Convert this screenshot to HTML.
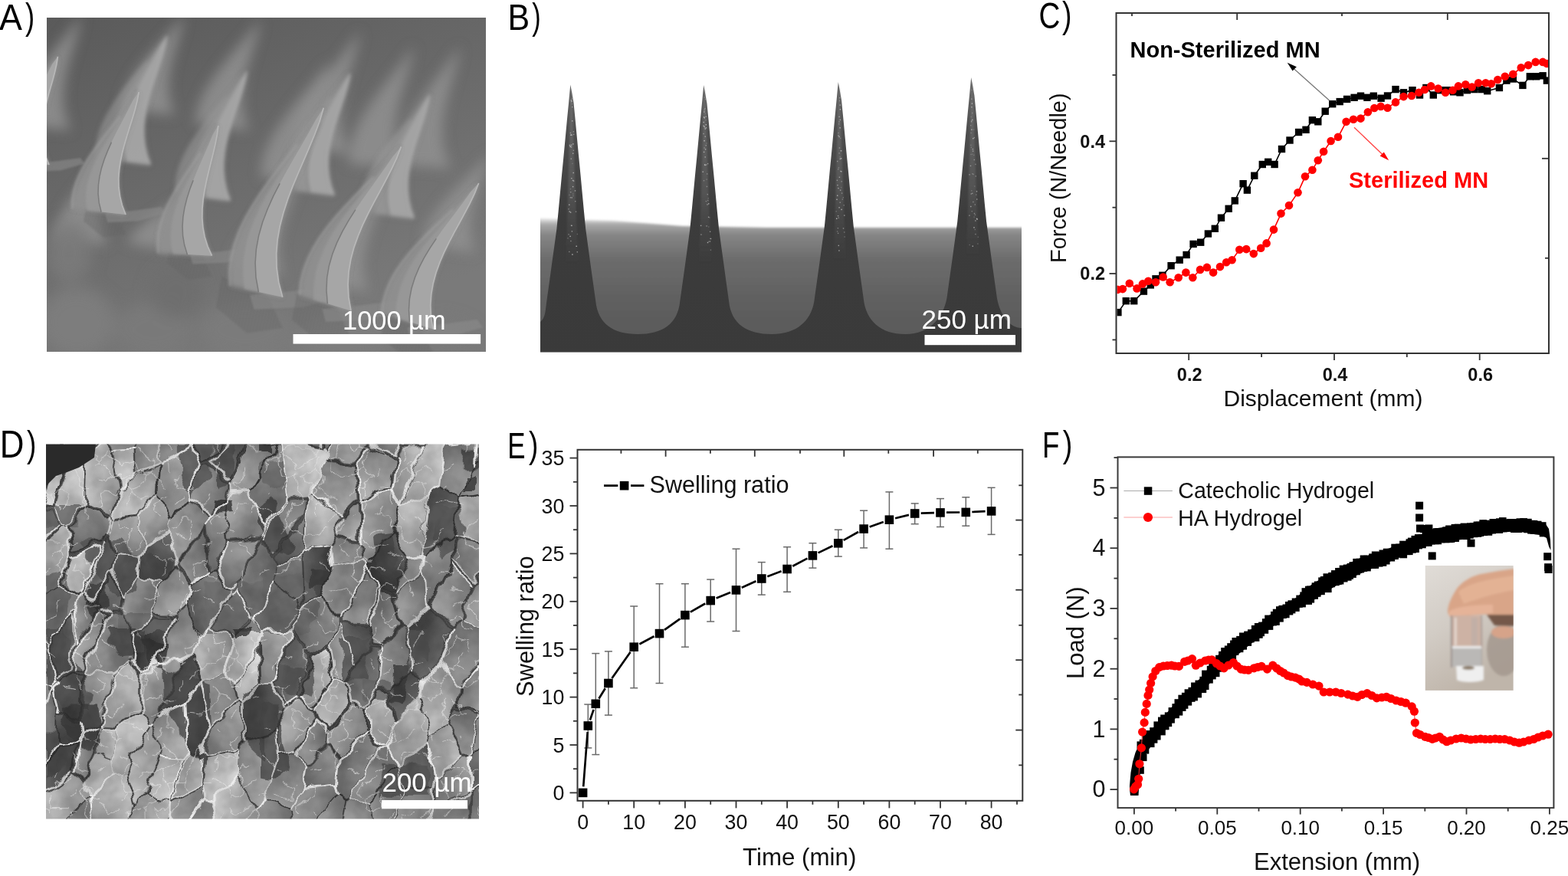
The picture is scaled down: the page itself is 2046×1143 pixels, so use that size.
<!DOCTYPE html>
<html><head><meta charset="utf-8"><title>Figure</title>
<style>html,body{margin:0;padding:0;background:#fff;overflow:hidden}svg{display:block}</style>
</head><body>
<svg width="2046" height="1143" viewBox="0 0 2046 1143">
<defs>
<clipPath id="clipA"><rect x="61" y="23" width="573" height="436"/></clipPath>
<clipPath id="clipB"><rect x="705" y="0" width="628" height="459.5"/></clipPath>
<clipPath id="clipC"><rect x="1457.5" y="18" width="562.5" height="442"/></clipPath>
<clipPath id="clipD"><rect x="60" y="579.5" width="565" height="489"/></clipPath>
<clipPath id="clipF"><rect x="1459.5" y="597.4" width="566.9" height="455.7"/></clipPath>
<clipPath id="clipFi"><rect x="1859.5" y="738" width="115.3" height="162.9"/></clipPath>
<linearGradient id="gA" x1="0" y1="0" x2="0.5" y2="1">
 <stop offset="0" stop-color="#5a5a5a"/><stop offset="0.45" stop-color="#686868"/><stop offset="1" stop-color="#7a7a7a"/></linearGradient>
<linearGradient id="gB" gradientUnits="userSpaceOnUse" x1="0" y1="286" x2="0" y2="460">
 <stop offset="0" stop-color="#e2e2e2"/><stop offset="0.04" stop-color="#a8a8a8"/><stop offset="0.12" stop-color="#858585"/>
 <stop offset="0.3" stop-color="#6c6c6c"/><stop offset="0.65" stop-color="#5e5e5e"/><stop offset="1" stop-color="#575757"/></linearGradient>
<linearGradient id="gN" gradientUnits="userSpaceOnUse" x1="0" y1="100" x2="0" y2="460">
 <stop offset="0" stop-color="#6a6a6a"/><stop offset="0.2" stop-color="#4e4e4e"/><stop offset="0.5" stop-color="#3c3c3c"/>
 <stop offset="1" stop-color="#3a3a3a"/></linearGradient>
<linearGradient id="gFi" x1="0" y1="0" x2="0.4" y2="1">
 <stop offset="0" stop-color="#e0dcd7"/><stop offset="0.5" stop-color="#d2ccc5"/><stop offset="1" stop-color="#bfb5aa"/></linearGradient>
<filter id="blur05" x="-10%" y="-10%" width="120%" height="120%"><feGaussianBlur stdDeviation="0.6"/></filter>
<filter id="blur3" x="-20%" y="-20%" width="140%" height="140%"><feGaussianBlur stdDeviation="3"/></filter>
<pattern id="stri" patternUnits="userSpaceOnUse" width="4" height="8" patternTransform="rotate(12)"><rect width="4" height="8" fill="#6a6a6a"/><rect width="1.4" height="8" fill="#585858"/></pattern>
<filter id="blur1" x="-10%" y="-10%" width="120%" height="120%"><feGaussianBlur stdDeviation="0.8"/></filter>
<filter id="blur15" x="-10%" y="-10%" width="120%" height="120%"><feGaussianBlur stdDeviation="1.5"/></filter>
<filter id="blur2" x="-10%" y="-10%" width="120%" height="120%"><feGaussianBlur stdDeviation="2"/></filter>
<filter id="blur4" x="-20%" y="-20%" width="140%" height="140%"><feGaussianBlur stdDeviation="4"/></filter>
<filter id="blur6" x="-20%" y="-20%" width="140%" height="140%"><feGaussianBlur stdDeviation="6"/></filter>
<filter id="blur8" x="-30%" y="-30%" width="160%" height="160%"><feGaussianBlur stdDeviation="8"/></filter>
<filter id="blur10" x="-30%" y="-30%" width="160%" height="160%"><feGaussianBlur stdDeviation="10"/></filter>
<filter id="warpD" x="-5%" y="-5%" width="110%" height="110%">
 <feTurbulence type="fractalNoise" baseFrequency="0.045" numOctaves="2" seed="9" result="t"/>
 <feDisplacementMap in="SourceGraphic" in2="t" scale="16" xChannelSelector="R" yChannelSelector="G"/>
</filter>
<filter id="warpD2" x="-5%" y="-5%" width="110%" height="110%">
 <feTurbulence type="fractalNoise" baseFrequency="0.09" numOctaves="2" seed="3" result="t"/>
 <feDisplacementMap in="SourceGraphic" in2="t" scale="10" xChannelSelector="R" yChannelSelector="G"/>
</filter>
<filter id="noiseD" x="0" y="0" width="100%" height="100%">
 <feTurbulence type="fractalNoise" baseFrequency="0.035" numOctaves="3" seed="4"/>
 <feColorMatrix type="matrix" values="0 0 0 0 0  0 0 0 0 0  0 0 0 0 0  1.6 1.6 0 0 -1.2"/>
</filter>
<linearGradient id="bs0" gradientUnits="userSpaceOnUse" x1="0" y1="110.5" x2="0" y2="345.5"><stop offset="0" stop-color="#777" stop-opacity="0.7"/><stop offset="0.6" stop-color="#666" stop-opacity="0.5"/><stop offset="1" stop-color="#555" stop-opacity="0"/></linearGradient>
<linearGradient id="bs1" gradientUnits="userSpaceOnUse" x1="0" y1="111" x2="0" y2="346"><stop offset="0" stop-color="#777" stop-opacity="0.7"/><stop offset="0.6" stop-color="#666" stop-opacity="0.5"/><stop offset="1" stop-color="#555" stop-opacity="0"/></linearGradient>
<linearGradient id="bs2" gradientUnits="userSpaceOnUse" x1="0" y1="107" x2="0" y2="342"><stop offset="0" stop-color="#777" stop-opacity="0.7"/><stop offset="0.6" stop-color="#666" stop-opacity="0.5"/><stop offset="1" stop-color="#555" stop-opacity="0"/></linearGradient>
<linearGradient id="bs3" gradientUnits="userSpaceOnUse" x1="0" y1="101" x2="0" y2="336"><stop offset="0" stop-color="#777" stop-opacity="0.7"/><stop offset="0.6" stop-color="#666" stop-opacity="0.5"/><stop offset="1" stop-color="#555" stop-opacity="0"/></linearGradient>
<linearGradient id="dg19" x1="0.20" y1="0.10" x2="0.80" y2="0.90"><stop offset="0" stop-color="#aaaaaa"/><stop offset="1" stop-color="#7a7a7a"/></linearGradient>
<linearGradient id="dg22" x1="0.04" y1="0.29" x2="0.96" y2="0.71"><stop offset="0" stop-color="#afafaf"/><stop offset="1" stop-color="#7f7f7f"/></linearGradient>
<linearGradient id="dg24" x1="0.96" y1="0.31" x2="0.04" y2="0.69"><stop offset="0" stop-color="#a1a1a1"/><stop offset="1" stop-color="#717171"/></linearGradient>
<linearGradient id="dg31" x1="0.06" y1="0.74" x2="0.94" y2="0.26"><stop offset="0" stop-color="#aeaeae"/><stop offset="1" stop-color="#7e7e7e"/></linearGradient>
<linearGradient id="dg38" x1="0.24" y1="0.07" x2="0.76" y2="0.93"><stop offset="0" stop-color="#aeaeae"/><stop offset="1" stop-color="#7e7e7e"/></linearGradient>
<linearGradient id="dg39" x1="0.11" y1="0.82" x2="0.89" y2="0.18"><stop offset="0" stop-color="#aaaaaa"/><stop offset="1" stop-color="#7a7a7a"/></linearGradient>
<linearGradient id="dg40" x1="0.00" y1="0.57" x2="1.00" y2="0.43"><stop offset="0" stop-color="#a2a2a2"/><stop offset="1" stop-color="#727272"/></linearGradient>
<linearGradient id="dg41" x1="0.87" y1="0.83" x2="0.13" y2="0.17"><stop offset="0" stop-color="#a6a6a6"/><stop offset="1" stop-color="#767676"/></linearGradient>
<linearGradient id="dg42" x1="0.82" y1="0.88" x2="0.18" y2="0.12"><stop offset="0" stop-color="#a0a0a0"/><stop offset="1" stop-color="#707070"/></linearGradient>
<linearGradient id="dg43" x1="0.83" y1="0.88" x2="0.17" y2="0.12"><stop offset="0" stop-color="#a7a7a7"/><stop offset="1" stop-color="#777777"/></linearGradient>
<linearGradient id="dg44" x1="0.42" y1="0.99" x2="0.58" y2="0.01"><stop offset="0" stop-color="#7a7a7a"/><stop offset="1" stop-color="#4a4a4a"/></linearGradient>
<linearGradient id="dg45" x1="0.98" y1="0.62" x2="0.02" y2="0.38"><stop offset="0" stop-color="#adadad"/><stop offset="1" stop-color="#7d7d7d"/></linearGradient>
<linearGradient id="dg46" x1="0.52" y1="0.00" x2="0.48" y2="1.00"><stop offset="0" stop-color="#9e9e9e"/><stop offset="1" stop-color="#6e6e6e"/></linearGradient>
<linearGradient id="dg47" x1="0.48" y1="0.00" x2="0.52" y2="1.00"><stop offset="0" stop-color="#a0a0a0"/><stop offset="1" stop-color="#707070"/></linearGradient>
<linearGradient id="dg48" x1="0.47" y1="1.00" x2="0.53" y2="0.00"><stop offset="0" stop-color="#a9a9a9"/><stop offset="1" stop-color="#797979"/></linearGradient>
<linearGradient id="dg49" x1="0.73" y1="0.06" x2="0.27" y2="0.94"><stop offset="0" stop-color="#aaaaaa"/><stop offset="1" stop-color="#7a7a7a"/></linearGradient>
<linearGradient id="dg50" x1="0.04" y1="0.30" x2="0.96" y2="0.70"><stop offset="0" stop-color="#999999"/><stop offset="1" stop-color="#696969"/></linearGradient>
<linearGradient id="dg51" x1="0.33" y1="0.97" x2="0.67" y2="0.03"><stop offset="0" stop-color="#999999"/><stop offset="1" stop-color="#696969"/></linearGradient>
<linearGradient id="dg52" x1="0.28" y1="0.95" x2="0.72" y2="0.05"><stop offset="0" stop-color="#adadad"/><stop offset="1" stop-color="#7d7d7d"/></linearGradient>
<linearGradient id="dg53" x1="0.44" y1="0.00" x2="0.56" y2="1.00"><stop offset="0" stop-color="#afafaf"/><stop offset="1" stop-color="#7f7f7f"/></linearGradient>
<linearGradient id="dg56" x1="0.46" y1="0.00" x2="0.54" y2="1.00"><stop offset="0" stop-color="#ababab"/><stop offset="1" stop-color="#7b7b7b"/></linearGradient>
<linearGradient id="dg57" x1="0.40" y1="0.99" x2="0.60" y2="0.01"><stop offset="0" stop-color="#dedede"/><stop offset="1" stop-color="#aeaeae"/></linearGradient>
<linearGradient id="dg58" x1="0.02" y1="0.36" x2="0.98" y2="0.64"><stop offset="0" stop-color="#cbcbcb"/><stop offset="1" stop-color="#9b9b9b"/></linearGradient>
<linearGradient id="dg59" x1="0.81" y1="0.89" x2="0.19" y2="0.11"><stop offset="0" stop-color="#d9d9d9"/><stop offset="1" stop-color="#a9a9a9"/></linearGradient>
<linearGradient id="dg60" x1="0.24" y1="0.93" x2="0.76" y2="0.07"><stop offset="0" stop-color="#d1d1d1"/><stop offset="1" stop-color="#a1a1a1"/></linearGradient>
<linearGradient id="dg61" x1="0.73" y1="0.06" x2="0.27" y2="0.94"><stop offset="0" stop-color="#bababa"/><stop offset="1" stop-color="#8a8a8a"/></linearGradient>
<linearGradient id="dg62" x1="0.01" y1="0.43" x2="0.99" y2="0.57"><stop offset="0" stop-color="#a3a3a3"/><stop offset="1" stop-color="#737373"/></linearGradient>
<linearGradient id="dg63" x1="0.15" y1="0.85" x2="0.85" y2="0.15"><stop offset="0" stop-color="#afafaf"/><stop offset="1" stop-color="#7f7f7f"/></linearGradient>
<linearGradient id="dg64" x1="0.44" y1="0.00" x2="0.56" y2="1.00"><stop offset="0" stop-color="#9a9a9a"/><stop offset="1" stop-color="#6a6a6a"/></linearGradient>
<linearGradient id="dg65" x1="0.92" y1="0.23" x2="0.08" y2="0.77"><stop offset="0" stop-color="#dedede"/><stop offset="1" stop-color="#aeaeae"/></linearGradient>
<linearGradient id="dg66" x1="0.58" y1="0.99" x2="0.42" y2="0.01"><stop offset="0" stop-color="#b6b6b6"/><stop offset="1" stop-color="#868686"/></linearGradient>
<linearGradient id="dg67" x1="0.47" y1="1.00" x2="0.53" y2="0.00"><stop offset="0" stop-color="#b4b4b4"/><stop offset="1" stop-color="#848484"/></linearGradient>
<linearGradient id="dg68" x1="0.97" y1="0.34" x2="0.03" y2="0.66"><stop offset="0" stop-color="#c1c1c1"/><stop offset="1" stop-color="#919191"/></linearGradient>
<linearGradient id="dg69" x1="0.85" y1="0.14" x2="0.15" y2="0.86"><stop offset="0" stop-color="#d5d5d5"/><stop offset="1" stop-color="#a5a5a5"/></linearGradient>
<linearGradient id="dg70" x1="0.81" y1="0.89" x2="0.19" y2="0.11"><stop offset="0" stop-color="#a6a6a6"/><stop offset="1" stop-color="#767676"/></linearGradient>
<linearGradient id="dg71" x1="0.72" y1="0.95" x2="0.28" y2="0.05"><stop offset="0" stop-color="#a5a5a5"/><stop offset="1" stop-color="#757575"/></linearGradient>
<linearGradient id="dg72" x1="0.33" y1="0.03" x2="0.67" y2="0.97"><stop offset="0" stop-color="#adadad"/><stop offset="1" stop-color="#7d7d7d"/></linearGradient>
<linearGradient id="dg74" x1="0.02" y1="0.37" x2="0.98" y2="0.63"><stop offset="0" stop-color="#9d9d9d"/><stop offset="1" stop-color="#6d6d6d"/></linearGradient>
<linearGradient id="dg75" x1="0.01" y1="0.60" x2="0.99" y2="0.40"><stop offset="0" stop-color="#9b9b9b"/><stop offset="1" stop-color="#6b6b6b"/></linearGradient>
<linearGradient id="dg76" x1="0.61" y1="0.01" x2="0.39" y2="0.99"><stop offset="0" stop-color="#dbdbdb"/><stop offset="1" stop-color="#ababab"/></linearGradient>
<linearGradient id="dg77" x1="0.57" y1="0.00" x2="0.43" y2="1.00"><stop offset="0" stop-color="#9a9a9a"/><stop offset="1" stop-color="#6a6a6a"/></linearGradient>
<linearGradient id="dg78" x1="0.52" y1="0.00" x2="0.48" y2="1.00"><stop offset="0" stop-color="#b1b1b1"/><stop offset="1" stop-color="#818181"/></linearGradient>
<linearGradient id="dg79" x1="0.42" y1="0.01" x2="0.58" y2="0.99"><stop offset="0" stop-color="#b7b7b7"/><stop offset="1" stop-color="#878787"/></linearGradient>
<linearGradient id="dg80" x1="0.09" y1="0.79" x2="0.91" y2="0.21"><stop offset="0" stop-color="#aeaeae"/><stop offset="1" stop-color="#7e7e7e"/></linearGradient>
<linearGradient id="dg81" x1="0.72" y1="0.05" x2="0.28" y2="0.95"><stop offset="0" stop-color="#a0a0a0"/><stop offset="1" stop-color="#707070"/></linearGradient>
<linearGradient id="dg82" x1="0.14" y1="0.15" x2="0.86" y2="0.85"><stop offset="0" stop-color="#aeaeae"/><stop offset="1" stop-color="#7e7e7e"/></linearGradient>
<linearGradient id="dg83" x1="0.47" y1="1.00" x2="0.53" y2="0.00"><stop offset="0" stop-color="#aaaaaa"/><stop offset="1" stop-color="#7a7a7a"/></linearGradient>
<linearGradient id="dg84" x1="0.73" y1="0.05" x2="0.27" y2="0.95"><stop offset="0" stop-color="#d3d3d3"/><stop offset="1" stop-color="#a3a3a3"/></linearGradient>
<linearGradient id="dg85" x1="0.81" y1="0.89" x2="0.19" y2="0.11"><stop offset="0" stop-color="#b4b4b4"/><stop offset="1" stop-color="#848484"/></linearGradient>
<linearGradient id="dg86" x1="0.06" y1="0.27" x2="0.94" y2="0.73"><stop offset="0" stop-color="#adadad"/><stop offset="1" stop-color="#7d7d7d"/></linearGradient>
<linearGradient id="dg87" x1="0.44" y1="0.00" x2="0.56" y2="1.00"><stop offset="0" stop-color="#cacaca"/><stop offset="1" stop-color="#9a9a9a"/></linearGradient>
<linearGradient id="dg88" x1="0.86" y1="0.85" x2="0.14" y2="0.15"><stop offset="0" stop-color="#787878"/><stop offset="1" stop-color="#484848"/></linearGradient>
<linearGradient id="dg89" x1="0.02" y1="0.35" x2="0.98" y2="0.65"><stop offset="0" stop-color="#c7c7c7"/><stop offset="1" stop-color="#979797"/></linearGradient>
<linearGradient id="dg90" x1="0.26" y1="0.06" x2="0.74" y2="0.94"><stop offset="0" stop-color="#9f9f9f"/><stop offset="1" stop-color="#6f6f6f"/></linearGradient>
<linearGradient id="dg93" x1="0.01" y1="0.41" x2="0.99" y2="0.59"><stop offset="0" stop-color="#989898"/><stop offset="1" stop-color="#686868"/></linearGradient>
<linearGradient id="dg94" x1="0.61" y1="0.01" x2="0.39" y2="0.99"><stop offset="0" stop-color="#c0c0c0"/><stop offset="1" stop-color="#909090"/></linearGradient>
<linearGradient id="dg95" x1="0.04" y1="0.30" x2="0.96" y2="0.70"><stop offset="0" stop-color="#d5d5d5"/><stop offset="1" stop-color="#a5a5a5"/></linearGradient>
<linearGradient id="dg96" x1="0.87" y1="0.84" x2="0.13" y2="0.16"><stop offset="0" stop-color="#828282"/><stop offset="1" stop-color="#525252"/></linearGradient>
<linearGradient id="dg97" x1="0.13" y1="0.17" x2="0.87" y2="0.83"><stop offset="0" stop-color="#6f6f6f"/><stop offset="1" stop-color="#3f3f3f"/></linearGradient>
<linearGradient id="dg98" x1="0.78" y1="0.09" x2="0.22" y2="0.91"><stop offset="0" stop-color="#717171"/><stop offset="1" stop-color="#414141"/></linearGradient>
<linearGradient id="dg99" x1="0.10" y1="0.81" x2="0.90" y2="0.19"><stop offset="0" stop-color="#9f9f9f"/><stop offset="1" stop-color="#6f6f6f"/></linearGradient>
<linearGradient id="dg100" x1="0.67" y1="0.03" x2="0.33" y2="0.97"><stop offset="0" stop-color="#a2a2a2"/><stop offset="1" stop-color="#727272"/></linearGradient>
<linearGradient id="dg101" x1="0.01" y1="0.38" x2="0.99" y2="0.62"><stop offset="0" stop-color="#8d8d8d"/><stop offset="1" stop-color="#5d5d5d"/></linearGradient>
<linearGradient id="dg102" x1="0.70" y1="0.04" x2="0.30" y2="0.96"><stop offset="0" stop-color="#878787"/><stop offset="1" stop-color="#575757"/></linearGradient>
<linearGradient id="dg103" x1="0.00" y1="0.50" x2="1.00" y2="0.50"><stop offset="0" stop-color="#676767"/><stop offset="1" stop-color="#373737"/></linearGradient>
<linearGradient id="dg104" x1="0.20" y1="0.90" x2="0.80" y2="0.10"><stop offset="0" stop-color="#acacac"/><stop offset="1" stop-color="#7c7c7c"/></linearGradient>
<linearGradient id="dg105" x1="0.86" y1="0.16" x2="0.14" y2="0.84"><stop offset="0" stop-color="#616161"/><stop offset="1" stop-color="#313131"/></linearGradient>
<linearGradient id="dg106" x1="0.83" y1="0.87" x2="0.17" y2="0.13"><stop offset="0" stop-color="#a9a9a9"/><stop offset="1" stop-color="#797979"/></linearGradient>
<linearGradient id="dg107" x1="0.41" y1="0.01" x2="0.59" y2="0.99"><stop offset="0" stop-color="#9e9e9e"/><stop offset="1" stop-color="#6e6e6e"/></linearGradient>
<linearGradient id="dg108" x1="0.99" y1="0.43" x2="0.01" y2="0.57"><stop offset="0" stop-color="#a4a4a4"/><stop offset="1" stop-color="#747474"/></linearGradient>
<linearGradient id="dg109" x1="0.01" y1="0.41" x2="0.99" y2="0.59"><stop offset="0" stop-color="#a2a2a2"/><stop offset="1" stop-color="#727272"/></linearGradient>
<linearGradient id="dg112" x1="1.00" y1="0.46" x2="0.00" y2="0.54"><stop offset="0" stop-color="#9b9b9b"/><stop offset="1" stop-color="#6b6b6b"/></linearGradient>
<linearGradient id="dg113" x1="0.99" y1="0.60" x2="0.01" y2="0.40"><stop offset="0" stop-color="#8e8e8e"/><stop offset="1" stop-color="#5e5e5e"/></linearGradient>
<linearGradient id="dg114" x1="0.00" y1="0.55" x2="1.00" y2="0.45"><stop offset="0" stop-color="#a0a0a0"/><stop offset="1" stop-color="#707070"/></linearGradient>
<linearGradient id="dg115" x1="0.59" y1="0.01" x2="0.41" y2="0.99"><stop offset="0" stop-color="#8a8a8a"/><stop offset="1" stop-color="#5a5a5a"/></linearGradient>
<linearGradient id="dg116" x1="0.02" y1="0.36" x2="0.98" y2="0.64"><stop offset="0" stop-color="#9e9e9e"/><stop offset="1" stop-color="#6e6e6e"/></linearGradient>
<linearGradient id="dg117" x1="0.71" y1="0.95" x2="0.29" y2="0.05"><stop offset="0" stop-color="#acacac"/><stop offset="1" stop-color="#7c7c7c"/></linearGradient>
<linearGradient id="dg118" x1="0.92" y1="0.22" x2="0.08" y2="0.78"><stop offset="0" stop-color="#898989"/><stop offset="1" stop-color="#595959"/></linearGradient>
<linearGradient id="dg119" x1="0.60" y1="0.01" x2="0.40" y2="0.99"><stop offset="0" stop-color="#8f8f8f"/><stop offset="1" stop-color="#5f5f5f"/></linearGradient>
<linearGradient id="dg120" x1="0.23" y1="0.08" x2="0.77" y2="0.92"><stop offset="0" stop-color="#878787"/><stop offset="1" stop-color="#575757"/></linearGradient>
<linearGradient id="dg121" x1="0.52" y1="0.00" x2="0.48" y2="1.00"><stop offset="0" stop-color="#818181"/><stop offset="1" stop-color="#515151"/></linearGradient>
<linearGradient id="dg122" x1="0.01" y1="0.42" x2="0.99" y2="0.58"><stop offset="0" stop-color="#a1a1a1"/><stop offset="1" stop-color="#717171"/></linearGradient>
<linearGradient id="dg123" x1="0.49" y1="1.00" x2="0.51" y2="0.00"><stop offset="0" stop-color="#9d9d9d"/><stop offset="1" stop-color="#6d6d6d"/></linearGradient>
<linearGradient id="dg124" x1="0.77" y1="0.92" x2="0.23" y2="0.08"><stop offset="0" stop-color="#9d9d9d"/><stop offset="1" stop-color="#6d6d6d"/></linearGradient>
<linearGradient id="dg125" x1="0.11" y1="0.81" x2="0.89" y2="0.19"><stop offset="0" stop-color="#a3a3a3"/><stop offset="1" stop-color="#737373"/></linearGradient>
<linearGradient id="dg126" x1="0.00" y1="0.56" x2="1.00" y2="0.44"><stop offset="0" stop-color="#ababab"/><stop offset="1" stop-color="#7b7b7b"/></linearGradient>
<linearGradient id="dg127" x1="0.64" y1="0.98" x2="0.36" y2="0.02"><stop offset="0" stop-color="#acacac"/><stop offset="1" stop-color="#7c7c7c"/></linearGradient>
<linearGradient id="dg128" x1="0.47" y1="0.00" x2="0.53" y2="1.00"><stop offset="0" stop-color="#a4a4a4"/><stop offset="1" stop-color="#747474"/></linearGradient>
<linearGradient id="dg130" x1="0.96" y1="0.31" x2="0.04" y2="0.69"><stop offset="0" stop-color="#9b9b9b"/><stop offset="1" stop-color="#6b6b6b"/></linearGradient>
<linearGradient id="dg131" x1="0.02" y1="0.65" x2="0.98" y2="0.35"><stop offset="0" stop-color="#acacac"/><stop offset="1" stop-color="#7c7c7c"/></linearGradient>
<linearGradient id="dg132" x1="0.98" y1="0.63" x2="0.02" y2="0.37"><stop offset="0" stop-color="#696969"/><stop offset="1" stop-color="#393939"/></linearGradient>
<linearGradient id="dg133" x1="0.00" y1="0.45" x2="1.00" y2="0.55"><stop offset="0" stop-color="#b2b2b2"/><stop offset="1" stop-color="#828282"/></linearGradient>
<linearGradient id="dg134" x1="0.03" y1="0.66" x2="0.97" y2="0.34"><stop offset="0" stop-color="#a0a0a0"/><stop offset="1" stop-color="#707070"/></linearGradient>
<linearGradient id="dg135" x1="0.98" y1="0.63" x2="0.02" y2="0.37"><stop offset="0" stop-color="#5e5e5e"/><stop offset="1" stop-color="#2e2e2e"/></linearGradient>
<linearGradient id="dg136" x1="0.61" y1="0.99" x2="0.39" y2="0.01"><stop offset="0" stop-color="#aeaeae"/><stop offset="1" stop-color="#7e7e7e"/></linearGradient>
<linearGradient id="dg137" x1="0.05" y1="0.72" x2="0.95" y2="0.28"><stop offset="0" stop-color="#c2c2c2"/><stop offset="1" stop-color="#929292"/></linearGradient>
<linearGradient id="dg138" x1="0.95" y1="0.27" x2="0.05" y2="0.73"><stop offset="0" stop-color="#d5d5d5"/><stop offset="1" stop-color="#a5a5a5"/></linearGradient>
<linearGradient id="dg139" x1="0.67" y1="0.03" x2="0.33" y2="0.97"><stop offset="0" stop-color="#b0b0b0"/><stop offset="1" stop-color="#808080"/></linearGradient>
<linearGradient id="dg140" x1="0.92" y1="0.23" x2="0.08" y2="0.77"><stop offset="0" stop-color="#989898"/><stop offset="1" stop-color="#686868"/></linearGradient>
<linearGradient id="dg141" x1="0.95" y1="0.72" x2="0.05" y2="0.28"><stop offset="0" stop-color="#b8b8b8"/><stop offset="1" stop-color="#888888"/></linearGradient>
<linearGradient id="dg142" x1="0.13" y1="0.83" x2="0.87" y2="0.17"><stop offset="0" stop-color="#7e7e7e"/><stop offset="1" stop-color="#4e4e4e"/></linearGradient>
<linearGradient id="dg143" x1="0.08" y1="0.77" x2="0.92" y2="0.23"><stop offset="0" stop-color="#a2a2a2"/><stop offset="1" stop-color="#727272"/></linearGradient>
<linearGradient id="dg144" x1="0.83" y1="0.88" x2="0.17" y2="0.12"><stop offset="0" stop-color="#737373"/><stop offset="1" stop-color="#434343"/></linearGradient>
<linearGradient id="dg145" x1="0.47" y1="1.00" x2="0.53" y2="0.00"><stop offset="0" stop-color="#9e9e9e"/><stop offset="1" stop-color="#6e6e6e"/></linearGradient>
<linearGradient id="dg146" x1="0.21" y1="0.10" x2="0.79" y2="0.90"><stop offset="0" stop-color="#a3a3a3"/><stop offset="1" stop-color="#737373"/></linearGradient>
<linearGradient id="dg149" x1="0.90" y1="0.80" x2="0.10" y2="0.20"><stop offset="0" stop-color="#9e9e9e"/><stop offset="1" stop-color="#6e6e6e"/></linearGradient>
<linearGradient id="dg150" x1="0.77" y1="0.92" x2="0.23" y2="0.08"><stop offset="0" stop-color="#ababab"/><stop offset="1" stop-color="#7b7b7b"/></linearGradient>
<linearGradient id="dg151" x1="0.20" y1="0.10" x2="0.80" y2="0.90"><stop offset="0" stop-color="#6d6d6d"/><stop offset="1" stop-color="#3d3d3d"/></linearGradient>
<linearGradient id="dg152" x1="0.88" y1="0.17" x2="0.12" y2="0.83"><stop offset="0" stop-color="#b0b0b0"/><stop offset="1" stop-color="#808080"/></linearGradient>
<linearGradient id="dg153" x1="0.84" y1="0.14" x2="0.16" y2="0.86"><stop offset="0" stop-color="#c6c6c6"/><stop offset="1" stop-color="#969696"/></linearGradient>
<linearGradient id="dg154" x1="0.30" y1="0.04" x2="0.70" y2="0.96"><stop offset="0" stop-color="#afafaf"/><stop offset="1" stop-color="#7f7f7f"/></linearGradient>
<linearGradient id="dg155" x1="0.85" y1="0.85" x2="0.15" y2="0.15"><stop offset="0" stop-color="#6b6b6b"/><stop offset="1" stop-color="#3b3b3b"/></linearGradient>
<linearGradient id="dg156" x1="0.01" y1="0.59" x2="0.99" y2="0.41"><stop offset="0" stop-color="#adadad"/><stop offset="1" stop-color="#7d7d7d"/></linearGradient>
<linearGradient id="dg157" x1="1.00" y1="0.46" x2="0.00" y2="0.54"><stop offset="0" stop-color="#e1e1e1"/><stop offset="1" stop-color="#b1b1b1"/></linearGradient>
<linearGradient id="dg158" x1="0.86" y1="0.84" x2="0.14" y2="0.16"><stop offset="0" stop-color="#848484"/><stop offset="1" stop-color="#545454"/></linearGradient>
<linearGradient id="dg159" x1="0.76" y1="0.08" x2="0.24" y2="0.92"><stop offset="0" stop-color="#cdcdcd"/><stop offset="1" stop-color="#9d9d9d"/></linearGradient>
<linearGradient id="dg160" x1="0.60" y1="0.99" x2="0.40" y2="0.01"><stop offset="0" stop-color="#d4d4d4"/><stop offset="1" stop-color="#a4a4a4"/></linearGradient>
<linearGradient id="dg161" x1="0.79" y1="0.91" x2="0.21" y2="0.09"><stop offset="0" stop-color="#878787"/><stop offset="1" stop-color="#575757"/></linearGradient>
<linearGradient id="dg162" x1="0.65" y1="0.98" x2="0.35" y2="0.02"><stop offset="0" stop-color="#777777"/><stop offset="1" stop-color="#474747"/></linearGradient>
<linearGradient id="dg163" x1="0.24" y1="0.93" x2="0.76" y2="0.07"><stop offset="0" stop-color="#c4c4c4"/><stop offset="1" stop-color="#949494"/></linearGradient>
<linearGradient id="dg164" x1="0.97" y1="0.68" x2="0.03" y2="0.32"><stop offset="0" stop-color="#a8a8a8"/><stop offset="1" stop-color="#787878"/></linearGradient>
<linearGradient id="dg165" x1="0.97" y1="0.32" x2="0.03" y2="0.68"><stop offset="0" stop-color="#a5a5a5"/><stop offset="1" stop-color="#757575"/></linearGradient>
<linearGradient id="dg166" x1="0.51" y1="0.00" x2="0.49" y2="1.00"><stop offset="0" stop-color="#a0a0a0"/><stop offset="1" stop-color="#707070"/></linearGradient>
<linearGradient id="dg168" x1="0.45" y1="1.00" x2="0.55" y2="0.00"><stop offset="0" stop-color="#aaaaaa"/><stop offset="1" stop-color="#7a7a7a"/></linearGradient>
<linearGradient id="dg169" x1="0.00" y1="0.56" x2="1.00" y2="0.44"><stop offset="0" stop-color="#a1a1a1"/><stop offset="1" stop-color="#717171"/></linearGradient>
<linearGradient id="dg170" x1="0.42" y1="0.01" x2="0.58" y2="0.99"><stop offset="0" stop-color="#686868"/><stop offset="1" stop-color="#383838"/></linearGradient>
<linearGradient id="dg171" x1="0.91" y1="0.22" x2="0.09" y2="0.78"><stop offset="0" stop-color="#cacaca"/><stop offset="1" stop-color="#9a9a9a"/></linearGradient>
<linearGradient id="dg172" x1="0.29" y1="0.05" x2="0.71" y2="0.95"><stop offset="0" stop-color="#d5d5d5"/><stop offset="1" stop-color="#a5a5a5"/></linearGradient>
<linearGradient id="dg173" x1="0.97" y1="0.66" x2="0.03" y2="0.34"><stop offset="0" stop-color="#bdbdbd"/><stop offset="1" stop-color="#8d8d8d"/></linearGradient>
<linearGradient id="dg174" x1="0.51" y1="0.00" x2="0.49" y2="1.00"><stop offset="0" stop-color="#636363"/><stop offset="1" stop-color="#333333"/></linearGradient>
<linearGradient id="dg175" x1="0.88" y1="0.18" x2="0.12" y2="0.82"><stop offset="0" stop-color="#aaaaaa"/><stop offset="1" stop-color="#7a7a7a"/></linearGradient>
<linearGradient id="dg176" x1="1.00" y1="0.53" x2="0.00" y2="0.47"><stop offset="0" stop-color="#656565"/><stop offset="1" stop-color="#353535"/></linearGradient>
<linearGradient id="dg177" x1="0.15" y1="0.14" x2="0.85" y2="0.86"><stop offset="0" stop-color="#bebebe"/><stop offset="1" stop-color="#8e8e8e"/></linearGradient>
<linearGradient id="dg178" x1="0.13" y1="0.83" x2="0.87" y2="0.17"><stop offset="0" stop-color="#a3a3a3"/><stop offset="1" stop-color="#737373"/></linearGradient>
<linearGradient id="dg179" x1="0.08" y1="0.22" x2="0.92" y2="0.78"><stop offset="0" stop-color="#b0b0b0"/><stop offset="1" stop-color="#808080"/></linearGradient>
<linearGradient id="dg180" x1="0.46" y1="0.00" x2="0.54" y2="1.00"><stop offset="0" stop-color="#c7c7c7"/><stop offset="1" stop-color="#979797"/></linearGradient>
<linearGradient id="dg181" x1="0.77" y1="0.08" x2="0.23" y2="0.92"><stop offset="0" stop-color="#c5c5c5"/><stop offset="1" stop-color="#959595"/></linearGradient>
<linearGradient id="dg182" x1="0.99" y1="0.62" x2="0.01" y2="0.38"><stop offset="0" stop-color="#c4c4c4"/><stop offset="1" stop-color="#949494"/></linearGradient>
<linearGradient id="dg183" x1="0.41" y1="0.99" x2="0.59" y2="0.01"><stop offset="0" stop-color="#9c9c9c"/><stop offset="1" stop-color="#6c6c6c"/></linearGradient>
<linearGradient id="dg184" x1="0.00" y1="0.51" x2="1.00" y2="0.49"><stop offset="0" stop-color="#999999"/><stop offset="1" stop-color="#696969"/></linearGradient>
<linearGradient id="dg187" x1="0.98" y1="0.36" x2="0.02" y2="0.64"><stop offset="0" stop-color="#aeaeae"/><stop offset="1" stop-color="#7e7e7e"/></linearGradient>
<linearGradient id="dg188" x1="0.00" y1="0.53" x2="1.00" y2="0.47"><stop offset="0" stop-color="#717171"/><stop offset="1" stop-color="#414141"/></linearGradient>
<linearGradient id="dg189" x1="0.05" y1="0.71" x2="0.95" y2="0.29"><stop offset="0" stop-color="#9a9a9a"/><stop offset="1" stop-color="#6a6a6a"/></linearGradient>
<linearGradient id="dg190" x1="0.71" y1="0.95" x2="0.29" y2="0.05"><stop offset="0" stop-color="#cecece"/><stop offset="1" stop-color="#9e9e9e"/></linearGradient>
<linearGradient id="dg191" x1="0.19" y1="0.89" x2="0.81" y2="0.11"><stop offset="0" stop-color="#cbcbcb"/><stop offset="1" stop-color="#9b9b9b"/></linearGradient>
<linearGradient id="dg192" x1="0.65" y1="0.98" x2="0.35" y2="0.02"><stop offset="0" stop-color="#d5d5d5"/><stop offset="1" stop-color="#a5a5a5"/></linearGradient>
<linearGradient id="dg193" x1="0.91" y1="0.78" x2="0.09" y2="0.22"><stop offset="0" stop-color="#c4c4c4"/><stop offset="1" stop-color="#949494"/></linearGradient>
<linearGradient id="dg194" x1="0.94" y1="0.74" x2="0.06" y2="0.26"><stop offset="0" stop-color="#dbdbdb"/><stop offset="1" stop-color="#ababab"/></linearGradient>
<linearGradient id="dg195" x1="0.96" y1="0.70" x2="0.04" y2="0.30"><stop offset="0" stop-color="#b6b6b6"/><stop offset="1" stop-color="#868686"/></linearGradient>
<linearGradient id="dg196" x1="0.52" y1="1.00" x2="0.48" y2="0.00"><stop offset="0" stop-color="#a5a5a5"/><stop offset="1" stop-color="#757575"/></linearGradient>
<linearGradient id="dg197" x1="0.86" y1="0.16" x2="0.14" y2="0.84"><stop offset="0" stop-color="#9a9a9a"/><stop offset="1" stop-color="#6a6a6a"/></linearGradient>
<linearGradient id="dg198" x1="0.99" y1="0.59" x2="0.01" y2="0.41"><stop offset="0" stop-color="#989898"/><stop offset="1" stop-color="#686868"/></linearGradient>
<linearGradient id="dg199" x1="0.18" y1="0.88" x2="0.82" y2="0.12"><stop offset="0" stop-color="#a1a1a1"/><stop offset="1" stop-color="#717171"/></linearGradient>
<linearGradient id="dg200" x1="0.10" y1="0.81" x2="0.90" y2="0.19"><stop offset="0" stop-color="#808080"/><stop offset="1" stop-color="#505050"/></linearGradient>
<linearGradient id="dg201" x1="0.96" y1="0.29" x2="0.04" y2="0.71"><stop offset="0" stop-color="#aaaaaa"/><stop offset="1" stop-color="#7a7a7a"/></linearGradient>
<linearGradient id="dg202" x1="0.98" y1="0.37" x2="0.02" y2="0.63"><stop offset="0" stop-color="#989898"/><stop offset="1" stop-color="#686868"/></linearGradient>
<linearGradient id="dg206" x1="1.00" y1="0.55" x2="0.00" y2="0.45"><stop offset="0" stop-color="#a3a3a3"/><stop offset="1" stop-color="#737373"/></linearGradient>
<linearGradient id="dg207" x1="0.00" y1="0.48" x2="1.00" y2="0.52"><stop offset="0" stop-color="#c5c5c5"/><stop offset="1" stop-color="#959595"/></linearGradient>
<linearGradient id="dg208" x1="0.51" y1="1.00" x2="0.49" y2="0.00"><stop offset="0" stop-color="#a0a0a0"/><stop offset="1" stop-color="#707070"/></linearGradient>
<linearGradient id="dg209" x1="0.80" y1="0.10" x2="0.20" y2="0.90"><stop offset="0" stop-color="#c9c9c9"/><stop offset="1" stop-color="#999999"/></linearGradient>
<linearGradient id="dg210" x1="1.00" y1="0.53" x2="0.00" y2="0.47"><stop offset="0" stop-color="#c3c3c3"/><stop offset="1" stop-color="#939393"/></linearGradient>
<linearGradient id="dg211" x1="0.00" y1="0.52" x2="1.00" y2="0.48"><stop offset="0" stop-color="#ababab"/><stop offset="1" stop-color="#7b7b7b"/></linearGradient>
<linearGradient id="dg212" x1="0.88" y1="0.82" x2="0.12" y2="0.18"><stop offset="0" stop-color="#9e9e9e"/><stop offset="1" stop-color="#6e6e6e"/></linearGradient>
<linearGradient id="dg213" x1="0.00" y1="0.50" x2="1.00" y2="0.50"><stop offset="0" stop-color="#d5d5d5"/><stop offset="1" stop-color="#a5a5a5"/></linearGradient>
<linearGradient id="dg214" x1="0.01" y1="0.57" x2="0.99" y2="0.43"><stop offset="0" stop-color="#a5a5a5"/><stop offset="1" stop-color="#757575"/></linearGradient>
<linearGradient id="dg215" x1="0.02" y1="0.35" x2="0.98" y2="0.65"><stop offset="0" stop-color="#a4a4a4"/><stop offset="1" stop-color="#747474"/></linearGradient>
<linearGradient id="dg216" x1="0.01" y1="0.42" x2="0.99" y2="0.58"><stop offset="0" stop-color="#a4a4a4"/><stop offset="1" stop-color="#747474"/></linearGradient>
<linearGradient id="dg217" x1="0.17" y1="0.87" x2="0.83" y2="0.13"><stop offset="0" stop-color="#afafaf"/><stop offset="1" stop-color="#7f7f7f"/></linearGradient>
<linearGradient id="dg218" x1="0.00" y1="0.45" x2="1.00" y2="0.55"><stop offset="0" stop-color="#a2a2a2"/><stop offset="1" stop-color="#727272"/></linearGradient>
<linearGradient id="dg219" x1="0.15" y1="0.86" x2="0.85" y2="0.14"><stop offset="0" stop-color="#a7a7a7"/><stop offset="1" stop-color="#777777"/></linearGradient>
<linearGradient id="dg220" x1="0.29" y1="0.96" x2="0.71" y2="0.04"><stop offset="0" stop-color="#9f9f9f"/><stop offset="1" stop-color="#6f6f6f"/></linearGradient>
<linearGradient id="dg221" x1="0.82" y1="0.88" x2="0.18" y2="0.12"><stop offset="0" stop-color="#9a9a9a"/><stop offset="1" stop-color="#6a6a6a"/></linearGradient>
<linearGradient id="dg224" x1="0.29" y1="0.05" x2="0.71" y2="0.95"><stop offset="0" stop-color="#a2a2a2"/><stop offset="1" stop-color="#727272"/></linearGradient>
<linearGradient id="dg226" x1="0.66" y1="0.03" x2="0.34" y2="0.97"><stop offset="0" stop-color="#a8a8a8"/><stop offset="1" stop-color="#787878"/></linearGradient>
<linearGradient id="dg227" x1="0.02" y1="0.35" x2="0.98" y2="0.65"><stop offset="0" stop-color="#a7a7a7"/><stop offset="1" stop-color="#777777"/></linearGradient>
<linearGradient id="dg228" x1="0.28" y1="0.95" x2="0.72" y2="0.05"><stop offset="0" stop-color="#9a9a9a"/><stop offset="1" stop-color="#6a6a6a"/></linearGradient>
<linearGradient id="dg229" x1="0.35" y1="0.02" x2="0.65" y2="0.98"><stop offset="0" stop-color="#9c9c9c"/><stop offset="1" stop-color="#6c6c6c"/></linearGradient>
<linearGradient id="dg231" x1="0.28" y1="0.95" x2="0.72" y2="0.05"><stop offset="0" stop-color="#aaaaaa"/><stop offset="1" stop-color="#7a7a7a"/></linearGradient>
<linearGradient id="dg232" x1="0.08" y1="0.24" x2="0.92" y2="0.76"><stop offset="0" stop-color="#a2a2a2"/><stop offset="1" stop-color="#727272"/></linearGradient>
<linearGradient id="dg233" x1="0.55" y1="1.00" x2="0.45" y2="0.00"><stop offset="0" stop-color="#a8a8a8"/><stop offset="1" stop-color="#787878"/></linearGradient>
<linearGradient id="dg234" x1="0.40" y1="0.01" x2="0.60" y2="0.99"><stop offset="0" stop-color="#a1a1a1"/><stop offset="1" stop-color="#717171"/></linearGradient>
<linearGradient id="dg236" x1="0.56" y1="1.00" x2="0.44" y2="0.00"><stop offset="0" stop-color="#a3a3a3"/><stop offset="1" stop-color="#737373"/></linearGradient>
<linearGradient id="dg237" x1="0.25" y1="0.93" x2="0.75" y2="0.07"><stop offset="0" stop-color="#a5a5a5"/><stop offset="1" stop-color="#757575"/></linearGradient>
<linearGradient id="dg238" x1="0.66" y1="0.97" x2="0.34" y2="0.03"><stop offset="0" stop-color="#9d9d9d"/><stop offset="1" stop-color="#6d6d6d"/></linearGradient>
<linearGradient id="dg239" x1="0.17" y1="0.88" x2="0.83" y2="0.12"><stop offset="0" stop-color="#a8a8a8"/><stop offset="1" stop-color="#787878"/></linearGradient>
</defs>
<rect width="2046" height="1143" fill="#fff"/>
<g clip-path="url(#clipA)">
<rect x="61" y="23" width="573" height="436" fill="url(#gA)"/>
<g filter="url(#blur8)" fill="#909090">
<polygon points="106,20 104.2,30.6 101.7,41.2 98.7,51.7 95.6,62.3 92.5,72.8 89.5,83.3 86.9,93.9 84.8,104.5 83.3,115.2 82.7,125.9 83.1,136.7 84.7,147.7 87.6,158.8 92,170 22.3,163.5 22.6,152.7 24.5,142.1 27.7,131.6 32.1,121.2 37.5,110.9 43.8,100.7 50.8,90.5 58.4,80.4 66.3,70.3 74.4,60.3 82.6,50.2 90.7,40.2 98.5,30.1 106,20" opacity="0.85"/>
<polygon points="240,20 238.5,29.2 236.3,38.4 233.7,47.5 231,56.6 228.3,65.7 225.8,74.9 223.5,84 221.7,93.2 220.4,102.5 219.9,111.8 220.3,121.2 221.6,130.7 224.1,140.3 228,150 158.3,143.6 159.2,134.3 161.4,125.1 164.8,116.1 169.3,107.1 174.6,98.2 180.7,89.4 187.4,80.7 194.6,72 202.1,63.3 209.8,54.7 217.6,46 225.3,37.4 232.8,28.7 240,20" opacity="0.85"/>
<polygon points="340,25 338.2,35.3 335.6,45.5 332.7,55.6 329.5,65.8 326.4,75.9 323.5,86.1 320.8,96.3 318.7,106.5 317.1,116.8 316.4,127.2 316.7,137.7 318.1,148.4 320.8,159.1 325,170 255.4,162.8 255.9,152.4 258,142.1 261.3,132 265.9,122 271.4,112.1 277.7,102.3 284.8,92.6 292.3,82.9 300.2,73.2 308.4,63.6 316.6,54 324.6,44.3 332.5,34.7 340,25" opacity="0.85"/>
<polygon points="470,40 468.1,51.3 465.4,62.6 462.2,73.9 458.9,85.1 455.6,96.3 452.4,107.5 449.6,118.8 447.3,130.1 445.8,141.5 445.1,153 445.5,164.5 447.2,176.2 450.3,188 455,200 385.3,193.5 385.3,181.9 387,170.6 390.1,159.3 394.5,148.2 400,137.2 406.4,126.3 413.5,115.4 421.2,104.6 429.4,93.8 437.7,83.1 446.1,72.3 454.4,61.6 462.4,50.8 470,40" opacity="0.85"/>
<polygon points="540,60 538.1,71.3 535.4,82.6 532.2,93.9 528.9,105.1 525.6,116.3 522.4,127.5 519.6,138.8 517.3,150.1 515.8,161.5 515.1,173 515.5,184.5 517.2,196.2 520.3,208 525,220 455.3,213.5 455.3,201.9 457,190.6 460.1,179.3 464.5,168.2 470,157.2 476.4,146.3 483.5,135.4 491.2,124.6 499.4,113.8 507.7,103.1 516.1,92.3 524.4,81.6 532.4,70.8 540,60" opacity="0.85"/>
<polygon points="600,60 598.3,71.4 595.8,82.7 592.9,93.9 589.8,105.2 586.6,116.5 583.7,127.7 581.1,139 579,150.4 577.7,161.8 577.2,173.2 577.9,184.8 579.7,196.4 583.1,208.1 588,220 518.2,214.8 518,203.3 519.5,191.9 522.4,180.6 526.5,169.4 531.8,158.3 538,147.3 545,136.3 552.5,125.4 560.4,114.5 568.5,103.6 576.7,92.7 584.8,81.8 592.6,70.9 600,60" opacity="0.85"/>
<polygon points="430,80 427.7,91.3 424.7,102.5 421.2,113.7 417.5,124.9 413.8,136 410.3,147.2 407.1,158.4 404.5,169.7 402.6,181 401.5,192.5 401.6,204.1 402.9,215.9 405.6,227.8 410,240 340.5,231.3 340.9,219.8 342.9,208.4 346.3,197.2 351.1,186.2 356.9,175.3 363.7,164.6 371.1,153.9 379.2,143.3 387.7,132.7 396.4,122.2 405.1,111.7 413.7,101.2 422.1,90.6 430,80" opacity="0.85"/>
<polygon points="150,190 148.6,199.2 146.6,208.4 144.2,217.6 141.6,226.7 139.1,235.9 136.6,245 134.5,254.2 132.8,263.4 131.7,272.7 131.3,282 131.8,291.3 133.3,300.8 136,310.4 140,320 70.2,314.6 71,305.3 73,296.2 76.3,287.1 80.6,278.1 85.9,269.1 91.8,260.2 98.4,251.4 105.4,242.6 112.8,233.8 120.4,225.1 128,216.3 135.6,207.6 142.9,198.8 150,190" opacity="0.85"/>
<polygon points="640,200 637.9,209.2 635.1,218.3 632,227.3 628.8,236.3 625.5,245.3 622.4,254.3 619.5,263.4 617.1,272.5 615.3,281.7 614.2,291.1 614,300.6 614.8,310.2 616.7,320 620,330 550.8,319.4 552.2,310.1 555,301 558.9,292.1 563.9,283.4 569.8,274.8 576.5,266.3 583.7,257.9 591.4,249.6 599.5,241.3 607.7,233.1 616,224.8 624.2,216.6 632.2,208.3 640,200" opacity="0.85"/>
<polygon points="500,250 497.9,259.2 495.1,268.3 492,277.3 488.8,286.3 485.5,295.3 482.4,304.3 479.5,313.4 477.1,322.5 475.3,331.7 474.2,341.1 474,350.6 474.8,360.2 476.7,370 480,380 410.8,369.4 412.2,360.1 415,351 418.9,342.1 423.9,333.4 429.8,324.8 436.5,316.3 443.7,307.9 451.4,299.6 459.5,291.3 467.7,283.1 476,274.8 484.2,266.6 492.2,258.3 500,250" opacity="0.85"/>
<polygon points="390,230 387.9,239.2 385.1,248.3 382,257.3 378.8,266.3 375.5,275.3 372.4,284.3 369.5,293.4 367.1,302.5 365.3,311.7 364.2,321.1 364,330.6 364.8,340.2 366.7,350 370,360 300.8,349.4 302.2,340.1 305,331 308.9,322.1 313.9,313.4 319.8,304.8 326.5,296.3 333.7,287.9 341.4,279.6 349.5,271.3 357.7,263.1 366,254.8 374.2,246.6 382.2,238.3 390,230" opacity="0.85"/>
<polygon points="250,250 248.5,255.6 246.6,261.2 244.5,266.7 242.3,272.2 240.1,277.7 238,283.2 236.1,288.8 234.4,294.4 233.1,300.1 232.2,305.8 231.9,311.7 232.2,317.6 233.2,323.7 235,330 166.2,317.1 169.1,311.7 172.7,306.5 177.2,301.4 182.2,296.4 187.8,291.6 193.9,286.8 200.4,282.1 207.2,277.5 214.2,272.9 221.4,268.3 228.6,263.7 235.8,259.2 242.9,254.6 250,250" opacity="0.85"/>
</g>
<g filter="url(#blur10)">
<ellipse cx="100" cy="420" rx="50" ry="45" fill="#7e7e7e" opacity="0.9"/>
<ellipse cx="200" cy="430" rx="50" ry="35" fill="#7a7a7a" opacity="0.9"/>
<ellipse cx="320" cy="430" rx="60" ry="35" fill="#7c7c7c" opacity="0.9"/>
<ellipse cx="450" cy="440" rx="60" ry="30" fill="#7e7e7e" opacity="0.9"/>
<ellipse cx="570" cy="440" rx="50" ry="25" fill="#7a7a7a" opacity="0.9"/>
<ellipse cx="90" cy="330" rx="30" ry="40" fill="#7a7a7a" opacity="0.9"/>
<ellipse cx="230" cy="380" rx="35" ry="35" fill="#6e6e6e" opacity="0.9"/>
</g>
<g filter="url(#blur2)">
<polygon points="217.8,46.9 215.4,58.8 212.1,70.6 208.4,82.3 204.4,94 200.5,105.7 196.7,117.4 193.3,129.2 190.5,141 188.5,153 187.3,165 187.3,177.2 188.6,189.6 191.5,202.2 196,215 126.6,206 126.8,193.8 128.7,181.9 132.1,170.1 136.9,158.5 142.8,147.1 149.7,135.7 157.4,124.5 165.7,113.4 174.4,102.3 183.3,91.3 192.3,80.2 201.2,69.2 209.7,58.1 217.8,46.9" fill="#909090" opacity="0.76" filter="url(#blur3)"/>
<polygon points="217.8,46.9 215.4,58.8 212.1,70.6 208.4,82.3 204.4,94 200.5,105.7 196.7,117.4 193.3,129.2 190.5,141 188.5,153 187.3,165 187.3,177.2 188.6,189.6 191.5,202.2 196,215 145.4,208.4 144.1,196.1 144.5,183.9 146.5,171.9 149.8,160.2 154.2,148.5 159.6,137 165.8,125.6 172.7,114.3 179.9,103 187.4,91.8 195,80.6 202.5,69.3 209.7,58.1 217.8,46.9" fill="#999999" opacity="0.68" filter="url(#blur15)"/>
<polygon points="217.8,46.9 215.4,58.8 212.1,70.6 208.4,82.3 204.4,94 200.5,105.7 196.7,117.4 193.3,129.2 190.5,141 188.5,153 187.3,165 187.3,177.2 188.6,189.6 191.5,202.2 196,215 164.3,210.9 161.4,198.3 160.4,186 160.8,173.8 162.6,161.8 165.6,150 169.5,138.3 174.3,126.7 179.6,115.2 185.4,103.7 191.5,92.3 197.7,80.9 203.8,69.5 209.8,58.1 217.8,46.9" fill="#a6a6a6" opacity="0.80"/>
<polyline points="179.6,115.2 174.3,126.7 169.5,138.3 165.6,150 162.6,161.8 160.8,173.8 160.4,186 161.4,198.3 164.3,210.9" fill="none" stroke="#5e5e5e" stroke-width="1.5" opacity="0.44"/>
<polyline points="217.8,46.9 215.4,58.8 212.1,70.6 208.4,82.3 204.4,94 200.5,105.7 196.7,117.4 193.3,129.2 190.5,141 188.5,153 187.3,165 187.3,177.2 188.6,189.6 191.5,202.2 196,215" fill="none" stroke="#b8b8b8" stroke-width="1.7" opacity="0.80"/>
<polyline points="192.3,80.2 183.3,91.3 174.4,102.3 165.7,113.4 157.4,124.5 149.7,135.7 142.8,147.1 136.9,158.5 132.1,170.1 128.7,181.9 126.8,193.8 126.6,206" fill="none" stroke="#a4a4a4" stroke-width="3" opacity="0.40" filter="url(#blur15)"/>
</g>
<g filter="url(#blur2)">
<polygon points="321.7,93.1 319.3,105 316,116.9 312.3,128.7 308.3,140.4 304.4,152.2 300.6,164 297.2,175.8 294.4,187.7 292.4,199.7 291.2,211.8 291.2,224.1 292.6,236.5 295.4,249.1 300,262 230.6,253.1 230.7,240.8 232.6,228.8 236,217 240.8,205.3 246.7,193.8 253.6,182.5 261.3,171.2 269.6,160 278.3,148.8 287.2,137.7 296.2,126.6 305.1,115.5 313.6,104.3 321.7,93.1" fill="#909090" opacity="0.76" filter="url(#blur3)"/>
<polygon points="321.7,93.1 319.3,105 316,116.9 312.3,128.7 308.3,140.4 304.4,152.2 300.6,164 297.2,175.8 294.4,187.7 292.4,199.7 291.2,211.8 291.2,224.1 292.6,236.5 295.4,249.1 300,262 249.4,255.5 248.1,243.1 248.4,230.9 250.4,218.8 253.7,207 258.1,195.3 263.5,183.7 269.7,172.3 276.5,160.9 283.8,149.5 291.3,138.2 298.9,127 306.4,115.7 313.6,104.3 321.7,93.1" fill="#999999" opacity="0.68" filter="url(#blur15)"/>
<polygon points="321.7,93.1 319.3,105 316,116.9 312.3,128.7 308.3,140.4 304.4,152.2 300.6,164 297.2,175.8 294.4,187.7 292.4,199.7 291.2,211.8 291.2,224.1 292.6,236.5 295.4,249.1 300,262 268.3,257.9 265.4,245.3 264.3,232.9 264.7,220.7 266.5,208.6 269.5,196.8 273.4,185 278.2,173.3 283.5,161.8 289.3,150.3 295.4,138.8 301.6,127.3 307.7,115.8 313.7,104.3 321.7,93.1" fill="#a6a6a6" opacity="0.80"/>
<polyline points="283.5,161.8 278.2,173.3 273.4,185 269.5,196.8 266.5,208.6 264.7,220.7 264.3,232.9 265.4,245.3 268.3,257.9" fill="none" stroke="#5e5e5e" stroke-width="1.5" opacity="0.44"/>
<polyline points="321.7,93.1 319.3,105 316,116.9 312.3,128.7 308.3,140.4 304.4,152.2 300.6,164 297.2,175.8 294.4,187.7 292.4,199.7 291.2,211.8 291.2,224.1 292.6,236.5 295.4,249.1 300,262" fill="none" stroke="#b8b8b8" stroke-width="1.7" opacity="0.80"/>
<polyline points="296.2,126.6 287.2,137.7 278.3,148.8 269.6,160 261.3,171.2 253.6,182.5 246.7,193.8 240.8,205.3 236,217 232.6,228.8 230.7,240.8 230.6,253.1" fill="none" stroke="#a4a4a4" stroke-width="3" opacity="0.40" filter="url(#blur15)"/>
</g>
<g filter="url(#blur2)">
<polygon points="456.5,96 454.2,107.2 451.1,118.4 447.6,129.5 443.9,140.6 440.2,151.6 436.6,162.7 433.4,173.8 430.8,185.1 428.8,196.3 427.8,207.8 427.8,219.3 429,231 431.7,242.9 436,255 366.6,246 367,234.6 369.1,223.3 372.6,212.2 377.3,201.3 383.2,190.5 390,179.8 397.5,169.2 405.6,158.7 414.1,148.3 422.8,137.8 431.5,127.4 440.2,117 448.5,106.5 456.5,96" fill="#909090" opacity="0.76" filter="url(#blur3)"/>
<polygon points="456.5,96 454.2,107.2 451.1,118.4 447.6,129.5 443.9,140.6 440.2,151.6 436.6,162.7 433.4,173.8 430.8,185.1 428.8,196.3 427.8,207.8 427.8,219.3 429,231 431.7,242.9 436,255 385.4,248.5 384.3,236.8 384.9,225.3 386.9,214 390.2,202.9 394.6,191.9 399.9,181.1 405.9,170.3 412.6,159.6 419.6,149 426.9,138.4 434.2,127.8 441.5,117.2 448.6,106.5 456.5,96" fill="#999999" opacity="0.68" filter="url(#blur15)"/>
<polygon points="456.5,96 454.2,107.2 451.1,118.4 447.6,129.5 443.9,140.6 440.2,151.6 436.6,162.7 433.4,173.8 430.8,185.1 428.8,196.3 427.8,207.8 427.8,219.3 429,231 431.7,242.9 436,255 404.3,250.9 401.7,239 400.7,227.4 401.3,215.9 403.1,204.6 405.9,193.4 409.8,182.3 414.4,171.4 419.5,160.5 425.1,149.7 431,138.9 436.9,128.1 442.9,117.3 448.6,106.5 456.5,96" fill="#a6a6a6" opacity="0.80"/>
<polyline points="419.5,160.5 414.4,171.4 409.8,182.3 405.9,193.4 403.1,204.6 401.3,215.9 400.7,227.4 401.7,239 404.3,250.9" fill="none" stroke="#5e5e5e" stroke-width="1.5" opacity="0.44"/>
<polyline points="456.5,96 454.2,107.2 451.1,118.4 447.6,129.5 443.9,140.6 440.2,151.6 436.6,162.7 433.4,173.8 430.8,185.1 428.8,196.3 427.8,207.8 427.8,219.3 429,231 431.7,242.9 436,255" fill="none" stroke="#b8b8b8" stroke-width="1.7" opacity="0.80"/>
<polyline points="431.5,127.4 422.8,137.8 414.1,148.3 405.6,158.7 397.5,169.2 390,179.8 383.2,190.5 377.3,201.3 372.6,212.2 369.1,223.3 367,234.6 366.6,246" fill="none" stroke="#a4a4a4" stroke-width="3" opacity="0.40" filter="url(#blur15)"/>
</g>
<g filter="url(#blur2)">
<polygon points="560.4,124 558.1,135.4 555,146.7 551.5,157.9 547.7,169.1 544,180.3 540.4,191.6 537.2,202.9 534.6,214.2 532.6,225.6 531.6,237.2 531.6,248.9 532.9,260.7 535.6,272.8 540,285 470.6,276.2 470.9,264.6 472.9,253.1 476.4,241.9 481.1,230.8 487,219.9 493.7,209 501.3,198.3 509.4,187.6 517.9,177 526.6,166.5 535.4,155.9 544.1,145.3 552.4,134.7 560.4,124" fill="#909090" opacity="0.76" filter="url(#blur3)"/>
<polygon points="560.4,124 558.1,135.4 555,146.7 551.5,157.9 547.7,169.1 544,180.3 540.4,191.6 537.2,202.9 534.6,214.2 532.6,225.6 531.6,237.2 531.6,248.9 532.9,260.7 535.6,272.8 540,285 489.4,278.6 488.2,266.8 488.7,255.1 490.7,243.7 494,232.4 498.3,221.3 503.6,210.3 509.7,199.4 516.4,188.5 523.4,177.7 530.7,167 538.1,156.2 545.4,145.5 552.5,134.7 560.4,124" fill="#999999" opacity="0.68" filter="url(#blur15)"/>
<polygon points="560.4,124 558.1,135.4 555,146.7 551.5,157.9 547.7,169.1 544,180.3 540.4,191.6 537.2,202.9 534.6,214.2 532.6,225.6 531.6,237.2 531.6,248.9 532.9,260.7 535.6,272.8 540,285 508.3,281 505.6,269 504.6,257.1 505.1,245.5 506.8,234.1 509.7,222.7 513.6,211.5 518.1,200.4 523.3,189.4 528.9,178.4 534.8,167.5 540.8,156.6 546.7,145.6 552.5,134.7 560.4,124" fill="#a6a6a6" opacity="0.80"/>
<polyline points="523.3,189.4 518.1,200.4 513.6,211.5 509.7,222.7 506.8,234.1 505.1,245.5 504.6,257.1 505.6,269 508.3,281" fill="none" stroke="#5e5e5e" stroke-width="1.5" opacity="0.44"/>
<polyline points="560.4,124 558.1,135.4 555,146.7 551.5,157.9 547.7,169.1 544,180.3 540.4,191.6 537.2,202.9 534.6,214.2 532.6,225.6 531.6,237.2 531.6,248.9 532.9,260.7 535.6,272.8 540,285" fill="none" stroke="#b8b8b8" stroke-width="1.7" opacity="0.80"/>
<polyline points="535.4,155.9 526.6,166.5 517.9,177 509.4,187.6 501.3,198.3 493.7,209 487,219.9 481.1,230.8 476.4,241.9 472.9,253.1 470.9,264.6 470.6,276.2" fill="none" stroke="#a4a4a4" stroke-width="3" opacity="0.40" filter="url(#blur15)"/>
</g>
<polygon points="19.3,200.1 52.8,213.5 64,237.4 37.9,241.1 15.6,222.5" fill="url(#stri)" opacity="0.35" filter="url(#blur1)"/>
<polygon points="40.2,213.5 71.5,210.5 105,206.1 110.2,213.5 78.9,222.5 43.1,223.9" fill="#8a8a8a" opacity="0.6" filter="url(#blur1)"/>
<polygon points="113.2,263.1 151.3,278.3 164,305.4 134.4,309.6 109,288.5" fill="url(#stri)" opacity="0.35" filter="url(#blur1)"/>
<polygon points="136.9,278.3 172.5,274.9 210.6,269.8 216.5,278.3 180.9,288.5 140.3,290.2" fill="#8a8a8a" opacity="0.6" filter="url(#blur1)"/>
<polygon points="222.8,315.8 263.1,331.9 276.5,360.6 245.2,365 218.3,342.7" fill="url(#stri)" opacity="0.35" filter="url(#blur1)"/>
<polygon points="247.9,331.9 285.5,328.3 325.7,323 332,331.9 294.4,342.7 251.4,344.4" fill="#8a8a8a" opacity="0.6" filter="url(#blur1)"/>
<polygon points="288.9,361.2 348.7,385.1 368.7,427.7 322.1,434.4 282.2,401.1" fill="url(#stri)" opacity="0.35" filter="url(#blur1)"/>
<polygon points="326.1,385.1 382,379.8 441.9,371.8 451.2,385.1 395.3,401.1 331.5,403.8" fill="#8a8a8a" opacity="0.6" filter="url(#blur1)"/>
<polygon points="387.3,382 440.3,403.2 458,441 416.7,446.9 381.4,417.4" fill="url(#stri)" opacity="0.35" filter="url(#blur1)"/>
<polygon points="420.3,403.2 469.8,398.5 522.8,391.5 531.1,403.2 481.6,417.4 425,419.7" fill="#8a8a8a" opacity="0.6" filter="url(#blur1)"/>
<polygon points="502,408.4 549.2,427.3 565,460.9 528.2,466.2 496.7,439.9" fill="url(#stri)" opacity="0.35" filter="url(#blur1)"/>
<polygon points="531.4,427.3 575.5,423.1 622.8,416.8 630.1,427.3 586,439.9 535.6,442" fill="#8a8a8a" opacity="0.6" filter="url(#blur1)"/>
<g filter="url(#blur05)">
<polygon points="75.4,73.9 73.8,83.9 71.6,93.9 69,103.8 66.1,113.7 63.3,123.6 60.7,133.6 58.3,143.5 56.5,153.5 55.2,163.6 54.8,173.7 55.2,183.9 56.8,194.1 59.7,204.5 64,215 -5.8,209.4 -5.3,199.3 -3.4,189.3 -0.2,179.4 4.1,169.6 9.4,159.9 15.5,150.2 22.2,140.6 29.5,131.1 37.1,121.5 44.9,112 52.8,102.5 60.6,93 68.2,83.5 75.4,73.9" fill="#909090" opacity="0.95" filter="url(#blur3)"/>
<polygon points="75.4,73.9 73.8,83.9 71.6,93.9 69,103.8 66.1,113.7 63.3,123.6 60.7,133.6 58.3,143.5 56.5,153.5 55.2,163.6 54.8,173.7 55.2,183.9 56.8,194.1 59.7,204.5 64,215 13.2,210.9 12.1,200.7 12.5,190.5 14.2,180.5 17,170.6 20.8,160.8 25.4,151 30.7,141.3 36.5,131.6 42.7,122 49,112.3 55.5,102.7 61.9,93.1 68.2,83.5 75.4,73.9" fill="#999999" opacity="0.85" filter="url(#blur15)"/>
<polygon points="75.4,73.9 73.8,83.9 71.6,93.9 69,103.8 66.1,113.7 63.3,123.6 60.7,133.6 58.3,143.5 56.5,153.5 55.2,163.6 54.8,173.7 55.2,183.9 56.8,194.1 59.7,204.5 64,215 32.1,212.4 29.5,202.1 28.4,191.8 28.6,181.7 29.9,171.7 32.2,161.7 35.3,151.8 39.2,142 43.5,132.2 48.2,122.4 53.2,112.7 58.2,102.9 63.3,93.2 68.2,83.5 75.4,73.9" fill="#a6a6a6" opacity="1.00"/>
<polyline points="43.5,132.2 39.2,142 35.3,151.8 32.2,161.7 29.9,171.7 28.6,181.7 28.4,191.8 29.5,202.1 32.1,212.4" fill="none" stroke="#5e5e5e" stroke-width="1.5" opacity="0.55"/>
<polyline points="75.4,73.9 73.8,83.9 71.6,93.9 69,103.8 66.1,113.7 63.3,123.6 60.7,133.6 58.3,143.5 56.5,153.5 55.2,163.6 54.8,173.7 55.2,183.9 56.8,194.1 59.7,204.5 64,215" fill="none" stroke="#b8b8b8" stroke-width="1.7" opacity="1.00"/>
<polyline points="52.8,102.5 44.9,112 37.1,121.5 29.5,131.1 22.2,140.6 15.5,150.2 9.4,159.9 4.1,169.6 -0.2,179.4 -3.4,189.3 -5.3,199.3 -5.8,209.4" fill="none" stroke="#a4a4a4" stroke-width="3" opacity="0.50" filter="url(#blur15)"/>
</g>
<g filter="url(#blur05)">
<polygon points="181.2,120.1 179.1,131.4 176.3,142.7 173,153.9 169.5,165.1 166,176.2 162.7,187.4 159.7,198.7 157.3,210 155.6,221.3 154.7,232.8 155,244.4 156.5,256.1 159.4,268 164,280 94.4,272.5 94.6,261 96.4,249.6 99.6,238.4 104.2,227.4 109.8,216.4 116.4,205.6 123.7,194.8 131.6,184.1 139.8,173.4 148.3,162.8 156.9,152.1 165.3,141.5 173.5,130.8 181.2,120.1" fill="#909090" opacity="0.95" filter="url(#blur3)"/>
<polygon points="181.2,120.1 179.1,131.4 176.3,142.7 173,153.9 169.5,165.1 166,176.2 162.7,187.4 159.7,198.7 157.3,210 155.6,221.3 154.7,232.8 155,244.4 156.5,256.1 159.4,268 164,280 113.3,274.5 112,262.8 112.3,251.3 114,240 117.1,228.7 121.2,217.6 126.3,206.6 132.1,195.7 138.5,184.8 145.4,174 152.4,163.2 159.6,152.4 166.6,141.6 173.5,130.8 181.2,120.1" fill="#999999" opacity="0.85" filter="url(#blur15)"/>
<polygon points="181.2,120.1 179.1,131.4 176.3,142.7 173,153.9 169.5,165.1 166,176.2 162.7,187.4 159.7,198.7 157.3,210 155.6,221.3 154.7,232.8 155,244.4 156.5,256.1 159.4,268 164,280 132.2,276.6 129.3,264.7 128.1,253 128.4,241.5 130,230.1 132.6,218.9 136.2,207.7 140.6,196.6 145.5,185.6 150.9,174.6 156.5,163.7 162.3,152.7 168,141.8 173.5,130.8 181.2,120.1" fill="#a6a6a6" opacity="1.00"/>
<polyline points="145.5,185.6 140.6,196.6 136.2,207.7 132.6,218.9 130,230.1 128.4,241.5 128.1,253 129.3,264.7 132.2,276.6" fill="none" stroke="#5e5e5e" stroke-width="1.5" opacity="0.55"/>
<polyline points="181.2,120.1 179.1,131.4 176.3,142.7 173,153.9 169.5,165.1 166,176.2 162.7,187.4 159.7,198.7 157.3,210 155.6,221.3 154.7,232.8 155,244.4 156.5,256.1 159.4,268 164,280" fill="none" stroke="#b8b8b8" stroke-width="1.7" opacity="1.00"/>
<polyline points="156.9,152.1 148.3,162.8 139.8,173.4 131.6,184.1 123.7,194.8 116.4,205.6 109.8,216.4 104.2,227.4 99.6,238.4 96.4,249.6 94.6,261 94.4,272.5" fill="none" stroke="#a4a4a4" stroke-width="3" opacity="0.50" filter="url(#blur15)"/>
</g>
<g filter="url(#blur05)">
<polygon points="284.8,163.8 283.3,175.9 281,187.9 278.2,200 275.2,212 272.2,224 269.4,236 267,248.1 265.1,260.2 264,272.3 263.8,284.4 264.8,296.6 267.1,308.9 270.9,321.3 276.5,333.7 206.6,330.3 205.8,318.1 206.7,306 209.2,293.9 213,281.9 218,270 224,258.1 230.8,246.3 238.1,234.5 245.9,222.7 253.9,211 262,199.2 270,187.4 277.6,175.6 284.8,163.8" fill="#909090" opacity="0.95" filter="url(#blur3)"/>
<polygon points="284.8,163.8 283.3,175.9 281,187.9 278.2,200 275.2,212 272.2,224 269.4,236 267,248.1 265.1,260.2 264,272.3 263.8,284.4 264.8,296.6 267.1,308.9 270.9,321.3 276.5,333.7 225.6,331.2 223.2,318.9 222.7,306.7 223.6,294.6 226,282.6 229.5,270.6 234,258.6 239.3,246.7 245.2,234.9 251.5,223 258.1,211.2 264.7,199.3 271.3,187.5 277.6,175.6 284.8,163.8" fill="#999999" opacity="0.85" filter="url(#blur15)"/>
<polygon points="284.8,163.8 283.3,175.9 281,187.9 278.2,200 275.2,212 272.2,224 269.4,236 267,248.1 265.1,260.2 264,272.3 263.8,284.4 264.8,296.6 267.1,308.9 270.9,321.3 276.5,333.7 244.5,332.1 240.7,319.8 238.6,307.5 238.1,295.3 238.9,283.2 240.9,271.1 243.9,259.1 247.7,247.1 252.2,235.2 257.1,223.3 262.2,211.4 267.5,199.4 272.7,187.5 277.7,175.6 284.8,163.8" fill="#a6a6a6" opacity="1.00"/>
<polyline points="252.2,235.2 247.7,247.1 243.9,259.1 240.9,271.1 238.9,283.2 238.1,295.3 238.6,307.5 240.7,319.8 244.5,332.1" fill="none" stroke="#5e5e5e" stroke-width="1.5" opacity="0.55"/>
<polyline points="284.8,163.8 283.3,175.9 281,187.9 278.2,200 275.2,212 272.2,224 269.4,236 267,248.1 265.1,260.2 264,272.3 263.8,284.4 264.8,296.6 267.1,308.9 270.9,321.3 276.5,333.7" fill="none" stroke="#b8b8b8" stroke-width="1.7" opacity="1.00"/>
<polyline points="262,199.2 253.9,211 245.9,222.7 238.1,234.5 230.8,246.3 224,258.1 218,270 213,281.9 209.2,293.9 206.7,306 205.8,318.1 206.6,330.3" fill="none" stroke="#a4a4a4" stroke-width="3" opacity="0.50" filter="url(#blur15)"/>
</g>
<g filter="url(#blur05)">
<polygon points="422.2,140.8 417.1,158.2 410.7,175.3 403.7,192.2 396.4,209.1 389.1,226 382,242.9 375.5,260 369.9,277.2 365.3,294.7 362.1,312.5 360.6,330.6 361,349.2 363.6,368.2 368.7,387.8 300.3,373 299.8,354.4 301.9,336.4 306.2,318.8 312.4,301.7 320.3,285 329.7,268.5 340.1,252.3 351.4,236.3 363.4,220.4 375.6,204.6 387.9,188.8 400,172.9 411.5,157 422.2,140.8" fill="#909090" opacity="0.95" filter="url(#blur3)"/>
<polygon points="422.2,140.8 417.1,158.2 410.7,175.3 403.7,192.2 396.4,209.1 389.1,226 382,242.9 375.5,260 369.9,277.2 365.3,294.7 362.1,312.5 360.6,330.6 361,349.2 363.6,368.2 368.7,387.8 318.9,377 316.9,358.1 317.5,339.8 320.3,321.9 325.1,304.5 331.5,287.4 339.4,270.6 348.4,254.1 358.3,237.8 368.8,221.6 379.6,205.5 390.6,189.4 401.3,173.2 411.5,157 422.2,140.8" fill="#999999" opacity="0.85" filter="url(#blur15)"/>
<polygon points="422.2,140.8 417.1,158.2 410.7,175.3 403.7,192.2 396.4,209.1 389.1,226 382,242.9 375.5,260 369.9,277.2 365.3,294.7 362.1,312.5 360.6,330.6 361,349.2 363.6,368.2 368.7,387.8 337.4,381 334,361.8 333.1,343.1 334.4,325 337.7,307.2 342.7,289.8 349.2,272.7 356.7,255.9 365.2,239.3 374.3,222.8 383.7,206.3 393.2,189.9 402.6,173.5 411.6,157 422.2,140.8" fill="#a6a6a6" opacity="1.00"/>
<polyline points="365.2,239.3 356.7,255.9 349.2,272.7 342.7,289.8 337.7,307.2 334.4,325 333.1,343.1 334,361.8 337.4,381" fill="none" stroke="#5e5e5e" stroke-width="1.5" opacity="0.55"/>
<polyline points="422.2,140.8 417.1,158.2 410.7,175.3 403.7,192.2 396.4,209.1 389.1,226 382,242.9 375.5,260 369.9,277.2 365.3,294.7 362.1,312.5 360.6,330.6 361,349.2 363.6,368.2 368.7,387.8" fill="none" stroke="#b8b8b8" stroke-width="1.7" opacity="1.00"/>
<polyline points="387.9,188.8 375.6,204.6 363.4,220.4 351.4,236.3 340.1,252.3 329.7,268.5 320.3,285 312.4,301.7 306.2,318.8 301.9,336.4 299.8,354.4 300.3,373" fill="none" stroke="#a4a4a4" stroke-width="3" opacity="0.50" filter="url(#blur15)"/>
</g>
<g filter="url(#blur05)">
<polygon points="523.4,191.4 517.6,206.4 510.7,221 503.3,235.4 495.6,249.8 487.9,264.2 480.4,278.6 473.4,293.2 467.2,308 461.8,323.1 457.7,338.6 455,354.5 454,370.9 454.9,387.9 458,405.6 391.1,385.2 392.5,368.9 396.2,353.3 401.8,338.3 409.1,323.8 417.8,309.7 427.8,296 438.8,282.6 450.5,269.5 462.7,256.5 475.2,243.6 487.8,230.7 500.2,217.8 512.1,204.7 523.4,191.4" fill="#909090" opacity="0.95" filter="url(#blur3)"/>
<polygon points="523.4,191.4 517.6,206.4 510.7,221 503.3,235.4 495.6,249.8 487.9,264.2 480.4,278.6 473.4,293.2 467.2,308 461.8,323.1 457.7,338.6 455,354.5 454,370.9 454.9,387.9 458,405.6 409.2,390.7 409.2,374 411.4,357.9 415.6,342.5 421.5,327.5 428.8,313.1 437.4,298.9 446.9,285.1 457.2,271.6 468.1,258.1 479.2,244.8 490.4,231.5 501.5,218.2 512.2,204.7 523.4,191.4" fill="#999999" opacity="0.85" filter="url(#blur15)"/>
<polygon points="523.4,191.4 517.6,206.4 510.7,221 503.3,235.4 495.6,249.8 487.9,264.2 480.4,278.6 473.4,293.2 467.2,308 461.8,323.1 457.7,338.6 455,354.5 454,370.9 454.9,387.9 458,405.6 427.4,396.3 426,379.1 426.7,362.6 429.4,346.7 433.9,331.3 439.8,316.4 446.9,301.9 455,287.6 463.9,273.6 473.4,259.8 483.2,246 493,232.3 502.8,218.6 512.2,204.7 523.4,191.4" fill="#a6a6a6" opacity="1.00"/>
<polyline points="463.9,273.6 455,287.6 446.9,301.9 439.8,316.4 433.9,331.3 429.4,346.7 426.7,362.6 426,379.1 427.4,396.3" fill="none" stroke="#5e5e5e" stroke-width="1.5" opacity="0.55"/>
<polyline points="523.4,191.4 517.6,206.4 510.7,221 503.3,235.4 495.6,249.8 487.9,264.2 480.4,278.6 473.4,293.2 467.2,308 461.8,323.1 457.7,338.6 455,354.5 454,370.9 454.9,387.9 458,405.6" fill="none" stroke="#b8b8b8" stroke-width="1.7" opacity="1.00"/>
<polyline points="487.8,230.7 475.2,243.6 462.7,256.5 450.5,269.5 438.8,282.6 427.8,296 417.8,309.7 409.1,323.8 401.8,338.3 396.2,353.3 392.5,368.9 391.1,385.2" fill="none" stroke="#a4a4a4" stroke-width="3" opacity="0.50" filter="url(#blur15)"/>
</g>
<g filter="url(#blur05)">
<polygon points="624.6,239 619.3,252.3 613.1,265.3 606.4,278.1 599.5,290.9 592.5,303.6 585.8,316.4 579.4,329.4 573.8,342.5 568.9,356 565.2,369.7 562.7,383.9 561.7,398.5 562.4,413.6 565,429.4 498.2,408.5 500.1,394.2 504,380.4 509.5,367.2 516.6,354.5 525,342.2 534.5,330.3 544.9,318.6 555.9,307.1 567.4,295.8 579.2,284.5 591,273.3 602.6,262 613.9,250.6 624.6,239" fill="#909090" opacity="0.95" filter="url(#blur3)"/>
<polygon points="624.6,239 619.3,252.3 613.1,265.3 606.4,278.1 599.5,290.9 592.5,303.6 585.8,316.4 579.4,329.4 573.8,342.5 568.9,356 565.2,369.7 562.7,383.9 561.7,398.5 562.4,413.6 565,429.4 516.3,414.2 516.8,399.4 519.2,385.2 523.3,371.6 529,358.4 536,345.6 544,333.2 553,321.1 562.6,309.2 572.7,297.4 583.1,285.7 593.6,274.1 603.9,262.4 613.9,250.6 624.6,239" fill="#999999" opacity="0.85" filter="url(#blur15)"/>
<polygon points="624.6,239 619.3,252.3 613.1,265.3 606.4,278.1 599.5,290.9 592.5,303.6 585.8,316.4 579.4,329.4 573.8,342.5 568.9,356 565.2,369.7 562.7,383.9 561.7,398.5 562.4,413.6 565,429.4 534.5,419.8 533.5,404.6 534.4,390 537.1,375.9 541.4,362.3 546.9,349.1 553.6,336.2 561.1,323.7 569.3,311.3 578,299.1 587.1,287 596.2,274.9 605.2,262.8 614,250.6 624.6,239" fill="#a6a6a6" opacity="1.00"/>
<polyline points="569.3,311.3 561.1,323.7 553.6,336.2 546.9,349.1 541.4,362.3 537.1,375.9 534.4,390 533.5,404.6 534.5,419.8" fill="none" stroke="#5e5e5e" stroke-width="1.5" opacity="0.55"/>
<polyline points="624.6,239 619.3,252.3 613.1,265.3 606.4,278.1 599.5,290.9 592.5,303.6 585.8,316.4 579.4,329.4 573.8,342.5 568.9,356 565.2,369.7 562.7,383.9 561.7,398.5 562.4,413.6 565,429.4" fill="none" stroke="#b8b8b8" stroke-width="1.7" opacity="1.00"/>
<polyline points="591,273.3 579.2,284.5 567.4,295.8 555.9,307.1 544.9,318.6 534.5,330.3 525,342.2 516.6,354.5 509.5,367.2 504,380.4 500.1,394.2 498.2,408.5" fill="none" stroke="#a4a4a4" stroke-width="3" opacity="0.50" filter="url(#blur15)"/>
</g>
</g>
<rect x="382.5" y="436" width="244.6" height="12.6" fill="#fff"/>
<text x="447" y="430.3" font-family='"Liberation Sans", Arial, sans-serif' font-size="34.4" fill="#fff">1000 µm</text>
<g clip-path="url(#clipB)">
<polygon points="695,285 705,285 800,288 890,295 1000,297 1343,297 1343,470 695,470" fill="url(#gB)" filter="url(#blur15)"/>
<path d="M705,459.5 L705,420 C712,414 711.4,406.5 713.4,392.5 L716.7,369 L719.9,345.5 L723.2,322 L726.4,298.5 L728.7,275 L730.9,251.5 L733.1,228 L735.4,204.5 L737.6,181 L739.8,157.5 L742.1,134 L744.3,110.5 L748.5,134 L750.8,157.5 L753,181 L755.2,204.5 L757.5,228 L759.7,251.5 L761.9,275 L764.2,298.5 L767.4,322 L770.6,345.5 L773.9,369 L777.2,392.5 C780.2,422.5 800.2,436 832.2,436 C864.2,436 884.3,423 887.3,393 L890.6,369.5 L893.9,346 L897.1,322.5 L900.3,299 L902.6,275.5 L904.8,252 L907,228.5 L909.3,205 L911.5,181.5 L913.7,158 L916,134.5 L918.2,111 L922.4,134.5 L924.7,158 L926.9,181.5 L929.1,205 L931.4,228.5 L933.6,252 L935.8,275.5 L938.1,299 L941.3,322.5 L944.6,346 L947.8,369.5 L951.1,393 C954.1,423 975,436 1007,436 C1039,436 1059.9,419 1062.9,389 L1066.2,365.5 L1069.5,342 L1072.7,318.5 L1075.9,295 L1078.2,271.5 L1080.4,248 L1082.6,224.5 L1084.9,201 L1087.1,177.5 L1089.3,154 L1091.6,130.5 L1093.8,107 L1098,130.5 L1100.3,154 L1102.5,177.5 L1104.7,201 L1107,224.5 L1109.2,248 L1111.4,271.5 L1113.7,295 L1116.9,318.5 L1120.1,342 L1123.4,365.5 L1126.7,389 C1129.7,419 1149.5,436 1181.5,436 C1213.5,436 1233.3,413 1236.3,383 L1239.6,359.5 L1242.9,336 L1246.1,312.5 L1249.3,289 L1251.6,265.5 L1253.8,242 L1256,218.5 L1258.3,195 L1260.5,171.5 L1262.7,148 L1265,124.5 L1267.2,101 L1271.4,124.5 L1273.7,148 L1275.9,171.5 L1278.1,195 L1280.4,218.5 L1282.6,242 L1284.8,265.5 L1287.1,289 L1290.3,312.5 L1293.5,336 L1296.8,359.5 L1300.1,383 C1303.1,411 1318,428 1333,428 L1333,459.5 Z" fill="url(#gN)"/>
<g filter="url(#blur1)">
<polygon points="745.3,114.5 746.2,124.5 746.7,138.5 747.2,152.5 747.7,166.5 748.2,180.5 748.7,194.5 749.2,208.5 749.7,222.5 750.2,236.5 750.7,250.5 751.2,264.5 751.7,278.5 752.3,292.5 752.9,306.5 753.6,320.5 754.3,334.5 755.1,348.5 737.6,348.5 738.2,334.5 738.7,320.5 739.3,306.5 739.8,292.5 740.2,278.5 740.6,264.5 741,250.5 741.4,236.5 741.8,222.5 742.2,208.5 742.6,194.5 743,180.5 743.4,166.5 743.8,152.5 744.2,138.5 744.6,124.5" fill="url(#bs0)"/>
<polygon points="919.2,115 920.1,125 920.6,139 921.1,153 921.6,167 922.1,181 922.6,195 923.1,209 923.6,223 924.1,237 924.6,251 925.1,265 925.6,279 926.2,293 926.8,307 927.5,321 928.2,335 929,349 911.5,349 912.1,335 912.6,321 913.2,307 913.7,293 914.1,279 914.5,265 914.9,251 915.3,237 915.7,223 916.1,209 916.5,195 916.9,181 917.3,167 917.7,153 918.1,139 918.5,125" fill="url(#bs1)"/>
<polygon points="1094.8,111 1095.7,121 1096.2,135 1096.7,149 1097.2,163 1097.7,177 1098.2,191 1098.7,205 1099.2,219 1099.7,233 1100.2,247 1100.7,261 1101.2,275 1101.8,289 1102.4,303 1103.1,317 1103.8,331 1104.6,345 1087.1,345 1087.7,331 1088.2,317 1088.8,303 1089.3,289 1089.7,275 1090.1,261 1090.5,247 1090.9,233 1091.3,219 1091.7,205 1092.1,191 1092.5,177 1092.9,163 1093.3,149 1093.7,135 1094.1,121" fill="url(#bs2)"/>
<polygon points="1268.2,105 1269.1,115 1269.6,129 1270.1,143 1270.6,157 1271.1,171 1271.6,185 1272.1,199 1272.6,213 1273.1,227 1273.6,241 1274.1,255 1274.6,269 1275.2,283 1275.8,297 1276.5,311 1277.2,325 1278,339 1260.5,339 1261.1,325 1261.6,311 1262.2,297 1262.7,283 1263.1,269 1263.5,255 1263.9,241 1264.3,227 1264.7,213 1265.1,199 1265.5,185 1265.9,171 1266.3,157 1266.7,143 1267.1,129 1267.5,115" fill="url(#bs3)"/>
</g>
<g fill="#c8c8c8">
<rect x="745.8" y="175.5" width="1.4" height="1.4" opacity="0.47"/>
<rect x="747.1" y="252.3" width="1.4" height="1.4" opacity="0.29"/>
<rect x="746" y="128.3" width="1.4" height="1.4" opacity="0.41"/>
<rect x="748" y="174.7" width="1.4" height="1.4" opacity="0.53"/>
<rect x="745.7" y="301.2" width="1.4" height="1.4" opacity="0.63"/>
<rect x="746" y="157.1" width="1.4" height="1.4" opacity="0.77"/>
<rect x="747.9" y="235.4" width="1.4" height="1.4" opacity="0.65"/>
<rect x="746.1" y="138.9" width="1.4" height="1.4" opacity="0.60"/>
<rect x="742.8" y="188.8" width="1.4" height="1.4" opacity="0.77"/>
<rect x="747.5" y="224.8" width="1.4" height="1.4" opacity="0.78"/>
<rect x="750.8" y="275.5" width="1.4" height="1.4" opacity="0.49"/>
<rect x="745.2" y="293.7" width="1.4" height="1.4" opacity="0.81"/>
<rect x="740.3" y="310.1" width="1.4" height="1.4" opacity="0.33"/>
<rect x="747.7" y="171.1" width="1.4" height="1.4" opacity="0.51"/>
<rect x="743.7" y="257.1" width="1.4" height="1.4" opacity="0.55"/>
<rect x="744.6" y="206.5" width="1.4" height="1.4" opacity="0.60"/>
<rect x="749.8" y="248.2" width="1.4" height="1.4" opacity="0.66"/>
<rect x="751.5" y="320.6" width="1.4" height="1.4" opacity="0.84"/>
<rect x="742.1" y="266.5" width="1.4" height="1.4" opacity="0.77"/>
<rect x="752.6" y="328.1" width="1.4" height="1.4" opacity="0.59"/>
<rect x="742.5" y="275.4" width="1.4" height="1.4" opacity="0.75"/>
<rect x="743.7" y="245.9" width="1.4" height="1.4" opacity="0.29"/>
<rect x="752.7" y="304.8" width="1.4" height="1.4" opacity="0.30"/>
<rect x="744.8" y="293.6" width="1.4" height="1.4" opacity="0.34"/>
<rect x="747.1" y="187.2" width="1.4" height="1.4" opacity="0.77"/>
<rect x="745.7" y="134.8" width="1.4" height="1.4" opacity="0.28"/>
<rect x="743.9" y="276.4" width="1.4" height="1.4" opacity="0.78"/>
<rect x="746.2" y="331.4" width="1.4" height="1.4" opacity="0.85"/>
<rect x="743.1" y="190.5" width="1.4" height="1.4" opacity="0.61"/>
<rect x="744.8" y="132.1" width="1.4" height="1.4" opacity="0.49"/>
<rect x="742.3" y="253.7" width="1.4" height="1.4" opacity="0.28"/>
<rect x="743.4" y="307.7" width="1.4" height="1.4" opacity="0.83"/>
<rect x="744.2" y="313.8" width="1.4" height="1.4" opacity="0.53"/>
<rect x="747" y="234.7" width="1.4" height="1.4" opacity="0.61"/>
<rect x="746.9" y="242.9" width="1.4" height="1.4" opacity="0.81"/>
<rect x="745.1" y="232" width="1.4" height="1.4" opacity="0.68"/>
<rect x="744.6" y="175.4" width="1.4" height="1.4" opacity="0.84"/>
<rect x="746.2" y="234.9" width="1.4" height="1.4" opacity="0.26"/>
<rect x="746.3" y="212.7" width="1.4" height="1.4" opacity="0.26"/>
<rect x="747.2" y="254.8" width="1.4" height="1.4" opacity="0.29"/>
<rect x="745.5" y="257.2" width="1.4" height="1.4" opacity="0.66"/>
<rect x="747" y="199.5" width="1.4" height="1.4" opacity="0.69"/>
<rect x="744.5" y="130.2" width="1.4" height="1.4" opacity="0.66"/>
<rect x="742.1" y="327.8" width="1.4" height="1.4" opacity="0.52"/>
<rect x="744" y="250" width="1.4" height="1.4" opacity="0.47"/>
<rect x="744.8" y="191.2" width="1.4" height="1.4" opacity="0.61"/>
<rect x="744.9" y="188.6" width="1.4" height="1.4" opacity="0.71"/>
<rect x="745.5" y="131.2" width="1.4" height="1.4" opacity="0.69"/>
<rect x="743.9" y="190.6" width="1.4" height="1.4" opacity="0.73"/>
<rect x="744" y="175.6" width="1.4" height="1.4" opacity="0.51"/>
<rect x="741.3" y="272.1" width="1.4" height="1.4" opacity="0.44"/>
<rect x="747.7" y="195.6" width="1.4" height="1.4" opacity="0.51"/>
<rect x="741.4" y="305.2" width="1.4" height="1.4" opacity="0.45"/>
<rect x="750" y="262" width="1.4" height="1.4" opacity="0.52"/>
<rect x="743.7" y="172.8" width="1.4" height="1.4" opacity="0.57"/>
<rect x="920.8" y="166.1" width="1.4" height="1.4" opacity="0.75"/>
<rect x="918.5" y="164.6" width="1.4" height="1.4" opacity="0.73"/>
<rect x="923" y="260.8" width="1.4" height="1.4" opacity="0.46"/>
<rect x="918.6" y="153.2" width="1.4" height="1.4" opacity="0.73"/>
<rect x="918.6" y="182.9" width="1.4" height="1.4" opacity="0.50"/>
<rect x="918.9" y="214.2" width="1.4" height="1.4" opacity="0.80"/>
<rect x="917.5" y="158.8" width="1.4" height="1.4" opacity="0.82"/>
<rect x="926.9" y="310.8" width="1.4" height="1.4" opacity="0.51"/>
<rect x="926.7" y="325.5" width="1.4" height="1.4" opacity="0.38"/>
<rect x="923.9" y="282.6" width="1.4" height="1.4" opacity="0.65"/>
<rect x="917.8" y="235" width="1.4" height="1.4" opacity="0.45"/>
<rect x="917.3" y="173.8" width="1.4" height="1.4" opacity="0.60"/>
<rect x="921.3" y="186.3" width="1.4" height="1.4" opacity="0.28"/>
<rect x="922.8" y="315.8" width="1.4" height="1.4" opacity="0.80"/>
<rect x="925.8" y="314.3" width="1.4" height="1.4" opacity="0.60"/>
<rect x="919.8" y="128.8" width="1.4" height="1.4" opacity="0.35"/>
<rect x="920.5" y="189" width="1.4" height="1.4" opacity="0.56"/>
<rect x="922.9" y="212.9" width="1.4" height="1.4" opacity="0.62"/>
<rect x="917.9" y="197.7" width="1.4" height="1.4" opacity="0.77"/>
<rect x="922" y="226.2" width="1.4" height="1.4" opacity="0.46"/>
<rect x="919.6" y="167.4" width="1.4" height="1.4" opacity="0.74"/>
<rect x="920.6" y="162" width="1.4" height="1.4" opacity="0.80"/>
<rect x="924" y="295.3" width="1.4" height="1.4" opacity="0.25"/>
<rect x="923.5" y="258" width="1.4" height="1.4" opacity="0.28"/>
<rect x="918.2" y="183" width="1.4" height="1.4" opacity="0.57"/>
<rect x="919.4" y="214.8" width="1.4" height="1.4" opacity="0.72"/>
<rect x="918.5" y="126.4" width="1.4" height="1.4" opacity="0.33"/>
<rect x="917.9" y="152.2" width="1.4" height="1.4" opacity="0.83"/>
<rect x="914.2" y="305.4" width="1.4" height="1.4" opacity="0.55"/>
<rect x="918.4" y="192.3" width="1.4" height="1.4" opacity="0.46"/>
<rect x="920.7" y="261.9" width="1.4" height="1.4" opacity="0.47"/>
<rect x="918.7" y="166.1" width="1.4" height="1.4" opacity="0.32"/>
<rect x="921.7" y="242.7" width="1.4" height="1.4" opacity="0.48"/>
<rect x="918.4" y="142.8" width="1.4" height="1.4" opacity="0.47"/>
<rect x="922.6" y="252.9" width="1.4" height="1.4" opacity="0.48"/>
<rect x="921.4" y="294.2" width="1.4" height="1.4" opacity="0.51"/>
<rect x="919.5" y="204.2" width="1.4" height="1.4" opacity="0.67"/>
<rect x="921" y="214.3" width="1.4" height="1.4" opacity="0.53"/>
<rect x="919.6" y="177.5" width="1.4" height="1.4" opacity="0.67"/>
<rect x="919.1" y="141" width="1.4" height="1.4" opacity="0.51"/>
<rect x="926.2" y="310.7" width="1.4" height="1.4" opacity="0.47"/>
<rect x="924.2" y="314.5" width="1.4" height="1.4" opacity="0.41"/>
<rect x="916.5" y="223.5" width="1.4" height="1.4" opacity="0.74"/>
<rect x="924" y="265.1" width="1.4" height="1.4" opacity="0.73"/>
<rect x="922.3" y="266.2" width="1.4" height="1.4" opacity="0.59"/>
<rect x="919.6" y="147.7" width="1.4" height="1.4" opacity="0.25"/>
<rect x="920.4" y="156.1" width="1.4" height="1.4" opacity="0.28"/>
<rect x="918.2" y="145.3" width="1.4" height="1.4" opacity="0.78"/>
<rect x="917.4" y="163.6" width="1.4" height="1.4" opacity="0.75"/>
<rect x="920.5" y="151.5" width="1.4" height="1.4" opacity="0.65"/>
<rect x="925.9" y="301.6" width="1.4" height="1.4" opacity="0.60"/>
<rect x="913.9" y="293.7" width="1.4" height="1.4" opacity="0.71"/>
<rect x="921.5" y="233.4" width="1.4" height="1.4" opacity="0.31"/>
<rect x="925.1" y="283.3" width="1.4" height="1.4" opacity="0.29"/>
<rect x="919.9" y="194.1" width="1.4" height="1.4" opacity="0.75"/>
<rect x="1093.4" y="172.8" width="1.4" height="1.4" opacity="0.40"/>
<rect x="1097.9" y="251.4" width="1.4" height="1.4" opacity="0.49"/>
<rect x="1094.4" y="199.2" width="1.4" height="1.4" opacity="0.46"/>
<rect x="1092" y="209.8" width="1.4" height="1.4" opacity="0.55"/>
<rect x="1094.2" y="326.3" width="1.4" height="1.4" opacity="0.70"/>
<rect x="1095.7" y="155.7" width="1.4" height="1.4" opacity="0.70"/>
<rect x="1095.5" y="263.5" width="1.4" height="1.4" opacity="0.54"/>
<rect x="1099.6" y="257" width="1.4" height="1.4" opacity="0.34"/>
<rect x="1095.7" y="142.1" width="1.4" height="1.4" opacity="0.80"/>
<rect x="1094.7" y="230.6" width="1.4" height="1.4" opacity="0.68"/>
<rect x="1094" y="161.1" width="1.4" height="1.4" opacity="0.37"/>
<rect x="1093.5" y="245" width="1.4" height="1.4" opacity="0.39"/>
<rect x="1100.5" y="267.1" width="1.4" height="1.4" opacity="0.43"/>
<rect x="1094.4" y="270.1" width="1.4" height="1.4" opacity="0.76"/>
<rect x="1093" y="244.8" width="1.4" height="1.4" opacity="0.38"/>
<rect x="1094.9" y="126.9" width="1.4" height="1.4" opacity="0.48"/>
<rect x="1094.4" y="158.2" width="1.4" height="1.4" opacity="0.44"/>
<rect x="1091" y="284.6" width="1.4" height="1.4" opacity="0.84"/>
<rect x="1096.1" y="222.7" width="1.4" height="1.4" opacity="0.53"/>
<rect x="1099.8" y="297.3" width="1.4" height="1.4" opacity="0.58"/>
<rect x="1097.1" y="223.1" width="1.4" height="1.4" opacity="0.76"/>
<rect x="1096.9" y="206.1" width="1.4" height="1.4" opacity="0.83"/>
<rect x="1093" y="220.2" width="1.4" height="1.4" opacity="0.39"/>
<rect x="1097.4" y="272.7" width="1.4" height="1.4" opacity="0.83"/>
<rect x="1091.9" y="301.3" width="1.4" height="1.4" opacity="0.36"/>
<rect x="1093.4" y="176.3" width="1.4" height="1.4" opacity="0.67"/>
<rect x="1101" y="302.3" width="1.4" height="1.4" opacity="0.40"/>
<rect x="1092.9" y="303.7" width="1.4" height="1.4" opacity="0.50"/>
<rect x="1090.5" y="275.1" width="1.4" height="1.4" opacity="0.31"/>
<rect x="1092.7" y="297.1" width="1.4" height="1.4" opacity="0.46"/>
<rect x="1097" y="243.9" width="1.4" height="1.4" opacity="0.25"/>
<rect x="1094.7" y="192.3" width="1.4" height="1.4" opacity="0.54"/>
<rect x="1095.4" y="166.1" width="1.4" height="1.4" opacity="0.82"/>
<rect x="1095.5" y="204.1" width="1.4" height="1.4" opacity="0.32"/>
<rect x="1096" y="179.7" width="1.4" height="1.4" opacity="0.32"/>
<rect x="1101.4" y="308.3" width="1.4" height="1.4" opacity="0.31"/>
<rect x="1093.6" y="319.7" width="1.4" height="1.4" opacity="0.71"/>
<rect x="1092.9" y="281" width="1.4" height="1.4" opacity="0.66"/>
<rect x="1098.7" y="259.4" width="1.4" height="1.4" opacity="0.41"/>
<rect x="1101.1" y="280.4" width="1.4" height="1.4" opacity="0.65"/>
<rect x="1091.7" y="234.6" width="1.4" height="1.4" opacity="0.55"/>
<rect x="1096.6" y="196" width="1.4" height="1.4" opacity="0.66"/>
<rect x="1092.2" y="240.9" width="1.4" height="1.4" opacity="0.64"/>
<rect x="1092" y="254.5" width="1.4" height="1.4" opacity="0.78"/>
<rect x="1091.3" y="259.6" width="1.4" height="1.4" opacity="0.81"/>
<rect x="1094.4" y="151.7" width="1.4" height="1.4" opacity="0.68"/>
<rect x="1095.9" y="247.5" width="1.4" height="1.4" opacity="0.64"/>
<rect x="1093.7" y="218.1" width="1.4" height="1.4" opacity="0.36"/>
<rect x="1095.5" y="136.4" width="1.4" height="1.4" opacity="0.70"/>
<rect x="1097.5" y="236.1" width="1.4" height="1.4" opacity="0.47"/>
<rect x="1094.4" y="177.8" width="1.4" height="1.4" opacity="0.77"/>
<rect x="1094.9" y="130.8" width="1.4" height="1.4" opacity="0.40"/>
<rect x="1093.6" y="283.5" width="1.4" height="1.4" opacity="0.45"/>
<rect x="1095.5" y="206.7" width="1.4" height="1.4" opacity="0.71"/>
<rect x="1097.4" y="196.1" width="1.4" height="1.4" opacity="0.32"/>
<rect x="1266.3" y="172.8" width="1.4" height="1.4" opacity="0.32"/>
<rect x="1271.7" y="279.6" width="1.4" height="1.4" opacity="0.36"/>
<rect x="1268.1" y="155.7" width="1.4" height="1.4" opacity="0.70"/>
<rect x="1272.1" y="287.3" width="1.4" height="1.4" opacity="0.61"/>
<rect x="1268" y="146.8" width="1.4" height="1.4" opacity="0.37"/>
<rect x="1269.3" y="226.8" width="1.4" height="1.4" opacity="0.37"/>
<rect x="1269.9" y="168.5" width="1.4" height="1.4" opacity="0.27"/>
<rect x="1273.9" y="284.7" width="1.4" height="1.4" opacity="0.82"/>
<rect x="1268.9" y="196.5" width="1.4" height="1.4" opacity="0.60"/>
<rect x="1273.8" y="249.1" width="1.4" height="1.4" opacity="0.66"/>
<rect x="1270.6" y="178.9" width="1.4" height="1.4" opacity="0.54"/>
<rect x="1271" y="242.3" width="1.4" height="1.4" opacity="0.25"/>
<rect x="1270.8" y="277.8" width="1.4" height="1.4" opacity="0.55"/>
<rect x="1268.3" y="226" width="1.4" height="1.4" opacity="0.37"/>
<rect x="1264.4" y="227.2" width="1.4" height="1.4" opacity="0.55"/>
<rect x="1268.1" y="251.7" width="1.4" height="1.4" opacity="0.59"/>
<rect x="1275.2" y="317.4" width="1.4" height="1.4" opacity="0.33"/>
<rect x="1270.4" y="282.4" width="1.4" height="1.4" opacity="0.28"/>
<rect x="1266.7" y="191.6" width="1.4" height="1.4" opacity="0.30"/>
<rect x="1272.6" y="229.2" width="1.4" height="1.4" opacity="0.44"/>
<rect x="1271.6" y="298.8" width="1.4" height="1.4" opacity="0.33"/>
<rect x="1270.3" y="296.2" width="1.4" height="1.4" opacity="0.81"/>
<rect x="1271.6" y="266.3" width="1.4" height="1.4" opacity="0.46"/>
<rect x="1274.4" y="285.4" width="1.4" height="1.4" opacity="0.77"/>
<rect x="1270.6" y="207.8" width="1.4" height="1.4" opacity="0.54"/>
<rect x="1266.9" y="138.9" width="1.4" height="1.4" opacity="0.30"/>
<rect x="1266.9" y="158.1" width="1.4" height="1.4" opacity="0.55"/>
<rect x="1269.2" y="262.8" width="1.4" height="1.4" opacity="0.50"/>
<rect x="1266.6" y="252.3" width="1.4" height="1.4" opacity="0.53"/>
<rect x="1267.6" y="275" width="1.4" height="1.4" opacity="0.36"/>
<rect x="1272.2" y="304.9" width="1.4" height="1.4" opacity="0.47"/>
<rect x="1268.7" y="193.9" width="1.4" height="1.4" opacity="0.61"/>
<rect x="1266" y="163" width="1.4" height="1.4" opacity="0.38"/>
<rect x="1264.3" y="280.5" width="1.4" height="1.4" opacity="0.53"/>
<rect x="1267.1" y="157" width="1.4" height="1.4" opacity="0.35"/>
<rect x="1266.1" y="200.8" width="1.4" height="1.4" opacity="0.27"/>
<rect x="1267.3" y="139.1" width="1.4" height="1.4" opacity="0.54"/>
<rect x="1267.1" y="128.5" width="1.4" height="1.4" opacity="0.52"/>
<rect x="1270.1" y="201.6" width="1.4" height="1.4" opacity="0.28"/>
<rect x="1267.8" y="200.7" width="1.4" height="1.4" opacity="0.27"/>
<rect x="1264.5" y="318.8" width="1.4" height="1.4" opacity="0.31"/>
<rect x="1265.8" y="215.7" width="1.4" height="1.4" opacity="0.62"/>
<rect x="1266.1" y="188.7" width="1.4" height="1.4" opacity="0.28"/>
<rect x="1266.1" y="268.8" width="1.4" height="1.4" opacity="0.72"/>
<rect x="1272.2" y="213.7" width="1.4" height="1.4" opacity="0.43"/>
<rect x="1267.2" y="168.5" width="1.4" height="1.4" opacity="0.74"/>
<rect x="1267.1" y="248.1" width="1.4" height="1.4" opacity="0.31"/>
<rect x="1274" y="259.3" width="1.4" height="1.4" opacity="0.61"/>
<rect x="1267.5" y="116.8" width="1.4" height="1.4" opacity="0.30"/>
<rect x="1266.5" y="151.8" width="1.4" height="1.4" opacity="0.28"/>
<rect x="1273.1" y="253.4" width="1.4" height="1.4" opacity="0.37"/>
<rect x="1268.6" y="320.5" width="1.4" height="1.4" opacity="0.73"/>
<rect x="1275.6" y="308.6" width="1.4" height="1.4" opacity="0.27"/>
<rect x="1269.1" y="180" width="1.4" height="1.4" opacity="0.82"/>
<rect x="1267.7" y="134.4" width="1.4" height="1.4" opacity="0.76"/>
</g>
</g>
<rect x="1206.5" y="437" width="118.5" height="13.2" fill="#fff"/>
<text x="1202.5" y="428.6" font-family='"Liberation Sans", Arial, sans-serif' font-size="35" fill="#fff">250 µm</text>
<g clip-path="url(#clipD)">
<g filter="url(#warpD)">
<rect x="20" y="539.5" width="645" height="569.0" fill="#505050"/>
<polygon points="86.5,545.6 89.7,539.5 72.5,539.5" fill="url(#dg19)"/>
<polygon points="189.4,541.6 195.3,541 188.1,541" fill="url(#dg22)"/>
<polygon points="254,572 294.9,539.5 253,539.5" fill="url(#dg24)"/>
<polygon points="584.9,541.9 585.3,541 575,541" fill="url(#dg31)"/>
<polygon points="41.1,599.8 66.1,598 77.8,590.9 83.7,547.1 71.9,542 46.1,542" fill="url(#dg38)"/>
<polygon points="110.5,598.2 134.6,570.4 146.1,541 90.6,541 87.9,546.1 81.8,591.7 89.6,596.7" fill="url(#dg39)"/>
<polygon points="135.9,571.2 145.2,588.9 174.6,587.8 189.1,543.1 181.1,539.5 148.3,539.5" fill="url(#dg40)"/>
<polygon points="208,605 202.6,541.8 189.1,543.1 174.6,587.8 176.1,618" fill="url(#dg41)"/>
<polygon points="202.6,541.8 208,605 209.4,606.2 251.9,579.1 254,572 253,539.5 204.3,539.5" fill="url(#dg42)"/>
<polygon points="315.7,546.6 316,542 295.7,542 256.2,573.5 254.5,579.1 261.7,600.8 271,601.3" fill="url(#dg43)"/>
<polygon points="319.5,572.6 316.5,553.5 275.6,603.7 299.4,626.8" fill="url(#dg44)"/>
<polygon points="318.1,547.6 322.1,572.8 360.4,584.1 367,580.7 373.2,570.2 379.7,543 379.6,539.5 318.6,539.5" fill="url(#dg45)"/>
<polygon points="376.2,568.5 419.3,581.2 417.8,542 390.8,542 381.8,544.9" fill="url(#dg46)"/>
<polygon points="422.4,584.4 425.6,589.1 453.2,540 420.8,540" fill="url(#dg47)"/>
<polygon points="427.2,590.5 427.3,599.2 463.5,603.4 478.7,577.8 486.6,542.3 485.1,541 454.9,541" fill="url(#dg48)"/>
<polygon points="490.5,543.2 483,577 516.4,594.1 523.6,579.6 528.8,542 492,542" fill="url(#dg49)"/>
<polygon points="528.9,577.9 554.4,578.5 577.3,569.8 582.7,545.7 542,542 533.9,542" fill="url(#dg50)"/>
<polygon points="582,571.8 582.6,578.3 619.6,573.8 636.8,542 589.2,542 588.2,544.3" fill="url(#dg51)"/>
<polygon points="621.7,576.3 619.9,603.7 659.1,584.7 641.2,540.2" fill="url(#dg52)"/>
<polygon points="661,584.1 663.5,586.4 663.5,541 643.7,541" fill="url(#dg53)"/>
<polygon points="44,668.5 52,660.2 64.9,602 39,603.9 21.5,623.7 21.5,648.7" fill="url(#dg56)"/>
<polygon points="80.1,594.2 68.2,601.4 55.1,659.7 69.9,662.2 87.4,598.8" fill="url(#dg57)"/>
<polygon points="111.4,655.4 144.3,669.4 156.4,637.1 143.8,589.4 135.6,573.8 112.6,600.3" fill="url(#dg58)"/>
<polygon points="176.1,618 174.6,587.8 145.2,588.9 158,637.2" fill="url(#dg59)"/>
<polygon points="177.4,672.2 204.5,643.8 207.8,606.8 207.7,606.7 176.9,619.3 159.3,638 146.7,671.6 147.4,677.4" fill="url(#dg60)"/>
<polygon points="259.9,603.2 251.9,579.1 209.4,606.2 205.9,644.4 222.6,677.2 245.9,653.5" fill="url(#dg61)"/>
<polygon points="291.7,655.4 298,642.7 297.9,632.3 271.1,606.4 261.7,605.8 248.8,652.4 272.8,669.3" fill="url(#dg62)"/>
<polygon points="322.1,572.8 300.4,631.2 300.5,643.3 325.8,642.1 360.4,584.1" fill="url(#dg63)"/>
<polygon points="367,580.7 360.4,584.1 325.8,642.1 347.4,682.4 373.4,651.7" fill="url(#dg64)"/>
<polygon points="401,648.7 406.6,642.8 425.8,600.6 425.7,590.1 421.9,584.5 373.2,570.2 367,580.7 373.4,651.7" fill="url(#dg65)"/>
<polygon points="462.9,606.4 426.7,602.2 408.4,642.4 443.1,673.1 466.9,649.8" fill="url(#dg66)"/>
<polygon points="470.8,648.6 507.9,636.6 514.7,598.8 481.1,581.7 466.9,605.6" fill="url(#dg67)"/>
<polygon points="522.5,656.7 552.6,582.5 527,581.9 518.9,597.9 511.7,638.3" fill="url(#dg68)"/>
<polygon points="579.5,571.6 554.8,581 523.7,657.8 559.7,646.5 573.5,634.7 580.4,581.1" fill="url(#dg69)"/>
<polygon points="580.4,581.1 573.5,634.7 598.9,650.6 599.2,650.4 619.3,604.6 621.2,576.1" fill="url(#dg70)"/>
<polygon points="599.2,650.4 643.1,642.7 660.1,621.9 663.9,588.8 659.7,585 619.3,604.6" fill="url(#dg71)"/>
<polygon points="663.9,588.8 660.1,621.9 665,625.7 665,587.6" fill="url(#dg72)"/>
<polygon points="35.9,712.9 42.5,671.2 21.5,652.7 21.5,722.4" fill="url(#dg74)"/>
<polygon points="76.9,685.6 69.2,666.1 54.2,663.6 46.4,671.7 40.1,712.1 47.3,714.6" fill="url(#dg75)"/>
<polygon points="72.6,663.8 80.8,684.7 86.6,684.4 108.3,655.8 109.6,601.1 90.3,599.8" fill="url(#dg76)"/>
<polygon points="143.6,679 142.9,673.2 110.6,659.4 89.9,686.7 92.5,720.6 133.5,705.1 139.3,697.7" fill="url(#dg77)"/>
<polygon points="151.6,721.1 183.3,725.4 188.6,716.3 177.8,674.2 146.5,679.6 142.1,698.8" fill="url(#dg78)"/>
<polygon points="218.3,692.2 222,677.3 205.8,645.3 178.7,673.8 189.4,715.5" fill="url(#dg79)"/>
<polygon points="268.2,684.3 272.8,672.3 245.9,653.5 222.6,677.2 218.8,692.5 231.4,734.4" fill="url(#dg80)"/>
<polygon points="268.2,684.3 274.3,745.9 278.9,744.4 299.1,705.7 293.6,657 272.8,672.3" fill="url(#dg81)"/>
<polygon points="346.9,682.5 325.5,642.6 300.9,643.7 294.2,657.1 299.5,705.2 340.8,700.4" fill="url(#dg82)"/>
<polygon points="398.2,651.6 374.7,654.1 349.6,683.7 343.7,701.3 343.7,703.2 355.6,720.5 395.9,673.7" fill="url(#dg83)"/>
<polygon points="429.8,710.5 434.6,699.9 442.6,675.3 406.6,643.5 401.5,649 398.8,674.7 396.8,717" fill="url(#dg84)"/>
<polygon points="468.1,654.3 445.4,676.5 438.3,698.4 468.1,706.4" fill="url(#dg85)"/>
<polygon points="470.6,651.3 470.6,709.7 474.5,731.1 480.8,736.6 511.8,694.7 522,658.6 510.1,638.6" fill="url(#dg86)"/>
<polygon points="511.8,694.7 531.8,726 549.4,723.3 559.7,646.5 523.7,657.8 522,658.6" fill="url(#dg87)"/>
<polygon points="573.6,635.3 560.1,646.7 550,723.1 553.6,726.7 592.5,697.6 598.3,650.9" fill="url(#dg88)"/>
<polygon points="592.9,697.8 638.1,707.9 643.1,642.7 599.2,650.4 598.9,650.6" fill="url(#dg89)"/>
<polygon points="665,705.2 665,625.7 660.1,621.9 643.1,642.7 638.1,707.9 643.8,721.2 648.6,720.4 649.7,719.8 663.1,710.7" fill="url(#dg90)"/>
<polygon points="46.3,790.7 55,776 46.6,718.6 37.5,715.4 21.5,726 21.5,765.6" fill="url(#dg93)"/>
<polygon points="89.7,724 86.9,686.4 80,686.7 48.4,717.7 57,775.5 77.5,762.2" fill="url(#dg94)"/>
<polygon points="92.2,726 80.9,761.5 101.7,775.6 105.3,773.6 130.6,711.6" fill="url(#dg95)"/>
<polygon points="136.3,708 109.2,774.6 122.3,780.7 146.4,745.3 149.7,721.8 141.2,701.8" fill="url(#dg96)"/>
<polygon points="147.9,745.9 163.7,781.2 180.5,750.2 183.5,725.9 151.3,721.6" fill="url(#dg97)"/>
<polygon points="231.4,735 231.4,734.4 218.8,692.5 189.2,716.4 183.5,725.9 180.5,750.2 209.1,760.7" fill="url(#dg98)"/>
<polygon points="234.3,734.8 251.1,760.5 271.6,744.8 266.3,691.1" fill="url(#dg99)"/>
<polygon points="338.6,703.7 300.7,708.1 281.9,744.2 298.8,767 310,764.8" fill="url(#dg100)"/>
<polygon points="341.2,704 311.7,767 328.9,806.9 332,806.9 358.1,759.2 363.2,739.2 355.4,724.6" fill="url(#dg101)"/>
<polygon points="396.6,679 357.2,724.8 363.8,737.2 392.1,721.8 394.8,717.2" fill="url(#dg102)"/>
<polygon points="393.7,723.1 396.5,790.3 418,776.7 432.5,739.8 429.8,711.6 396.6,718.1" fill="url(#dg103)"/>
<polygon points="474,730.7 470.2,710.1 435.4,700.7 430.7,711 433.5,739.2" fill="url(#dg104)"/>
<polygon points="480.5,740.5 496.4,771.8 511.5,772.7 531.8,726 511.8,694.7 480.8,736.6" fill="url(#dg105)"/>
<polygon points="550.9,743.8 552,727.9 548.9,724.9 532.8,727.4 513.2,772.6 514.2,774.5" fill="url(#dg106)"/>
<polygon points="557.4,794.2 559.5,794.1 590.7,732.6 592.9,697.8 553.6,727.3 552.3,744.6" fill="url(#dg107)"/>
<polygon points="595.2,700.9 593.3,731.7 618.2,758 641,721 636.3,710.1" fill="url(#dg108)"/>
<polygon points="663.1,710.7 649.7,719.8 665,763.6 665,711.5" fill="url(#dg109)"/>
<polygon points="46.6,793.2 20,766.3 20,820.9 34,822.2 38.5,817.3" fill="url(#dg112)"/>
<polygon points="78,762.5 56.6,776.4 46.6,793.2 38.5,817.3 62.5,843.1 97.6,793 101.6,778.5" fill="url(#dg113)"/>
<polygon points="107.3,775.9 102,778.9 98.1,793 99,844.1 128.3,794.6 122.4,783" fill="url(#dg114)"/>
<polygon points="125.7,782.8 130.8,792.9 143.5,801.5 157,796.9 161,781.4 147.4,751" fill="url(#dg115)"/>
<polygon points="209.1,760.7 180.5,750.2 163.7,781.2 159,798.8 173.7,827.5 196.5,801.4" fill="url(#dg116)"/>
<polygon points="227,803.7 242.7,789.7 248.9,764.4 231.2,737.5 210.5,761.4 198.4,800.1" fill="url(#dg117)"/>
<polygon points="278.9,744.4 274.3,745.9 250.5,764.1 244,790.5 258.3,831.8 274.4,818.4 297.7,769.8" fill="url(#dg118)"/>
<polygon points="310.2,769.8 299.4,772 277.7,817.2 305.5,830.4 325.9,806.4" fill="url(#dg119)"/>
<polygon points="341.6,821.8 380.5,823.4 381.5,822.6 394.5,793.3 358.1,759.2 332,806.9" fill="url(#dg120)"/>
<polygon points="363.2,739.2 358.1,759.2 394.5,793.3 396,791.1 393.2,723" fill="url(#dg121)"/>
<polygon points="445,803.9 480.5,740.5 480.8,736.6 474.5,731.1 433,739.8 418.4,777" fill="url(#dg122)"/>
<polygon points="493.7,771.9 480.4,745.8 447.5,804.6 447.5,812.6 476.7,813.9" fill="url(#dg123)"/>
<polygon points="497.1,841.5 522.3,815.9 511.5,777.7 510,775.1 498.1,774.4 481,816.5 488.3,839.5" fill="url(#dg124)"/>
<polygon points="525.1,816.6 531.6,816.3 557.4,794.2 552.3,744.6 513.8,776.8" fill="url(#dg125)"/>
<polygon points="562.6,793.4 589.2,814.4 603.5,803.5 615.8,762.7 591.3,736.9" fill="url(#dg126)"/>
<polygon points="648.6,720.4 643.8,721.2 618.6,762.1 605.7,805 630.2,819.8 654.1,801.7" fill="url(#dg127)"/>
<polygon points="649.7,719.8 648.6,720.4 654.1,801.7 665,798.8 665,763.6" fill="url(#dg128)"/>
<polygon points="34,822.2 20,820.9 20,861.1" fill="url(#dg130)"/>
<polygon points="73.7,887.7 62,843.3 38.5,818 34.4,822.4 20.5,861.2 20.5,881.7 26.1,895.2 68,898.1" fill="url(#dg131)"/>
<polygon points="65.2,843.5 75.8,883.7 90.4,873.8 96,845.7 95.2,800.7" fill="url(#dg132)"/>
<polygon points="100.9,846.8 95.7,872.9 106.1,873.4 139.9,805.1 129.6,798.2" fill="url(#dg133)"/>
<polygon points="158.8,799.4 143.5,804.7 108.3,875.9 110.4,877.8 148.7,879.3 169.3,862.4 173.2,827.6" fill="url(#dg134)"/>
<polygon points="176.1,828.6 172.4,861.8 185.8,876.8 204.1,861.9 224,807.4 197.5,804.1" fill="url(#dg135)"/>
<polygon points="236.1,862 252,854.1 258.3,831.8 244,790.5 227.5,805.3 206.2,863.4" fill="url(#dg136)"/>
<polygon points="274.5,819 258.8,832.1 252.5,854.1 261.6,889.5 290.8,875.3 305.5,833.8" fill="url(#dg137)"/>
<polygon points="329.1,807.4 306.6,833.7 291.8,875.5 306.2,894.4 336.8,839.5 341,821.9 331.7,807.4" fill="url(#dg138)"/>
<polygon points="341.9,822.3 337.8,839.8 341.1,894.8 355.3,890.9 379.8,823.8" fill="url(#dg139)"/>
<polygon points="395.8,794.1 383.2,822.4 405.6,855.2 428.4,841.5 443.4,814.6 443.5,804.6 418.2,778.9 397.1,792.2" fill="url(#dg140)"/>
<polygon points="444.8,816.2 430.1,842.6 437,885.4 452.3,886.5 461.6,867.4" fill="url(#dg141)"/>
<polygon points="486.3,841.6 478.3,816.4 444.9,814.9 444.9,815 462.1,867.5" fill="url(#dg142)"/>
<polygon points="533.7,878.2 531.6,816.3 525.1,816.6 498,844.2 492.9,900.4 506.5,899.1" fill="url(#dg143)"/>
<polygon points="535.1,877.4 551.7,888.7 573.9,863.3 587.4,818.1 559,795.6 557.9,795.7 533.2,817" fill="url(#dg144)"/>
<polygon points="605.7,805 589.2,817.6 575.2,864.1 597.8,897.2 628.7,861.8 630.2,819.8" fill="url(#dg145)"/>
<polygon points="655.2,804 632.7,821.1 631.2,860.9 642.5,873.4 662.5,850.2 662.5,802" fill="url(#dg146)"/>
<polygon points="20.5,884.3 20.5,908.2 25.2,895.7" fill="url(#dg149)"/>
<polygon points="42.6,947.5 67.7,901 68.3,898.7 25.7,895.7 20,910.9 20,938.8" fill="url(#dg150)"/>
<polygon points="77.8,927.8 105.2,942.9 107.7,879.4 106.6,878.4 93.4,877.8 76.2,889.5 70.6,899.6 70.3,901" fill="url(#dg151)"/>
<polygon points="148.9,879.8 110.2,878.3 107.5,947.1 109,953.3 129,947" fill="url(#dg152)"/>
<polygon points="169.5,866.1 151.1,881.2 131.8,946.5 132.9,947.9 151.5,948.9 183,927.6 183.1,881.2" fill="url(#dg153)"/>
<polygon points="207.3,936 235.4,862.5 206.4,863.9 186.1,880.5 186,928.8 194.4,944.2 196.6,944.5" fill="url(#dg154)"/>
<polygon points="240.6,919.6 259.7,890 251,856.3 237.3,863.1 210.4,933.5" fill="url(#dg155)"/>
<polygon points="275.6,947.5 310.3,913.3 306.3,895.3 291.2,875.6 261.3,890.2 261.2,890.4" fill="url(#dg156)"/>
<polygon points="311.7,912.4 316.4,915.5 339.1,894.8 336.1,844.9 307.9,895.5" fill="url(#dg157)"/>
<polygon points="381.7,827.3 358.4,891.1 374,919.7 388.1,909.9 402.4,857.6" fill="url(#dg158)"/>
<polygon points="428.4,845 406.4,858.2 392.1,910.7 408,919.1 435,885.5" fill="url(#dg159)"/>
<polygon points="429.9,952.6 457.3,915.8 451.3,888.4 437.3,887.5 410.1,921.4 413.1,936.2" fill="url(#dg160)"/>
<polygon points="454.1,887.2 460.2,914.8 478.6,917.9 491.4,899.9 496.3,845.4 486.9,843.3 463.4,868.3" fill="url(#dg161)"/>
<polygon points="548.2,909.7 551.9,890.7 533.7,878.2 506.5,899.1 518.9,941.6" fill="url(#dg162)"/>
<polygon points="597.8,897.2 575.2,864.1 551.9,890.7 548.2,909.7 562,957.9 582.6,942.3 594.9,922.9" fill="url(#dg163)"/>
<polygon points="628.7,865.6 600.2,898.3 597.7,920.9 625.2,926.8 640.5,909.4 640,878.1" fill="url(#dg164)"/>
<polygon points="644,877.7 644.5,909.3 647.1,910.2 663.5,892.4 663.5,855.2" fill="url(#dg165)"/>
<polygon points="664.5,938.3 664.5,894.3 648.1,912" fill="url(#dg166)"/>
<polygon points="34.2,984.3 42.6,947.5 20,938.8 20,986.5" fill="url(#dg168)"/>
<polygon points="42.6,947.5 34.2,984.3 43.3,1013.5 74.8,970.6 75.7,929.5 67.7,901" fill="url(#dg169)"/>
<polygon points="100.9,967.3 109,953.3 107.5,947.1 75.7,929.5 74.8,970.6" fill="url(#dg170)"/>
<polygon points="128.2,982.2 145.6,992.5 151.6,951.9 132.1,950.9" fill="url(#dg171)"/>
<polygon points="194,944.6 185.5,928.9 152.2,951.4 146,993.3 148.7,1010.4 163.3,1009.4" fill="url(#dg172)"/>
<polygon points="237.7,989.4 245.8,982.2 241.7,920.8 207.7,936.3 196.7,945 211.6,987" fill="url(#dg173)"/>
<polygon points="262.8,980.6 275.6,947.5 261.2,890.4 241.7,920.8 245.8,982.2" fill="url(#dg174)"/>
<polygon points="264.5,980.5 268.2,987.4 310.9,977.8 316.9,966.2 315.1,918.2 310.5,915.3 276.9,948.3" fill="url(#dg175)"/>
<polygon points="355.4,891.9 340.9,895.9 317,917.6 318.8,965.9 359.4,955 372.6,923.3" fill="url(#dg176)"/>
<polygon points="407.1,922 390.4,913.2 374.4,924.3 361.3,955.7 364.3,985.1 386.6,980.5 410.1,936.8" fill="url(#dg177)"/>
<polygon points="427.8,968.4 428.6,955.5 412.1,939.5 389.3,981.8 400.7,998.9" fill="url(#dg178)"/>
<polygon points="442,989.9 477.8,952.8 477.8,920.8 459.6,917.7 431.6,955.5 430.8,968.7" fill="url(#dg179)"/>
<polygon points="502.9,971.9 516.2,941.5 504.7,901.8 494.3,902.8 481.8,920.4 481.8,952.6 495.7,972.4" fill="url(#dg180)"/>
<polygon points="518.4,996.8 520.4,997.6 558.2,967 562,957.9 548.2,909.7 518.9,941.6 504.6,974.3" fill="url(#dg181)"/>
<polygon points="582.6,942.3 562,957.9 558.2,967 567.8,1016.7 602.1,986" fill="url(#dg182)"/>
<polygon points="615,980.8 624.4,930.8 595.6,924.6 584.3,942.4 603,984.5 613,984.1" fill="url(#dg183)"/>
<polygon points="665,964.8 665,940.1 647.5,911.9 643,910.3 626.1,929.6 616.4,981.3" fill="url(#dg184)"/>
<polygon points="42.1,1038 43.3,1013.5 34.2,984.3 20,986.5 20,1051.5" fill="url(#dg187)"/>
<polygon points="44.7,1037.3 47.9,1041.1 92.4,1008.8 97.9,970.2 76.2,972.9 45.8,1014.4" fill="url(#dg188)"/>
<polygon points="128.1,949.9 110.6,955.4 103.3,968.1 97.4,1009.1 108.8,1018 125.2,981.8 129,951.1" fill="url(#dg189)"/>
<polygon points="109.8,1021.9 115.8,1039.5 117.3,1040.4 148.7,1010.4 146,993.3 127.6,982.5" fill="url(#dg190)"/>
<polygon points="211,987 196.3,945.5 194.3,945.2 163.8,1009.4 174.1,1049.8 188.3,1037.5" fill="url(#dg191)"/>
<polygon points="221.5,1043 237.1,989.8 211.9,987.6 189.4,1037.5" fill="url(#dg192)"/>
<polygon points="224.9,1042.2 261.8,1023.3 264.9,989.6 261.4,983.2 246.8,984.6 239.9,990.8" fill="url(#dg193)"/>
<polygon points="267.2,1041.9 274.5,1045 309.5,1013.7 311.4,979.8 267.9,989.5 264.6,1024.8" fill="url(#dg194)"/>
<polygon points="318.4,966.5 312,979.1 310,1013.9 330.9,1051.9 346,1040 363,986.9 359.7,955.4" fill="url(#dg195)"/>
<polygon points="387.5,981.9 363,986.9 346,1040 377.9,1056 395.3,1027.7 400.5,1001.4" fill="url(#dg196)"/>
<polygon points="395.9,1027.2 438.4,1023.4 441.1,992.5 429.2,969.9 401,1001.6" fill="url(#dg197)"/>
<polygon points="442.1,1034.7 452.2,1041.6 456.2,1039.6 493.9,975 479.3,954.2 442.1,992.6 439.4,1023.9" fill="url(#dg198)"/>
<polygon points="456.5,1040 481.5,1051.1 518.4,996.8 504.6,974.3 494.5,975" fill="url(#dg199)"/>
<polygon points="523.5,1028.7 565.6,1025.4 567.8,1016.7 558.2,967 520.4,997.6" fill="url(#dg200)"/>
<polygon points="602.7,987.5 569.2,1017.5 567.1,1025.6 566.4,1052.3 611.5,1032.8 612.2,1031.2 612.3,987.1" fill="url(#dg201)"/>
<polygon points="613.7,1031.5 648.9,1015.9 665,987.8 665,964.8 616.4,981.3 613.8,985.5" fill="url(#dg202)"/>
<polygon points="39.5,1041.4 21.5,1052.3 21.5,1079.7" fill="url(#dg206)"/>
<polygon points="115.8,1039.5 109.8,1021.9 94.7,1010.2 47.5,1044.5 54.8,1096.1 59.4,1095.5" fill="url(#dg207)"/>
<polygon points="122,1079.8 116.8,1040.7 115.9,1040.1 60.2,1095.4 81.1,1108 96.8,1108" fill="url(#dg208)"/>
<polygon points="163.3,1009.4 148.7,1010.4 117.3,1040.4 122.5,1080 139.8,1091.6 168.1,1068.1 173.8,1050.7" fill="url(#dg209)"/>
<polygon points="173.8,1050.7 168.1,1068.1 181.7,1096.5 221.7,1065.3 222.5,1046.3 221.9,1043.5 188.7,1037.9" fill="url(#dg210)"/>
<polygon points="221.7,1065.3 233.9,1089.7 266.7,1042.3 264.1,1024.9 222.5,1046.3" fill="url(#dg211)"/>
<polygon points="232.6,1104.1 243.7,1108.5 250.4,1108.5 283.1,1087.8 274.6,1045.6 266.7,1042.3 233.9,1089.7" fill="url(#dg212)"/>
<polygon points="310,1013.9 274.6,1045.6 283.1,1087.8 300,1097.6 324,1066.9 330.9,1051.9" fill="url(#dg213)"/>
<polygon points="380.6,1075.3 377.9,1056 346,1040 330.9,1051.9 324,1066.9 337.3,1103.7 378.2,1085.2" fill="url(#dg214)"/>
<polygon points="377.9,1056 380.6,1075.3 413.1,1069.5 441.7,1035 438.9,1023.9 395.3,1027.7" fill="url(#dg215)"/>
<polygon points="441.2,1106.2 452.2,1042.2 441.7,1035 413.1,1069.5 414.7,1108.5 439.2,1108.5" fill="url(#dg216)"/>
<polygon points="492.4,1093.9 481.1,1051.4 456.6,1040.5 452.7,1042.5 441.8,1105.8 450.2,1108 476.2,1108" fill="url(#dg217)"/>
<polygon points="513.8,1079.1 523.5,1028.7 520.4,997.6 518.4,996.8 481.5,1051.1 492.9,1094 498.3,1094.2" fill="url(#dg218)"/>
<polygon points="551.3,1079.1 554.7,1075.9 563.4,1054.3 564.1,1027.1 524.8,1030.1 515.6,1077.6" fill="url(#dg219)"/>
<polygon points="611.6,1092.8 612.2,1034.7 565.3,1055 556.5,1076.7 586.5,1108 596.4,1108" fill="url(#dg220)"/>
<polygon points="615.2,1034.5 614.6,1090.9 634.6,1093.8 649.8,1090.5 646.6,1019.7 615.6,1033.4" fill="url(#dg221)"/>
<polygon points="46.1,1045.1 42.8,1041.3 21.5,1086.7 21.5,1107 48.3,1107 53.2,1095.9" fill="url(#dg224)"/>
<polygon points="59.1,1097.1 55.8,1097.5 51.6,1107 75.5,1107" fill="url(#dg226)"/>
<polygon points="139.2,1091.8 122.6,1080.6 98.1,1108 136.1,1108" fill="url(#dg227)"/>
<polygon points="139.8,1091.6 136.5,1108.5 181.8,1108.5 181.7,1096.5 168.1,1068.1" fill="url(#dg228)"/>
<polygon points="183.3,1107 229,1107 231.2,1103.6 232.4,1090 221.2,1067.6 183.2,1097.3" fill="url(#dg229)"/>
<polygon points="300,1097.6 283.1,1087.8 250.4,1108.5 297.9,1108.5" fill="url(#dg231)"/>
<polygon points="323.6,1069.9 301.4,1098.3 299.7,1107 336,1107 335.8,1104" fill="url(#dg232)"/>
<polygon points="337.3,1103.7 337.5,1108.5 374.8,1108.5 378.2,1085.2" fill="url(#dg233)"/>
<polygon points="412.6,1070.1 381,1075.7 378.7,1085.3 375.4,1108 414.2,1108" fill="url(#dg234)"/>
<polygon points="496.9,1095.7 493.5,1095.6 480.4,1107 497.6,1107" fill="url(#dg236)"/>
<polygon points="499.2,1108.5 544.4,1108.5 551.9,1080.6 513.8,1079.1 498.3,1094.2" fill="url(#dg237)"/>
<polygon points="556,1076.8 551.9,1080.6 544.4,1108.5 586.3,1108.5" fill="url(#dg238)"/>
<polygon points="634,1096.7 612.2,1093.6 597.8,1108 629.7,1108" fill="url(#dg239)"/>
<polygon points="103.2,707.6 161.6,703.3 183.2,740 176.7,772.5 152.9,779 131.3,757.3 114,729.3" fill="#565656" opacity="0.78"/>
<polygon points="60,660 103,660 99,686 60,688" fill="#666666" opacity="0.78"/>
<polygon points="232.9,578 276,578 274,625.5 250,649.3 232.9,621.2" fill="#525252" opacity="0.78"/>
<polygon points="276,578 306.3,578 302,632 284.7,638.5" fill="#4c4c4c" opacity="0.78"/>
<polygon points="278,650 304,652 306,666 283,668" fill="#303030" opacity="0.78"/>
<polygon points="189.6,725 228.5,729.3 224.2,746.5 200.5,750.9" fill="#4a4a4a" opacity="0.78"/>
<polygon points="116.2,761.7 137.8,761.7 140,794 122.7,802.7 114,783.3" fill="#3a3a3a" opacity="0.78"/>
<polygon points="60,750.9 86,746.5 92.4,781.1 81.6,825 60,825" fill="#646464" opacity="0.78"/>
<polygon points="267.4,759.5 341,759.5 345,825 267.4,825" fill="#6c6c6c" opacity="0.78"/>
<polygon points="152,800 220,800 220,825 152,825" fill="#6c6c6c" opacity="0.78"/>
<polygon points="340,578 353,578 353,591 340,591" fill="#303030" opacity="0.78"/>
<polygon points="340,660 353,649.3 363.8,675.3 383.2,712 374.6,725 353,716.3 340,712" fill="#424242" opacity="0.78"/>
<polygon points="340,746.6 383.2,748.8 411.3,763.9 415.7,794.2 400.5,825 340,825" fill="#6a6a6a" opacity="0.78"/>
<polygon points="487,699 508.6,694.7 517.3,729.3 508.6,751 491.3,742.3" fill="#464646" opacity="0.78"/>
<polygon points="404.9,742.3 426.5,742.3 426.5,764 404.9,764" fill="#3c3c3c" opacity="0.78"/>
<polygon points="564.8,660 599.4,660 608,694.7 577.8,729.3 564.8,707.7" fill="#565656" opacity="0.78"/>
<polygon points="603.7,584.5 626,584.5 626,610.4 603.7,610.4" fill="#404040" opacity="0.78"/>
<polygon points="606,621 621,621 621,641 606,641" fill="#343434" opacity="0.78"/>
<polygon points="340,604 368,599.6 372.4,629.9 353,634.2 340,625.6" fill="#6a6a6a" opacity="0.78"/>
<polygon points="60,820 81.9,820 103.7,874.7 119,907.5 114.7,925 88.4,925 73.1,907.5 60,903" fill="#505050" opacity="0.78"/>
<polygon points="81.9,920.6 127.8,920.6 132.2,951.2 121.2,977.5 99.4,977.5 84,951.2" fill="#3a3a3a" opacity="0.78"/>
<polygon points="60,955.6 81.9,955.6 92.8,986.2 68.7,1016.9 60,1016.9" fill="#484848" opacity="0.78"/>
<polygon points="141,820 191.2,820 186.9,852.8 158.4,855 143.1,837.5" fill="#464646" opacity="0.78"/>
<polygon points="186.9,831 219.7,837.5 213.1,870.3 195.6,868.1" fill="#363636" opacity="0.78"/>
<polygon points="211,870 274.4,892.2 278.7,951.2 267.8,986.2 252.5,986.2 230.6,951.2 213.1,918.4" fill="#4a4a4a" opacity="0.78"/>
<polygon points="318,907.5 345,907.5 345,995 322.5,973" fill="#4a4a4a" opacity="0.78"/>
<polygon points="300.6,820 329,820 322.5,833 311.5,833" fill="#303030" opacity="0.78"/>
<polygon points="340,916.2 359.7,916.2 370.6,973 379.4,1005.9 359.7,1016.8 340,1012.4" fill="#464646" opacity="0.78"/>
<polygon points="357.5,870.3 405.6,870.3 407.8,905.3 383.7,907.5 359.7,896.5" fill="#565656" opacity="0.78"/>
<polygon points="445,833 482.1,833 475.6,885.6 449.3,885.6" fill="#505050" opacity="0.78"/>
<polygon points="515,868 532.4,868 525.9,920.6 510.6,916.2" fill="#3a3a3a" opacity="0.78"/>
<polygon points="525.9,820 560.9,820 558.7,863.7 536.8,852.8" fill="#555555" opacity="0.78"/>
<polygon points="497.4,995 558.7,999.3 560.9,1038.7 497.4,1038.7" fill="#505050" opacity="0.78"/>
<polygon points="470,885 510,890 505,915 470,910" fill="#6a6a6a" opacity="0.78"/>
<g fill="none" stroke="#2e2e2e" stroke-linejoin="round"><polyline points="89.7,539.5 72.5,539.5 86.5,545.6" stroke-width="1.5" opacity="0.62"/><polyline points="188.1,541 189.4,541.6" stroke-width="1.9" opacity="0.70"/><polyline points="254,572 294.9,539.5" stroke-width="1.8" opacity="0.64"/><polyline points="585.3,541 575,541" stroke-width="1.4" opacity="0.66"/><polyline points="77.8,590.9 83.7,547.1 71.9,542 46.1,542" stroke-width="1.9" opacity="0.65"/><polyline points="89.6,596.7 110.5,598.2 134.6,570.4 146.1,541" stroke-width="2.4" opacity="0.43"/><polyline points="174.6,587.8 189.1,543.1 181.1,539.5 148.3,539.5 135.9,571.2 145.2,588.9" stroke-width="2.1" opacity="0.59"/><polyline points="202.6,541.8 189.1,543.1 174.6,587.8 176.1,618" stroke-width="1.1" opacity="0.61"/><polyline points="202.6,541.8 208,605 209.4,606.2 251.9,579.1" stroke-width="2.0" opacity="0.55"/><polyline points="254.5,579.1 261.7,600.8 271,601.3 315.7,546.6 316,542 295.7,542" stroke-width="2.3" opacity="0.71"/><polyline points="299.4,626.8 319.5,572.6 316.5,553.5" stroke-width="1.4" opacity="0.79"/><polyline points="322.1,572.8 360.4,584.1 367,580.7 373.2,570.2 379.7,543 379.6,539.5 318.6,539.5 318.1,547.6" stroke-width="1.9" opacity="0.44"/><polyline points="381.8,544.9 376.2,568.5 419.3,581.2" stroke-width="1.7" opacity="0.54"/><polyline points="425.6,589.1 453.2,540 420.8,540 422.4,584.4" stroke-width="2.3" opacity="0.71"/><polyline points="427.3,599.2 463.5,603.4 478.7,577.8 486.6,542.3 485.1,541 454.9,541" stroke-width="2.5" opacity="0.53"/><polyline points="492,542 490.5,543.2 483,577" stroke-width="1.7" opacity="0.53"/><polyline points="554.4,578.5 577.3,569.8 582.7,545.7" stroke-width="1.1" opacity="0.49"/><polyline points="619.6,573.8 636.8,542 589.2,542 588.2,544.3" stroke-width="1.5" opacity="0.69"/><polyline points="619.9,603.7 659.1,584.7 641.2,540.2" stroke-width="1.5" opacity="0.53"/><polyline points="663.5,541 643.7,541 661,584.1 663.5,586.4" stroke-width="1.5" opacity="0.56"/><polyline points="44,668.5 52,660.2 64.9,602" stroke-width="1.8" opacity="0.47"/><polyline points="68.2,601.4 55.1,659.7 69.9,662.2 87.4,598.8 80.1,594.2" stroke-width="1.9" opacity="0.79"/><polyline points="112.6,600.3 111.4,655.4 144.3,669.4 156.4,637.1 143.8,589.4 135.6,573.8" stroke-width="1.2" opacity="0.53"/><polyline points="176.1,618 174.6,587.8 145.2,588.9 158,637.2" stroke-width="2.4" opacity="0.54"/><polyline points="147.4,677.4 177.4,672.2 204.5,643.8 207.8,606.8 207.7,606.7 176.9,619.3 159.3,638" stroke-width="2.1" opacity="0.68"/><polyline points="209.4,606.2 205.9,644.4 222.6,677.2 245.9,653.5" stroke-width="2.3" opacity="0.76"/><polyline points="272.8,669.3 291.7,655.4 298,642.7 297.9,632.3 271.1,606.4 261.7,605.8 248.8,652.4" stroke-width="1.6" opacity="0.46"/><polyline points="325.8,642.1 360.4,584.1 322.1,572.8 300.4,631.2" stroke-width="1.4" opacity="0.79"/><polyline points="367,580.7 360.4,584.1 325.8,642.1" stroke-width="2.4" opacity="0.70"/><polyline points="425.7,590.1 421.9,584.5 373.2,570.2 367,580.7 373.4,651.7 401,648.7" stroke-width="1.3" opacity="0.49"/><polyline points="443.1,673.1 466.9,649.8 462.9,606.4 426.7,602.2" stroke-width="2.4" opacity="0.65"/><polyline points="470.8,648.6 507.9,636.6 514.7,598.8 481.1,581.7" stroke-width="1.1" opacity="0.75"/><polyline points="552.6,582.5 527,581.9 518.9,597.9" stroke-width="2.2" opacity="0.42"/><polyline points="579.5,571.6 554.8,581 523.7,657.8" stroke-width="1.9" opacity="0.46"/><polyline points="580.4,581.1 573.5,634.7 598.9,650.6 599.2,650.4 619.3,604.6" stroke-width="1.4" opacity="0.61"/><polyline points="663.9,588.8 659.7,585 619.3,604.6 599.2,650.4 643.1,642.7" stroke-width="1.4" opacity="0.69"/><polyline points="665,625.7 665,587.6 663.9,588.8" stroke-width="1.3" opacity="0.67"/><polyline points="35.9,712.9 42.5,671.2 21.5,652.7 21.5,722.4" stroke-width="1.5" opacity="0.56"/><polyline points="76.9,685.6 69.2,666.1 54.2,663.6 46.4,671.7 40.1,712.1 47.3,714.6" stroke-width="1.2" opacity="0.56"/><polyline points="109.6,601.1 90.3,599.8 72.6,663.8" stroke-width="2.1" opacity="0.49"/><polyline points="142.9,673.2 110.6,659.4 89.9,686.7 92.5,720.6 133.5,705.1 139.3,697.7" stroke-width="1.9" opacity="0.77"/><polyline points="142.1,698.8 151.6,721.1 183.3,725.4 188.6,716.3 177.8,674.2 146.5,679.6" stroke-width="2.1" opacity="0.53"/><polyline points="189.4,715.5 218.3,692.2 222,677.3 205.8,645.3" stroke-width="1.2" opacity="0.44"/><polyline points="218.8,692.5 231.4,734.4 268.2,684.3 272.8,672.3 245.9,653.5 222.6,677.2" stroke-width="2.5" opacity="0.57"/><polyline points="268.2,684.3 274.3,745.9 278.9,744.4 299.1,705.7 293.6,657" stroke-width="2.2" opacity="0.55"/><polyline points="294.2,657.1 299.5,705.2 340.8,700.4" stroke-width="2.2" opacity="0.50"/><polyline points="343.7,703.2 355.6,720.5 395.9,673.7 398.2,651.6 374.7,654.1" stroke-width="1.8" opacity="0.48"/><polyline points="396.8,717 429.8,710.5 434.6,699.9 442.6,675.3 406.6,643.5 401.5,649" stroke-width="1.4" opacity="0.49"/><polyline points="438.3,698.4 468.1,706.4 468.1,654.3 445.4,676.5" stroke-width="2.0" opacity="0.71"/><polyline points="470.6,709.7 474.5,731.1 480.8,736.6 511.8,694.7 522,658.6" stroke-width="1.5" opacity="0.59"/><polyline points="549.4,723.3 559.7,646.5 523.7,657.8 522,658.6 511.8,694.7 531.8,726" stroke-width="2.4" opacity="0.80"/><polyline points="553.6,726.7 592.5,697.6 598.3,650.9 573.6,635.3" stroke-width="2.1" opacity="0.55"/><polyline points="643.1,642.7 599.2,650.4 598.9,650.6 592.9,697.8" stroke-width="2.5" opacity="0.78"/><polyline points="660.1,621.9 643.1,642.7 638.1,707.9 643.8,721.2 648.6,720.4" stroke-width="1.0" opacity="0.48"/><polyline points="21.5,726 21.5,765.6 46.3,790.7" stroke-width="1.4" opacity="0.63"/><polyline points="86.9,686.4 80,686.7 48.4,717.7 57,775.5 77.5,762.2" stroke-width="1.2" opacity="0.54"/><polyline points="92.2,726 80.9,761.5 101.7,775.6 105.3,773.6" stroke-width="2.3" opacity="0.74"/><polyline points="146.4,745.3 149.7,721.8 141.2,701.8 136.3,708" stroke-width="2.4" opacity="0.53"/><polyline points="163.7,781.2 180.5,750.2 183.5,725.9" stroke-width="2.2" opacity="0.75"/><polyline points="180.5,750.2 209.1,760.7 231.4,735 231.4,734.4" stroke-width="1.2" opacity="0.76"/><polyline points="271.6,744.8 266.3,691.1 234.3,734.8 251.1,760.5" stroke-width="2.3" opacity="0.55"/><polyline points="310,764.8 338.6,703.7 300.7,708.1" stroke-width="2.4" opacity="0.44"/><polyline points="358.1,759.2 363.2,739.2 355.4,724.6 341.2,704 311.7,767 328.9,806.9 332,806.9" stroke-width="1.0" opacity="0.47"/><polyline points="394.8,717.2 396.6,679 357.2,724.8 363.8,737.2 392.1,721.8" stroke-width="1.1" opacity="0.41"/><polyline points="396.6,718.1 393.7,723.1 396.5,790.3 418,776.7 432.5,739.8" stroke-width="2.0" opacity="0.42"/><polyline points="433.5,739.2 474,730.7 470.2,710.1 435.4,700.7 430.7,711" stroke-width="2.5" opacity="0.48"/><polyline points="496.4,771.8 511.5,772.7 531.8,726 511.8,694.7 480.8,736.6 480.5,740.5" stroke-width="2.4" opacity="0.51"/><polyline points="532.8,727.4 513.2,772.6 514.2,774.5" stroke-width="2.3" opacity="0.45"/><polyline points="559.5,794.1 590.7,732.6 592.9,697.8 553.6,727.3" stroke-width="2.0" opacity="0.75"/><polyline points="636.3,710.1 595.2,700.9 593.3,731.7" stroke-width="2.0" opacity="0.59"/><polyline points="649.7,719.8 665,763.6 665,711.5 663.1,710.7" stroke-width="1.4" opacity="0.72"/><polyline points="20,820.9 34,822.2 38.5,817.3 46.6,793.2 20,766.3" stroke-width="1.0" opacity="0.72"/><polyline points="78,762.5 56.6,776.4 46.6,793.2 38.5,817.3" stroke-width="1.1" opacity="0.43"/><polyline points="99,844.1 128.3,794.6 122.4,783 107.3,775.9" stroke-width="2.0" opacity="0.61"/><polyline points="143.5,801.5 157,796.9 161,781.4 147.4,751 125.7,782.8 130.8,792.9" stroke-width="1.7" opacity="0.71"/><polyline points="163.7,781.2 159,798.8 173.7,827.5" stroke-width="2.5" opacity="0.42"/><polyline points="248.9,764.4 231.2,737.5 210.5,761.4 198.4,800.1 227,803.7 242.7,789.7" stroke-width="1.8" opacity="0.69"/><polyline points="297.7,769.8 278.9,744.4 274.3,745.9 250.5,764.1 244,790.5 258.3,831.8" stroke-width="1.6" opacity="0.68"/><polyline points="299.4,772 277.7,817.2 305.5,830.4 325.9,806.4" stroke-width="1.3" opacity="0.50"/><polyline points="381.5,822.6 394.5,793.3 358.1,759.2" stroke-width="1.5" opacity="0.49"/><polyline points="363.2,739.2 358.1,759.2 394.5,793.3 396,791.1 393.2,723" stroke-width="2.1" opacity="0.42"/><polyline points="433,739.8 418.4,777 445,803.9" stroke-width="2.4" opacity="0.79"/><polyline points="493.7,771.9 480.4,745.8 447.5,804.6 447.5,812.6 476.7,813.9" stroke-width="1.3" opacity="0.52"/><polyline points="481,816.5 488.3,839.5 497.1,841.5 522.3,815.9 511.5,777.7 510,775.1 498.1,774.4" stroke-width="2.4" opacity="0.75"/><polyline points="552.3,744.6 513.8,776.8 525.1,816.6 531.6,816.3" stroke-width="1.6" opacity="0.50"/><polyline points="591.3,736.9 562.6,793.4 589.2,814.4 603.5,803.5 615.8,762.7" stroke-width="1.7" opacity="0.60"/><polyline points="643.8,721.2 618.6,762.1 605.7,805" stroke-width="1.5" opacity="0.51"/><polyline points="648.6,720.4 654.1,801.7 665,798.8 665,763.6" stroke-width="1.3" opacity="0.44"/><polyline points="20,861.1 34,822.2 20,820.9" stroke-width="2.4" opacity="0.41"/><polyline points="62,843.3 38.5,818 34.4,822.4 20.5,861.2 20.5,881.7 26.1,895.2" stroke-width="2.0" opacity="0.52"/><polyline points="95.2,800.7 65.2,843.5 75.8,883.7" stroke-width="1.5" opacity="0.57"/><polyline points="95.7,872.9 106.1,873.4 139.9,805.1 129.6,798.2" stroke-width="1.6" opacity="0.75"/><polyline points="169.3,862.4 173.2,827.6 158.8,799.4 143.5,804.7" stroke-width="1.2" opacity="0.55"/><polyline points="224,807.4 197.5,804.1 176.1,828.6" stroke-width="2.5" opacity="0.52"/><polyline points="258.3,831.8 244,790.5 227.5,805.3 206.2,863.4" stroke-width="2.3" opacity="0.49"/><polyline points="258.8,832.1 252.5,854.1 261.6,889.5" stroke-width="1.5" opacity="0.60"/><polyline points="341,821.9 331.7,807.4 329.1,807.4 306.6,833.7" stroke-width="2.1" opacity="0.61"/><polyline points="337.8,839.8 341.1,894.8 355.3,890.9" stroke-width="1.5" opacity="0.77"/><polyline points="383.2,822.4 405.6,855.2 428.4,841.5 443.4,814.6 443.5,804.6 418.2,778.9" stroke-width="1.9" opacity="0.59"/><polyline points="437,885.4 452.3,886.5 461.6,867.4 444.8,816.2" stroke-width="1.4" opacity="0.73"/><polyline points="462.1,867.5 486.3,841.6 478.3,816.4 444.9,814.9" stroke-width="1.3" opacity="0.43"/><polyline points="492.9,900.4 506.5,899.1 533.7,878.2 531.6,816.3 525.1,816.6 498,844.2" stroke-width="2.3" opacity="0.55"/><polyline points="535.1,877.4 551.7,888.7 573.9,863.3 587.4,818.1 559,795.6" stroke-width="2.5" opacity="0.46"/><polyline points="597.8,897.2 628.7,861.8 630.2,819.8 605.7,805 589.2,817.6" stroke-width="2.5" opacity="0.40"/><polyline points="662.5,802 655.2,804 632.7,821.1 631.2,860.9 642.5,873.4 662.5,850.2" stroke-width="2.2" opacity="0.79"/><polyline points="25.2,895.7 20.5,884.3" stroke-width="1.6" opacity="0.46"/><polyline points="68.3,898.7 25.7,895.7 20,910.9" stroke-width="1.6" opacity="0.55"/><polyline points="77.8,927.8 105.2,942.9 107.7,879.4 106.6,878.4 93.4,877.8 76.2,889.5" stroke-width="2.1" opacity="0.75"/><polyline points="109,953.3 129,947 148.9,879.8 110.2,878.3 107.5,947.1" stroke-width="2.0" opacity="0.42"/><polyline points="132.9,947.9 151.5,948.9 183,927.6 183.1,881.2 169.5,866.1" stroke-width="2.2" opacity="0.56"/><polyline points="186,928.8 194.4,944.2 196.6,944.5 207.3,936 235.4,862.5" stroke-width="1.8" opacity="0.45"/><polyline points="237.3,863.1 210.4,933.5 240.6,919.6 259.7,890 251,856.3" stroke-width="2.0" opacity="0.49"/><polyline points="310.3,913.3 306.3,895.3 291.2,875.6 261.3,890.2 261.2,890.4" stroke-width="1.4" opacity="0.67"/><polyline points="316.4,915.5 339.1,894.8 336.1,844.9 307.9,895.5 311.7,912.4" stroke-width="1.1" opacity="0.51"/><polyline points="388.1,909.9 402.4,857.6 381.7,827.3 358.4,891.1 374,919.7" stroke-width="1.3" opacity="0.43"/><polyline points="408,919.1 435,885.5 428.4,845 406.4,858.2 392.1,910.7" stroke-width="2.1" opacity="0.79"/><polyline points="410.1,921.4 413.1,936.2 429.9,952.6 457.3,915.8 451.3,888.4" stroke-width="1.8" opacity="0.76"/><polyline points="491.4,899.9 496.3,845.4 486.9,843.3 463.4,868.3 454.1,887.2" stroke-width="1.9" opacity="0.51"/><polyline points="551.9,890.7 533.7,878.2 506.5,899.1 518.9,941.6" stroke-width="1.0" opacity="0.70"/><polyline points="548.2,909.7 562,957.9 582.6,942.3 594.9,922.9 597.8,897.2 575.2,864.1" stroke-width="1.0" opacity="0.54"/><polyline points="600.2,898.3 597.7,920.9 625.2,926.8 640.5,909.4" stroke-width="2.3" opacity="0.80"/><polyline points="644.5,909.3 647.1,910.2 663.5,892.4 663.5,855.2 644,877.7" stroke-width="1.8" opacity="0.67"/><polyline points="648.1,912 664.5,938.3 664.5,894.3" stroke-width="1.3" opacity="0.78"/><polyline points="20,986.5 34.2,984.3 42.6,947.5" stroke-width="2.2" opacity="0.71"/><polyline points="74.8,970.6 75.7,929.5 67.7,901" stroke-width="1.0" opacity="0.63"/><polyline points="107.5,947.1 75.7,929.5 74.8,970.6" stroke-width="1.9" opacity="0.58"/><polyline points="132.1,950.9 128.2,982.2 145.6,992.5 151.6,951.9" stroke-width="1.3" opacity="0.42"/><polyline points="148.7,1010.4 163.3,1009.4 194,944.6 185.5,928.9" stroke-width="1.5" opacity="0.57"/><polyline points="207.7,936.3 196.7,945 211.6,987 237.7,989.4" stroke-width="2.1" opacity="0.41"/><polyline points="241.7,920.8 245.8,982.2 262.8,980.6" stroke-width="2.4" opacity="0.49"/><polyline points="310.9,977.8 316.9,966.2 315.1,918.2 310.5,915.3 276.9,948.3" stroke-width="2.4" opacity="0.75"/><polyline points="318.8,965.9 359.4,955 372.6,923.3" stroke-width="1.9" opacity="0.54"/><polyline points="386.6,980.5 410.1,936.8 407.1,922 390.4,913.2 374.4,924.3 361.3,955.7 364.3,985.1" stroke-width="2.1" opacity="0.57"/><polyline points="389.3,981.8 400.7,998.9 427.8,968.4 428.6,955.5" stroke-width="1.8" opacity="0.41"/><polyline points="430.8,968.7 442,989.9 477.8,952.8 477.8,920.8 459.6,917.7 431.6,955.5" stroke-width="1.7" opacity="0.80"/><polyline points="516.2,941.5 504.7,901.8 494.3,902.8 481.8,920.4" stroke-width="2.1" opacity="0.76"/><polyline points="518.4,996.8 520.4,997.6 558.2,967 562,957.9 548.2,909.7 518.9,941.6" stroke-width="1.8" opacity="0.80"/><polyline points="602.1,986 582.6,942.3 562,957.9 558.2,967" stroke-width="1.3" opacity="0.41"/><polyline points="624.4,930.8 595.6,924.6 584.3,942.4 603,984.5 613,984.1" stroke-width="2.2" opacity="0.60"/><polyline points="665,940.1 647.5,911.9 643,910.3 626.1,929.6 616.4,981.3 665,964.8" stroke-width="1.5" opacity="0.44"/><polyline points="20,986.5 20,1051.5 42.1,1038 43.3,1013.5" stroke-width="1.6" opacity="0.74"/><polyline points="92.4,1008.8 97.9,970.2 76.2,972.9 45.8,1014.4 44.7,1037.3" stroke-width="2.4" opacity="0.79"/><polyline points="97.4,1009.1 108.8,1018 125.2,981.8 129,951.1 128.1,949.9" stroke-width="2.4" opacity="0.66"/><polyline points="148.7,1010.4 146,993.3 127.6,982.5 109.8,1021.9 115.8,1039.5" stroke-width="1.2" opacity="0.45"/><polyline points="194.3,945.2 163.8,1009.4 174.1,1049.8 188.3,1037.5 211,987 196.3,945.5" stroke-width="2.1" opacity="0.54"/><polyline points="211.9,987.6 189.4,1037.5 221.5,1043" stroke-width="1.6" opacity="0.58"/><polyline points="264.9,989.6 261.4,983.2 246.8,984.6" stroke-width="1.4" opacity="0.75"/><polyline points="311.4,979.8 267.9,989.5 264.6,1024.8" stroke-width="1.3" opacity="0.57"/><polyline points="359.7,955.4 318.4,966.5 312,979.1 310,1013.9 330.9,1051.9" stroke-width="2.4" opacity="0.52"/><polyline points="387.5,981.9 363,986.9 346,1040 377.9,1056" stroke-width="1.4" opacity="0.57"/><polyline points="395.9,1027.2 438.4,1023.4 441.1,992.5 429.2,969.9 401,1001.6" stroke-width="2.3" opacity="0.44"/><polyline points="442.1,1034.7 452.2,1041.6 456.2,1039.6 493.9,975 479.3,954.2" stroke-width="2.3" opacity="0.67"/><polyline points="481.5,1051.1 518.4,996.8 504.6,974.3" stroke-width="1.9" opacity="0.79"/><polyline points="520.4,997.6 523.5,1028.7 565.6,1025.4" stroke-width="1.1" opacity="0.80"/><polyline points="612.3,987.1 602.7,987.5 569.2,1017.5 567.1,1025.6 566.4,1052.3 611.5,1032.8" stroke-width="1.8" opacity="0.44"/><polyline points="665,987.8 665,964.8 616.4,981.3 613.8,985.5" stroke-width="1.7" opacity="0.75"/><polyline points="21.5,1079.7 39.5,1041.4 21.5,1052.3" stroke-width="1.8" opacity="0.79"/><polyline points="109.8,1021.9 94.7,1010.2 47.5,1044.5 54.8,1096.1 59.4,1095.5 115.8,1039.5" stroke-width="1.1" opacity="0.60"/><polyline points="115.9,1040.1 60.2,1095.4 81.1,1108" stroke-width="1.9" opacity="0.47"/><polyline points="117.3,1040.4 122.5,1080 139.8,1091.6 168.1,1068.1 173.8,1050.7 163.3,1009.4" stroke-width="1.3" opacity="0.65"/><polyline points="181.7,1096.5 221.7,1065.3 222.5,1046.3 221.9,1043.5 188.7,1037.9 173.8,1050.7 168.1,1068.1" stroke-width="1.2" opacity="0.61"/><polyline points="266.7,1042.3 264.1,1024.9 222.5,1046.3" stroke-width="1.6" opacity="0.52"/><polyline points="233.9,1089.7 232.6,1104.1 243.7,1108.5 250.4,1108.5 283.1,1087.8" stroke-width="2.5" opacity="0.62"/><polyline points="324,1066.9 330.9,1051.9 310,1013.9" stroke-width="1.9" opacity="0.49"/><polyline points="378.2,1085.2 380.6,1075.3 377.9,1056 346,1040" stroke-width="1.5" opacity="0.61"/><polyline points="395.3,1027.7 377.9,1056 380.6,1075.3 413.1,1069.5 441.7,1035" stroke-width="1.0" opacity="0.54"/><polyline points="441.2,1106.2 452.2,1042.2 441.7,1035 413.1,1069.5 414.7,1108.5 439.2,1108.5" stroke-width="1.2" opacity="0.68"/><polyline points="492.4,1093.9 481.1,1051.4 456.6,1040.5 452.7,1042.5 441.8,1105.8" stroke-width="2.1" opacity="0.42"/><polyline points="520.4,997.6 518.4,996.8 481.5,1051.1 492.9,1094 498.3,1094.2" stroke-width="1.4" opacity="0.51"/><polyline points="564.1,1027.1 524.8,1030.1 515.6,1077.6 551.3,1079.1" stroke-width="1.6" opacity="0.49"/><polyline points="586.5,1108 596.4,1108 611.6,1092.8 612.2,1034.7" stroke-width="2.1" opacity="0.42"/><polyline points="649.8,1090.5 646.6,1019.7 615.6,1033.4 615.2,1034.5 614.6,1090.9 634.6,1093.8" stroke-width="1.3" opacity="0.62"/><polyline points="21.5,1086.7 21.5,1107 48.3,1107 53.2,1095.9 46.1,1045.1" stroke-width="2.1" opacity="0.55"/><polyline points="55.8,1097.5 51.6,1107 75.5,1107" stroke-width="2.3" opacity="0.78"/><polyline points="122.6,1080.6 98.1,1108 136.1,1108 139.2,1091.8" stroke-width="2.0" opacity="0.45"/><polyline points="181.8,1108.5 181.7,1096.5 168.1,1068.1 139.8,1091.6 136.5,1108.5" stroke-width="1.6" opacity="0.76"/><polyline points="229,1107 231.2,1103.6 232.4,1090" stroke-width="1.8" opacity="0.59"/><polyline points="250.4,1108.5 297.9,1108.5 300,1097.6" stroke-width="1.6" opacity="0.72"/><polyline points="323.6,1069.9 301.4,1098.3 299.7,1107 336,1107" stroke-width="2.1" opacity="0.56"/><polyline points="337.3,1103.7 337.5,1108.5 374.8,1108.5" stroke-width="1.4" opacity="0.43"/><polyline points="381,1075.7 378.7,1085.3 375.4,1108" stroke-width="1.6" opacity="0.61"/><polyline points="480.4,1107 497.6,1107 496.9,1095.7" stroke-width="2.5" opacity="0.54"/><polyline points="513.8,1079.1 498.3,1094.2 499.2,1108.5 544.4,1108.5" stroke-width="2.2" opacity="0.44"/><polyline points="586.3,1108.5 556,1076.8 551.9,1080.6 544.4,1108.5" stroke-width="1.3" opacity="0.80"/><polyline points="634,1096.7 612.2,1093.6 597.8,1108" stroke-width="1.3" opacity="0.76"/></g>
<g fill="none" stroke="#eeeeee" stroke-linejoin="round" stroke-linecap="round"><polyline points="86.5,545.6 89.7,539.5" stroke-width="1.9" opacity="0.78"/><polyline points="189.4,541.6 195.3,541 188.1,541" stroke-width="2.9" opacity="0.72"/><polyline points="294.9,539.5 253,539.5 254,572" stroke-width="3.1" opacity="0.96"/><polyline points="575,541 584.9,541.9 585.3,541" stroke-width="2.5" opacity="0.81"/><polyline points="46.1,542 41.1,599.8 66.1,598 77.8,590.9" stroke-width="1.5" opacity="0.93"/><polyline points="146.1,541 90.6,541 87.9,546.1 81.8,591.7 89.6,596.7" stroke-width="1.6" opacity="1.00"/><polyline points="145.2,588.9 174.6,587.8" stroke-width="2.4" opacity="0.98"/><polyline points="176.1,618 208,605 202.6,541.8" stroke-width="2.3" opacity="0.76"/><polyline points="251.9,579.1 254,572 253,539.5 204.3,539.5 202.6,541.8" stroke-width="2.5" opacity="0.89"/><polyline points="295.7,542 256.2,573.5 254.5,579.1" stroke-width="1.9" opacity="0.73"/><polyline points="316.5,553.5 275.6,603.7 299.4,626.8" stroke-width="2.8" opacity="0.76"/><polyline points="318.1,547.6 322.1,572.8" stroke-width="2.0" opacity="0.83"/><polyline points="419.3,581.2 417.8,542 390.8,542 381.8,544.9" stroke-width="1.9" opacity="0.99"/><polyline points="422.4,584.4 425.6,589.1" stroke-width="2.3" opacity="0.95"/><polyline points="454.9,541 427.2,590.5 427.3,599.2" stroke-width="2.1" opacity="0.90"/><polyline points="483,577 516.4,594.1 523.6,579.6 528.8,542 492,542" stroke-width="2.6" opacity="0.87"/><polyline points="582.7,545.7 542,542 533.9,542 528.9,577.9 554.4,578.5" stroke-width="2.0" opacity="0.93"/><polyline points="588.2,544.3 582,571.8 582.6,578.3 619.6,573.8" stroke-width="2.0" opacity="0.74"/><polyline points="641.2,540.2 621.7,576.3 619.9,603.7" stroke-width="2.2" opacity="0.94"/><polyline points="663.5,586.4 663.5,541" stroke-width="2.1" opacity="0.81"/><polyline points="64.9,602 39,603.9 21.5,623.7 21.5,648.7 44,668.5" stroke-width="2.4" opacity="0.95"/><polyline points="80.1,594.2 68.2,601.4" stroke-width="2.4" opacity="0.86"/><polyline points="135.6,573.8 112.6,600.3" stroke-width="2.1" opacity="0.78"/><polyline points="158,637.2 176.1,618" stroke-width="2.7" opacity="0.85"/><polyline points="159.3,638 146.7,671.6 147.4,677.4" stroke-width="2.3" opacity="0.86"/><polyline points="245.9,653.5 259.9,603.2 251.9,579.1 209.4,606.2" stroke-width="3.0" opacity="0.94"/><polyline points="248.8,652.4 272.8,669.3" stroke-width="2.9" opacity="0.83"/><polyline points="300.4,631.2 300.5,643.3 325.8,642.1" stroke-width="1.8" opacity="0.83"/><polyline points="325.8,642.1 347.4,682.4 373.4,651.7 367,580.7" stroke-width="1.8" opacity="0.98"/><polyline points="401,648.7 406.6,642.8 425.8,600.6 425.7,590.1" stroke-width="1.7" opacity="0.76"/><polyline points="426.7,602.2 408.4,642.4 443.1,673.1" stroke-width="2.2" opacity="0.97"/><polyline points="481.1,581.7 466.9,605.6 470.8,648.6" stroke-width="2.6" opacity="0.93"/><polyline points="518.9,597.9 511.7,638.3 522.5,656.7 552.6,582.5" stroke-width="2.9" opacity="0.93"/><polyline points="523.7,657.8 559.7,646.5 573.5,634.7 580.4,581.1 579.5,571.6" stroke-width="2.9" opacity="0.91"/><polyline points="619.3,604.6 621.2,576.1 580.4,581.1" stroke-width="2.6" opacity="1.00"/><polyline points="643.1,642.7 660.1,621.9 663.9,588.8" stroke-width="2.9" opacity="0.72"/><polyline points="663.9,588.8 660.1,621.9 665,625.7" stroke-width="1.5" opacity="0.76"/><polyline points="21.5,722.4 35.9,712.9" stroke-width="3.1" opacity="0.99"/><polyline points="47.3,714.6 76.9,685.6" stroke-width="2.1" opacity="0.91"/><polyline points="72.6,663.8 80.8,684.7 86.6,684.4 108.3,655.8 109.6,601.1" stroke-width="1.5" opacity="0.81"/><polyline points="139.3,697.7 143.6,679 142.9,673.2" stroke-width="3.0" opacity="0.75"/><polyline points="146.5,679.6 142.1,698.8" stroke-width="1.9" opacity="0.76"/><polyline points="205.8,645.3 178.7,673.8 189.4,715.5" stroke-width="2.9" opacity="0.73"/><polyline points="222.6,677.2 218.8,692.5" stroke-width="1.7" opacity="0.71"/><polyline points="293.6,657 272.8,672.3 268.2,684.3" stroke-width="2.6" opacity="0.93"/><polyline points="340.8,700.4 346.9,682.5 325.5,642.6 300.9,643.7 294.2,657.1" stroke-width="2.5" opacity="0.80"/><polyline points="374.7,654.1 349.6,683.7 343.7,701.3 343.7,703.2" stroke-width="2.0" opacity="0.83"/><polyline points="401.5,649 398.8,674.7 396.8,717" stroke-width="1.9" opacity="0.86"/><polyline points="445.4,676.5 438.3,698.4" stroke-width="2.5" opacity="0.71"/><polyline points="522,658.6 510.1,638.6 470.6,651.3 470.6,709.7" stroke-width="2.1" opacity="0.98"/><polyline points="531.8,726 549.4,723.3" stroke-width="2.5" opacity="0.78"/><polyline points="573.6,635.3 560.1,646.7 550,723.1 553.6,726.7" stroke-width="2.7" opacity="0.81"/><polyline points="592.9,697.8 638.1,707.9 643.1,642.7" stroke-width="1.6" opacity="0.75"/><polyline points="648.6,720.4 649.7,719.8 663.1,710.7 665,705.2 665,625.7 660.1,621.9" stroke-width="2.5" opacity="0.94"/><polyline points="46.3,790.7 55,776 46.6,718.6 37.5,715.4 21.5,726" stroke-width="1.8" opacity="0.86"/><polyline points="77.5,762.2 89.7,724 86.9,686.4" stroke-width="2.2" opacity="0.85"/><polyline points="105.3,773.6 130.6,711.6 92.2,726" stroke-width="2.3" opacity="1.00"/><polyline points="136.3,708 109.2,774.6 122.3,780.7 146.4,745.3" stroke-width="2.4" opacity="0.83"/><polyline points="183.5,725.9 151.3,721.6 147.9,745.9 163.7,781.2" stroke-width="2.1" opacity="0.80"/><polyline points="231.4,734.4 218.8,692.5 189.2,716.4 183.5,725.9 180.5,750.2" stroke-width="3.2" opacity="0.84"/><polyline points="251.1,760.5 271.6,744.8" stroke-width="3.2" opacity="0.92"/><polyline points="300.7,708.1 281.9,744.2 298.8,767 310,764.8" stroke-width="2.8" opacity="0.87"/><polyline points="332,806.9 358.1,759.2" stroke-width="2.0" opacity="0.92"/><polyline points="392.1,721.8 394.8,717.2" stroke-width="2.1" opacity="0.88"/><polyline points="432.5,739.8 429.8,711.6 396.6,718.1" stroke-width="1.8" opacity="0.96"/><polyline points="430.7,711 433.5,739.2" stroke-width="1.8" opacity="0.96"/><polyline points="480.5,740.5 496.4,771.8" stroke-width="2.0" opacity="0.95"/><polyline points="514.2,774.5 550.9,743.8 552,727.9 548.9,724.9 532.8,727.4" stroke-width="2.2" opacity="0.75"/><polyline points="553.6,727.3 552.3,744.6 557.4,794.2 559.5,794.1" stroke-width="2.8" opacity="0.81"/><polyline points="593.3,731.7 618.2,758 641,721 636.3,710.1" stroke-width="1.9" opacity="0.74"/><polyline points="663.1,710.7 649.7,719.8" stroke-width="2.5" opacity="0.79"/><polyline points="20,766.3 20,820.9" stroke-width="1.8" opacity="0.92"/><polyline points="38.5,817.3 62.5,843.1 97.6,793 101.6,778.5 78,762.5" stroke-width="1.5" opacity="0.97"/><polyline points="107.3,775.9 102,778.9 98.1,793 99,844.1" stroke-width="2.4" opacity="0.95"/><polyline points="130.8,792.9 143.5,801.5" stroke-width="2.5" opacity="0.77"/><polyline points="173.7,827.5 196.5,801.4 209.1,760.7 180.5,750.2 163.7,781.2" stroke-width="1.9" opacity="0.76"/><polyline points="242.7,789.7 248.9,764.4" stroke-width="2.5" opacity="0.94"/><polyline points="258.3,831.8 274.4,818.4 297.7,769.8" stroke-width="2.6" opacity="0.72"/><polyline points="325.9,806.4 310.2,769.8 299.4,772" stroke-width="1.7" opacity="0.95"/><polyline points="358.1,759.2 332,806.9 341.6,821.8 380.5,823.4 381.5,822.6" stroke-width="1.6" opacity="0.82"/><polyline points="393.2,723 363.2,739.2" stroke-width="1.7" opacity="0.84"/><polyline points="445,803.9 480.5,740.5 480.8,736.6 474.5,731.1 433,739.8" stroke-width="2.4" opacity="0.84"/><polyline points="476.7,813.9 493.7,771.9" stroke-width="2.2" opacity="0.73"/><polyline points="498.1,774.4 481,816.5" stroke-width="2.8" opacity="0.87"/><polyline points="531.6,816.3 557.4,794.2 552.3,744.6" stroke-width="2.1" opacity="0.71"/><polyline points="615.8,762.7 591.3,736.9" stroke-width="2.5" opacity="0.93"/><polyline points="605.7,805 630.2,819.8 654.1,801.7 648.6,720.4 643.8,721.2" stroke-width="1.6" opacity="0.91"/><polyline points="665,763.6 649.7,719.8 648.6,720.4" stroke-width="2.5" opacity="0.89"/><polyline points="20,820.9 20,861.1" stroke-width="2.8" opacity="0.92"/><polyline points="26.1,895.2 68,898.1 73.7,887.7 62,843.3" stroke-width="1.9" opacity="0.96"/><polyline points="75.8,883.7 90.4,873.8 96,845.7 95.2,800.7" stroke-width="2.5" opacity="0.71"/><polyline points="129.6,798.2 100.9,846.8 95.7,872.9" stroke-width="2.0" opacity="0.84"/><polyline points="143.5,804.7 108.3,875.9 110.4,877.8 148.7,879.3 169.3,862.4" stroke-width="2.4" opacity="0.81"/><polyline points="176.1,828.6 172.4,861.8 185.8,876.8 204.1,861.9 224,807.4" stroke-width="2.5" opacity="0.94"/><polyline points="206.2,863.4 236.1,862 252,854.1 258.3,831.8" stroke-width="2.6" opacity="0.99"/><polyline points="261.6,889.5 290.8,875.3 305.5,833.8 274.5,819 258.8,832.1" stroke-width="1.6" opacity="0.82"/><polyline points="306.6,833.7 291.8,875.5 306.2,894.4 336.8,839.5 341,821.9" stroke-width="2.8" opacity="0.81"/><polyline points="355.3,890.9 379.8,823.8 341.9,822.3 337.8,839.8" stroke-width="1.9" opacity="0.96"/><polyline points="418.2,778.9 397.1,792.2 395.8,794.1 383.2,822.4" stroke-width="1.6" opacity="0.85"/><polyline points="444.8,816.2 430.1,842.6 437,885.4" stroke-width="2.1" opacity="0.81"/><polyline points="444.9,814.9 444.9,815 462.1,867.5" stroke-width="1.6" opacity="0.91"/><polyline points="498,844.2 492.9,900.4" stroke-width="2.0" opacity="0.95"/><polyline points="559,795.6 557.9,795.7 533.2,817 535.1,877.4" stroke-width="2.0" opacity="0.81"/><polyline points="589.2,817.6 575.2,864.1 597.8,897.2" stroke-width="2.4" opacity="0.98"/><polyline points="662.5,850.2 662.5,802" stroke-width="2.6" opacity="0.87"/><polyline points="20.5,884.3 20.5,908.2 25.2,895.7" stroke-width="2.9" opacity="0.76"/><polyline points="20,910.9 20,938.8 42.6,947.5 67.7,901 68.3,898.7" stroke-width="2.9" opacity="0.79"/><polyline points="76.2,889.5 70.6,899.6 70.3,901 77.8,927.8" stroke-width="2.7" opacity="0.98"/><polyline points="107.5,947.1 109,953.3" stroke-width="2.9" opacity="0.85"/><polyline points="169.5,866.1 151.1,881.2 131.8,946.5 132.9,947.9" stroke-width="1.9" opacity="0.85"/><polyline points="235.4,862.5 206.4,863.9 186.1,880.5 186,928.8" stroke-width="3.0" opacity="0.76"/><polyline points="251,856.3 237.3,863.1" stroke-width="1.7" opacity="0.81"/><polyline points="261.2,890.4 275.6,947.5 310.3,913.3" stroke-width="2.0" opacity="0.78"/><polyline points="311.7,912.4 316.4,915.5" stroke-width="2.7" opacity="0.74"/><polyline points="374,919.7 388.1,909.9" stroke-width="2.9" opacity="0.96"/><polyline points="392.1,910.7 408,919.1" stroke-width="2.2" opacity="0.89"/><polyline points="451.3,888.4 437.3,887.5 410.1,921.4" stroke-width="2.3" opacity="0.95"/><polyline points="454.1,887.2 460.2,914.8 478.6,917.9 491.4,899.9" stroke-width="2.5" opacity="0.74"/><polyline points="518.9,941.6 548.2,909.7 551.9,890.7" stroke-width="2.5" opacity="0.75"/><polyline points="575.2,864.1 551.9,890.7 548.2,909.7" stroke-width="3.2" opacity="0.82"/><polyline points="640.5,909.4 640,878.1 628.7,865.6 600.2,898.3" stroke-width="2.0" opacity="0.98"/><polyline points="644,877.7 644.5,909.3" stroke-width="3.0" opacity="0.98"/><polyline points="664.5,894.3 648.1,912" stroke-width="2.4" opacity="0.70"/><polyline points="42.6,947.5 20,938.8 20,986.5" stroke-width="2.2" opacity="0.94"/><polyline points="67.7,901 42.6,947.5 34.2,984.3 43.3,1013.5 74.8,970.6" stroke-width="1.9" opacity="0.97"/><polyline points="74.8,970.6 100.9,967.3 109,953.3 107.5,947.1" stroke-width="2.0" opacity="1.00"/><polyline points="151.6,951.9 132.1,950.9" stroke-width="1.9" opacity="0.76"/><polyline points="185.5,928.9 152.2,951.4 146,993.3 148.7,1010.4" stroke-width="1.7" opacity="0.74"/><polyline points="237.7,989.4 245.8,982.2 241.7,920.8 207.7,936.3" stroke-width="3.1" opacity="0.95"/><polyline points="262.8,980.6 275.6,947.5 261.2,890.4 241.7,920.8" stroke-width="3.2" opacity="0.83"/><polyline points="276.9,948.3 264.5,980.5 268.2,987.4 310.9,977.8" stroke-width="1.6" opacity="0.82"/><polyline points="372.6,923.3 355.4,891.9 340.9,895.9 317,917.6 318.8,965.9" stroke-width="3.0" opacity="0.72"/><polyline points="364.3,985.1 386.6,980.5" stroke-width="1.7" opacity="0.92"/><polyline points="428.6,955.5 412.1,939.5 389.3,981.8" stroke-width="2.5" opacity="0.87"/><polyline points="431.6,955.5 430.8,968.7" stroke-width="3.1" opacity="0.75"/><polyline points="481.8,920.4 481.8,952.6 495.7,972.4 502.9,971.9 516.2,941.5" stroke-width="1.6" opacity="0.99"/><polyline points="518.9,941.6 504.6,974.3 518.4,996.8" stroke-width="2.9" opacity="0.94"/><polyline points="558.2,967 567.8,1016.7 602.1,986" stroke-width="2.4" opacity="0.80"/><polyline points="613,984.1 615,980.8 624.4,930.8" stroke-width="1.6" opacity="0.87"/><polyline points="665,964.8 665,940.1" stroke-width="2.9" opacity="0.75"/><polyline points="43.3,1013.5 34.2,984.3 20,986.5" stroke-width="1.7" opacity="0.75"/><polyline points="44.7,1037.3 47.9,1041.1 92.4,1008.8" stroke-width="2.4" opacity="0.79"/><polyline points="128.1,949.9 110.6,955.4 103.3,968.1 97.4,1009.1" stroke-width="2.7" opacity="0.95"/><polyline points="115.8,1039.5 117.3,1040.4 148.7,1010.4" stroke-width="2.7" opacity="0.84"/><polyline points="196.3,945.5 194.3,945.2" stroke-width="3.2" opacity="0.91"/><polyline points="221.5,1043 237.1,989.8 211.9,987.6" stroke-width="2.2" opacity="0.95"/><polyline points="246.8,984.6 239.9,990.8 224.9,1042.2 261.8,1023.3 264.9,989.6" stroke-width="1.9" opacity="0.87"/><polyline points="264.6,1024.8 267.2,1041.9 274.5,1045 309.5,1013.7 311.4,979.8" stroke-width="1.9" opacity="0.84"/><polyline points="330.9,1051.9 346,1040 363,986.9 359.7,955.4" stroke-width="2.0" opacity="0.83"/><polyline points="377.9,1056 395.3,1027.7 400.5,1001.4 387.5,981.9" stroke-width="1.7" opacity="0.97"/><polyline points="401,1001.6 395.9,1027.2" stroke-width="2.4" opacity="0.73"/><polyline points="479.3,954.2 442.1,992.6 439.4,1023.9 442.1,1034.7" stroke-width="3.2" opacity="0.94"/><polyline points="504.6,974.3 494.5,975 456.5,1040 481.5,1051.1" stroke-width="2.0" opacity="0.90"/><polyline points="565.6,1025.4 567.8,1016.7 558.2,967 520.4,997.6" stroke-width="2.4" opacity="0.73"/><polyline points="611.5,1032.8 612.2,1031.2 612.3,987.1" stroke-width="2.3" opacity="0.95"/><polyline points="613.8,985.5 613.7,1031.5 648.9,1015.9 665,987.8" stroke-width="2.6" opacity="0.99"/><polyline points="21.5,1052.3 21.5,1079.7" stroke-width="1.7" opacity="0.82"/><polyline points="115.8,1039.5 109.8,1021.9" stroke-width="2.5" opacity="0.74"/><polyline points="81.1,1108 96.8,1108 122,1079.8 116.8,1040.7 115.9,1040.1" stroke-width="2.3" opacity="1.00"/><polyline points="163.3,1009.4 148.7,1010.4 117.3,1040.4" stroke-width="1.7" opacity="0.87"/><polyline points="168.1,1068.1 181.7,1096.5" stroke-width="2.7" opacity="0.91"/><polyline points="222.5,1046.3 221.7,1065.3 233.9,1089.7 266.7,1042.3" stroke-width="2.8" opacity="0.93"/><polyline points="283.1,1087.8 274.6,1045.6 266.7,1042.3 233.9,1089.7" stroke-width="3.0" opacity="0.76"/><polyline points="310,1013.9 274.6,1045.6 283.1,1087.8 300,1097.6 324,1066.9" stroke-width="2.6" opacity="0.78"/><polyline points="346,1040 330.9,1051.9 324,1066.9 337.3,1103.7 378.2,1085.2" stroke-width="2.1" opacity="0.74"/><polyline points="441.7,1035 438.9,1023.9 395.3,1027.7" stroke-width="2.6" opacity="0.91"/><polyline points="439.2,1108.5 441.2,1106.2" stroke-width="2.1" opacity="0.88"/><polyline points="441.8,1105.8 450.2,1108 476.2,1108 492.4,1093.9" stroke-width="2.9" opacity="0.76"/><polyline points="498.3,1094.2 513.8,1079.1 523.5,1028.7 520.4,997.6" stroke-width="1.6" opacity="0.73"/><polyline points="551.3,1079.1 554.7,1075.9 563.4,1054.3 564.1,1027.1" stroke-width="2.5" opacity="0.73"/><polyline points="612.2,1034.7 565.3,1055 556.5,1076.7 586.5,1108" stroke-width="2.6" opacity="0.72"/><polyline points="634.6,1093.8 649.8,1090.5" stroke-width="2.5" opacity="0.90"/><polyline points="46.1,1045.1 42.8,1041.3 21.5,1086.7" stroke-width="2.8" opacity="0.83"/><polyline points="75.5,1107 59.1,1097.1 55.8,1097.5" stroke-width="3.0" opacity="0.92"/><polyline points="139.2,1091.8 122.6,1080.6" stroke-width="2.2" opacity="0.91"/><polyline points="136.5,1108.5 181.8,1108.5" stroke-width="1.8" opacity="0.78"/><polyline points="232.4,1090 221.2,1067.6 183.2,1097.3 183.3,1107 229,1107" stroke-width="2.2" opacity="0.94"/><polyline points="300,1097.6 283.1,1087.8 250.4,1108.5" stroke-width="2.9" opacity="0.90"/><polyline points="336,1107 335.8,1104 323.6,1069.9" stroke-width="2.8" opacity="0.74"/><polyline points="374.8,1108.5 378.2,1085.2 337.3,1103.7" stroke-width="2.7" opacity="0.87"/><polyline points="375.4,1108 414.2,1108 412.6,1070.1 381,1075.7" stroke-width="1.6" opacity="0.75"/><polyline points="496.9,1095.7 493.5,1095.6 480.4,1107" stroke-width="2.4" opacity="0.75"/><polyline points="544.4,1108.5 551.9,1080.6 513.8,1079.1" stroke-width="3.1" opacity="0.93"/><polyline points="544.4,1108.5 586.3,1108.5" stroke-width="1.8" opacity="0.76"/><polyline points="597.8,1108 629.7,1108 634,1096.7" stroke-width="1.7" opacity="0.81"/></g>
</g>
<g filter="url(#warpD2)"><path d="M51.9,794.6L51.6,805.9M49.1,684L55.8,707.3M603.2,1068L596.5,1073.9M603.2,1068L623,1077.3M583.5,1074.7L596.5,1073.9M583.5,1074.7L578.6,1079.1M594.6,967.3L581.5,966.3M581.5,966.3L578.5,967.7M74.6,784.6L72,805.2M56.2,809.4L72,805.2M74.6,784.6L76.3,784M105.8,773.2L116.1,767.4M109.6,790.5L130.7,791.3M52,758.8L52.4,757.3M63.7,741.1L52.2,756.4M59.3,641.7L62,645.2M59.3,641.7L58.2,641.6M125.5,852.7L131.1,868.1M101.2,852.4L120,869.8M128.7,870L131.1,868.1M103.1,837.9L115.9,831.7M149.7,846.3L133.1,835.5M140.1,818.1L146.6,816.8M117.4,815.9L137.8,816.1M137.8,816.1L130,796.7M160.6,791.5L165,798.3M160.6,791.5L147.5,789.9M126.3,887.1L138.5,892.5M138.5,892.5L129.6,904.6M129.6,904.6L121.3,901.5M149,878.2L147.5,892.8M146.4,909.1L146.8,893.7M139.7,912.1L129.9,928.9M244.5,857.3L242.1,847M242.1,847L262.7,836.7M270.9,846.6L271.6,849.2M180.6,821.3L181.3,829.9M191.4,926.7L169.4,929.2M162.9,917.3L163,917.9M215.5,877.7L210.3,857.2M210.3,857.2L221.7,857.6M241.7,863.1L235.5,868M197.9,859.5L195.7,866.9M206.6,853.5L210.3,857.2M195.7,866.9L207.9,885.8M63,1057.6L62.5,1062.7M63,1057.6L44.2,1052.8M633.8,931.7L631.7,948.8M637.9,872.3L629.7,874.6M627.7,813.3L641.3,825.3M611.9,796.2L628.1,809.8M604.4,815.5L600.7,805.7M604.4,815.5L614.2,822.1M596.8,804.1L587.1,809.7M600.7,805.7L596.8,804.1M593.2,831.9L611.7,835.7M541.5,806.9L544.4,815.7M580,826.6L586.7,825M385.3,948.8L395,952.2M383,966.2L393.9,955.2M467.7,1009.8L455.3,1004.7M455.3,1004.7L453.1,1005.6M465.3,1035L474.1,1021.8M562.8,912.9L553.1,907.9M545.1,925.9L542.6,917.5M545.1,925.9L552.8,931.5M552.8,931.5L557.9,928.4M575,904.1L562.8,912.9M581.6,911.1L576.7,931M600.8,962.8L599.9,958.4M577.9,944.2L580.6,939.3M600.1,933.1L581.2,936.8M599.5,1049.6L579.6,1063.9M575.9,1018.4L584.1,1042.5M562.6,1039.1L569.6,1050.9M600.9,1033.3L594.9,1043.6M562.9,965.9L553.5,950.2M545.1,925.9L524.3,931M552.8,931.5L551,948.4M576.7,931L581.2,936.8M551,948.4L553.5,950.2M140.8,1072.1L131,1079.2M639.3,727.6L629.7,735.6M618.5,714.9L630.6,711.4M102.9,837.7L99,827.8M92.9,803L101.3,819M109.6,790.5L113.5,808.1M63.7,741.1L66.6,740.8M97.9,743.5L107.6,750.3M107.6,750.3L116.6,766.3M88.4,751.5L87,756.4M87,756.4L80.4,761.9M163,917.9L144.9,934.8M133.1,933.3L144.9,934.8M389.1,909L376.2,923.8M393.1,928.9L381.1,928.9M375.7,925.7L376.2,923.8M376.2,923.8L367.8,896.5M378.7,892.4L367.8,896.5M172,859.5L168.4,857.4M171.4,886.7L190,889.4M170.6,884.6L174.6,867.1M174.6,867.1L188.3,874.4M188.3,874.4L191.1,888.7M186.1,908.6L190,889.4M153,877L170.6,884.6M172,859.5L174.6,867.1M195.7,866.9L188.3,874.4M197.8,935.4L213.2,926.8M191.1,913.1L210.1,908.4M214.6,916L210.1,908.4M236.7,887.2L233.6,897.8M94.8,1008.3L93.2,1017.2M93.2,1017.2L73.4,1022.8M73.3,1008.9L70.4,1017.2M49.9,1015.2L54.8,1032M72.4,1029.2L73.4,1022.8M66.2,1054.4L63,1057.6M66.2,1054.4L64.9,1037.5M60.8,990.1L59.1,996M100.6,1003.4L101.3,994M92.8,980.1L101.3,994M598.6,917.9L602.5,930.7M602.5,930.7L608.4,931.4M633.8,931.7L620.6,926.2M610.1,896.6L629.5,883.4M588.6,912.3L598.6,917.9M603.6,891.4L610.1,896.6M631.9,1004.4L611,1008.4M611,1008.4L606.8,1005.1M606.8,1005.1L605.6,1002.3M636.8,1010.9L631.9,1004.4M582.5,1002.5L605.6,1002.3M591.6,1018.8L606.8,1005.1M481.7,759.5L466.7,757.2M453.7,767.5L461.4,782.1M466.7,757.2L458.7,751.8M463.7,781.1L461.4,782.1M433,772.3L453.7,767.5M64.2,645.8L78.5,665.1M458.7,751.8L463.5,741.9M602.8,851.7L595.4,868.7M595.4,868.7L610.9,873.6M620.6,864.2L621.2,867.5M593.2,831.9L588.7,848.7M612.6,838.8L609.5,849.4M633.5,851.5L620.6,864.2M629.7,874.6L621.2,867.5M595.4,868.7L583.4,874.4M583.4,874.4L583,883.7M575,904.1L573.9,892.8M583,883.7L573.9,892.8M546.7,891L549.8,890.1M549.8,890.1L569,891.4M573.9,892.8L569,891.4M611.7,788.5L630.1,780.8M590.2,791.2L605.1,783.2M611.9,796.2L611.7,788.5M541.5,806.9L535.5,802.9M539.4,842.9L551.7,824.1M417.6,1004.1L404.4,1006.3M409.7,1038.8L412.7,1031M387,1026.9L387.9,1025.6M409.7,1038.8L407.6,1040.3M434.2,985.3L438.4,1002.1M386.3,1053.7L405.4,1040.8M386.3,1053.7L385.5,1053.4M382.7,1028.4L380.9,1044.9M382.7,1028.4L368.2,1020.4M380.9,1044.9L357.2,1036.3M465.3,1035L476,1043M476,1043L490.1,1034M575.3,987.9L562.6,990.4M562.6,990.4L562.4,1000.5M562.6,990.4L552.3,981.8M171.1,1079.2L165.9,1060.7M144,1061.8L156,1055.4M189.5,1075.4L188.7,1054.1M165.9,1060.7L185.8,1054.1M233.6,1048.1L222,1063.2M222,1063.2L223,1069.1M157.9,1045.3L164.4,1036.5M116.2,967.1L108.3,963.8M123.5,965.7L133.2,951.9M144.7,955.5L133.2,951.9M133.1,933.3L131.6,943.9M144,1061.8L131.2,1049M131,1039.5L130.7,1041.5M631.4,674.9L611.6,685.1M611.6,685.1L609.1,691.9M630.6,711.4L630.1,693.6M631.6,672.3L631.4,674.9M605.6,709L606.8,694M579.9,688.6L573,695.4M618.5,714.9L605.6,709M572.3,695.7L568.5,710.4M493.8,768.7L499.8,784.4M493.8,768.7L505,760.2M499.8,784.4L518.9,778M505,760.2L515.7,765.6M501.7,743.9L486.3,739.6M483.3,743.5L486.3,739.6M581.1,636.3L578.6,638.8M590.7,606.4L578.2,616M576.3,620.3L578.2,616M74.1,739.4L71.4,739.3M74.1,739.4L82.6,724.8M68.4,724.5L79.9,717.3M82.6,724.8L79.9,717.3M88.4,751.5L74.1,739.4M99.7,736.3L97.9,743.5M108.1,898.9L107.2,898.2M107.2,898.2L100.7,880.3M48.7,947.4L55.3,919.7M144.7,955.5L149.9,965.1M123.5,965.7L139,974.9M249.4,885.9L253.9,877.5M253.9,877.5L263.6,873.7M254.1,859.2L264.6,871.9M264.6,871.9L263.6,873.7M233.6,897.8L236,902.8M214.6,916L229.8,914.8M105.4,1031.7L111.5,1042.7M99.7,1031.6L93.3,1038.6M111.5,1042.7L112.1,1058.4M92.8,1058.3L97.9,1059.9M110.4,1060.6L112.1,1058.4M122.1,1030.5L112.5,1028M112.5,1028L105.4,1031.7M130.7,1041.5L111.5,1042.7M100.6,1003.4L116.2,1009.8M66.2,1054.4L89.5,1054.6M88.3,1070.4L92.8,1058.3M119.8,1076.7L110.4,1060.6M632.7,1075.2L633.5,1074.9M432.3,780.7L425.1,784.6M425.1,784.6L420.6,801.3M373.2,856.7L380.1,857.7M396.5,853L398.9,846.2M436.8,824L434.6,807.1M474.2,808.4L474.2,807.1M195.5,783.8L189.4,780.8M281.5,838.4L277.6,823.9M62,706.1L77,707.4M79.9,717.3L80.5,711.5M463.5,741.9L461,726.3M461,726.3L465.2,723.5M485.5,733L465.2,723.5M583.4,874.4L576.2,862.6M569,891.4L560.5,870.6M537.6,869.5L549,863.5M523.7,846.4L523.9,845.5M103.8,583.9L112.4,572.7M416.6,943.9L431.6,956.9M410.5,964.1L403.9,948.9M424.6,964.4L431.5,959.8M431.5,959.8L431.6,956.9M413.8,919.6L423.2,920.8M423.2,920.8L435.3,931.2M419.3,982.6L406.3,979.9M400,918.1L410.9,916.1M393.1,928.9L406.2,945.4M410.9,916.1L413.8,919.6M381.1,928.9L385.3,948.8M395,952.2L403.9,948.9M420.2,877.1L421.4,895.7M391.4,891L393.5,885.6M396.5,853L398.1,855.4M398.1,855.4L400.5,877M410.9,916.1L412.7,900.8M435.3,931.2L445.3,932M448.6,937.8L447,933.2M447.7,941.2L431.6,956.9M434.1,906.8L430,898.4M434.1,906.8L441.6,911.7M430,898.4L441.6,890.4M423.2,920.8L434.1,906.8M421.4,895.7L430,898.4M421.1,864.1L422.8,873.6M441.6,890.4L437.6,874.5M447,933.2L461.2,921M452.6,904.5L460.9,914.9M460.9,914.9L461.2,921M474.9,900.1L482.2,920.1M461.2,921L479.4,924.3M537.6,869.5L536.3,873.5M546.7,891L540.1,890.3M454.2,960.2L441.2,970.5M454.2,960.2L470.3,966.5M466.5,982.3L464.7,983.5M447.7,941.2L454.2,960.2M434.2,985.3L441.6,975.9M314.7,1036.3L302.3,1040M301.1,1041.5L302.3,1040M327.3,1053.3L307.2,1061.1M300,1054.2L307.2,1061.1M299.1,1026.2L302.3,1040M299.1,1026.2L278.1,1015.6M488.7,985.4L504.7,992.9M504.7,992.9L508.3,973.4M491.7,970.6L508.3,973.4M479.8,989L488.7,985.4M503.1,999.8L492.2,1007.9M476.8,1022L492,1011.9M405.8,1076.1L412.1,1072.1M410.9,1059.7L414.3,1064.7M383.4,1082.2L393.3,1071.3M386.3,1053.7L390.4,1060.8M485.8,1059.8L477.8,1054.5M476,1043L477.8,1054.5M489.7,1078.2L505.3,1076M498.5,1052.7L485.8,1059.8M505.3,1076L513.2,1060.7M524.7,1041L522.6,1038.5M498.5,1052.7L498.8,1038.4M524.7,1041L515.4,1060.2M490.1,1034L496,1033.9M548.9,983.7L526,980.3M533,962.7L521.9,967.6M524.7,993.3L526,980.3M540,952.3L533,962.7M513.3,949.1L519.8,967.2M512.6,969.9L519.8,967.2M165.1,1034.2L159,1018.7M247.3,1039L247.5,1035.3M247.5,1035.3L241.4,1021.3M241.4,1021.3L217.3,1021.6M223.2,1040.1L217.3,1021.6M263.8,1021.9L274.5,1021.3M239.8,1074.4L242.5,1076.2M541.7,673.5L551.5,679.8M603.5,657.9L574.3,652M574.3,652L573.5,653.1M569,655.7L573.5,653.1M557.4,630.7L551.2,632.5M551.2,632.5L555.3,649.9M553.2,714.4L568.5,710.4M563.5,740.4L549.9,727.3M539.9,776L532.8,759.8M562.1,766L557.3,767.2M520.8,741.2L525.7,730.1M520.8,741.2L532.8,759.5M610.7,569.7L615.3,571.4M615.5,571.7L606.8,589.7M97.9,899.6L81.6,896.9M72.2,857.4L52.9,840.9M185,951.1L169.1,941.6M169.1,941.6L163.1,945.1M152.7,943.5L163.1,945.1M149.9,965.1L157.6,965.7M169.4,929.2L169.1,941.6M127.8,1005.9L128.8,1006.1M241.4,1021.3L246,1003.3M249.1,1003.5L246.9,1003.1M316.7,1034.7L314.7,1036.3M316.7,1034.7L318.7,1029.4M309.3,1003.9L318.7,1029.4M281.5,838.4L292.9,836.5M292.9,836.5L291.2,856.6M291.2,856.6L280.5,860.5M264.6,871.9L279.6,863.5M355.8,873.8L363.4,862.5M363.4,862.5L364.5,858.2M330.1,876.8L333.2,874M365.7,896.5L358.5,892.9M311.5,854.9L309,859.3M309,859.3L320.5,875.1M320.5,875.1L327.9,877.1M327.9,877.1L330.1,876.8M331.7,840.9L348.1,833.3M331.7,840.9L331,844.1M377.6,836.6L364.9,825.7M273.5,926L287.9,905.7M287.9,905.7L278.8,894.2M291.2,856.6L306.6,859.6M306.6,859.6L294,884.1M287.6,884.1L294,884.1M229.1,983.6L229.5,994.1M246.9,1003.1L257.4,976.9M273.5,926.4L263.6,931.2M263.6,931.2L245.6,929M245.6,929L240.6,932.1M623.4,1030.9L630.3,1030.4M632.7,1075.2L623.9,1055.5M634.7,1024.1L630.3,1030.4M424.7,826.9L413.5,810.8M436.8,824L424.7,826.9M398.9,846.2L415.1,838.7M509.2,819L503.5,814.2M499.7,840.8L486.2,831.9M486.2,831.9L492,819.2M518.8,816.4L509.2,819M521.8,795.2L503.5,814.2M496.1,793.3L503.3,814.2M510.8,861.3L494.5,856.2M494.5,856.2L499.7,840.8M262.8,834.5L255.2,821.8M220,797.2L229.5,803.1M231.6,806.1L230.5,809.8M331.7,840.9L326.9,833.4M311.5,854.9L302.6,828.3M80.5,711.5L102.3,708.6M107,729.3L125.9,739.5M465.2,723.5L472.5,707.6M457.7,700.4L443,712.4M443,712.4L454.8,725.3M524.1,686.5L509.1,687.6M528.5,676.1L520.7,669.6M511.2,678.1L509.1,687.6M552.4,683.7L545.8,695.9M524.1,686.5L524.9,689.4M553.2,714.4L543.9,704.7M587.6,849L575.5,857.1M587.6,849L578.6,829.8M580,826.6L578.6,829.8M72,578.7L87.2,583.8M103.8,583.9L103.8,583.9M153.4,564.7L137.8,578.7M220.3,616.6L219.6,598.9M234.7,599.7L225,597.3M64.2,645.8L83.7,639.4M83.7,639.4L89.9,643.5M89.9,643.5L87.6,655.8M82.3,664.1L87.6,655.8M65.6,600L82.6,597.6M65.6,600L68.6,620.8M68.6,620.8L74.8,622M65.5,622.2L68.6,620.8M105.7,636.3L103.9,621.9M96.1,612.8L103.9,621.9M96.1,612.8L89.8,611.9M103.8,583.9L104.6,599.4M455.4,893L460.2,890.1M499.5,915.5L482.2,920.1M484,858.9L486.1,875.5M500.8,880.3L511.2,873.7M511.7,872.7L511.2,873.7M421.1,864.1L426,855M423.3,844.8L426,855M437.6,874.5L439.6,872.8M513.3,949.1L506.5,946.5M507.2,925.3L503.4,933.4M512.6,969.9L496.3,953.1M509,902.9L526.8,908.7M540.1,890.3L536,893.5M499.5,915.5L507.2,925.3M542.6,917.5L531.7,905.7M283.4,951.5L286.8,954.2M279.2,930.1L285.5,928.2M311.8,989.5L286.3,984.6M311.8,989.5L300.7,966.7M353.7,952.7L345.9,950.8M337.4,908.5L327.5,910.8M375.7,925.7L365.1,929.8M357.8,999.9L343.5,984.9M357.8,999.9L365.1,969.8M366.7,1005.6L359.1,1002.5M328.5,998.4L322.5,1001.4M309.3,1003.9L314.3,998.9M314.3,998.9L322.5,1001.4M318.7,1029.4L327.6,1021.9M327.6,1021.9L332.2,1014.2M339.1,1038.4L339.7,1038M339.7,1038L346.9,1034.4M334.1,1055.3L338.5,1064.3M335.1,1071.2L338.5,1064.3M577.4,1079.5L566.4,1073M563.4,1054.6L559.3,1060.5M195.7,1047.6L222.1,1041M202.6,1053.9L217.8,1057.4M217.8,1057.4L222.1,1041M188.7,1054.1L195.6,1047.7M209.1,1072.1L202.6,1053.9M165.1,1034.2L184,1031.2M233.6,1048.1L234.5,1043.4M223.2,1040.1L222.1,1041M259.7,1058.3L259.8,1058.1M286.1,1073.1L290.9,1059.6M290.9,1059.6L290.5,1059.5M258.9,1050.2L259.8,1058.1M597.1,718.2L597.6,729.6M570.8,747.3L575.4,746M575.4,746L595.1,747.9M588.7,767.6L588.2,767.8M603.2,771.1L588.7,767.6M339.4,660.2L353.7,666.8M349.6,642.4L350.6,642.3M382.4,656.9L380.4,658.5M294.8,675.4L284,671.3M310.7,657.8L304.5,670.5M280.8,616.6L286.4,601.3M271.3,642.3L274.5,648.9M165.5,990.1L157,986.1M128.8,1006.1L140.2,999.8M283.8,987.1L282.1,1003.4M279.4,1005.5L282.1,1003.4M286.3,984.6L283.8,987.1M260.1,974.5L257.4,976.9M294,884.1L299.4,886.6M299.3,910.6L300.8,913M303.3,896.4L314.4,896.8M287.9,905.7L299.3,910.6M299.4,886.6L303.3,896.4M306.1,924.9L301.9,935.2M313.4,881.3L314.4,896.8M240.2,944.3L240.6,932.1M374.7,819.4L386.3,803.3M364.9,825.7L366,822.3M414.2,806.3L399,796M399,796L387.7,793.9M418.3,782.3L414.3,782.2M175.7,719.4L187.5,703.8M112.9,677.3L114.7,674.3M195.5,783.8L205.3,776M199.5,757.5L205.3,776M141.8,680.4L143.7,665.3M156.2,670.3L156.3,689.2M156.3,689.2L171.8,689.6M151.5,725.3L151.3,710M133.9,723.5L127.4,713.6M172,720.3L166.1,708.2M166.1,708.2L151.3,710M171.8,689.6L166.1,708.2M332.5,811.7L324.4,801.4M229.5,803.1L242.1,779.9M252.1,788.1L253.4,806.2M359.1,748L372,745.8M372,745.8L379.5,731.4M450.2,685.1L438.8,694.9M440.2,670L426.5,679.5M411.4,673.2L411.5,658.2M395.6,653.6L387,657.2M401.6,695.9L416.7,697.9M416.7,697.9L426.1,687.8M437.3,661L411.5,658.2M437.3,661L440.2,670M508.5,720.5L524.7,728.1M543.9,704.7L531,708.4M524.9,689.4L523.9,701.7M531,708.4L523.9,701.7M493.1,689.9L499.2,693M493.1,689.9L481,697.4M505.3,709.6L486.4,715.2M475.8,706L486.4,715.2M218.9,580.8L217.9,571.9M223.5,585.8L218.9,580.8M205.4,598.4L207.1,589.7M239.9,574.6L244.7,566M201.1,601.2L199.4,617.4M201.1,601.2L185.3,591.5M177,601.9L182,617.4M199.4,617.4L191.3,619.8M191.3,619.8L182,617.4M208.1,626.1L199.4,617.4M182.8,585.4L185.3,591.5M109.3,662.8L114.7,674M109.3,662.8L110.7,642.5M114.7,674.3L114.7,674M105.7,636.3L109.7,638.5M109.7,638.5L110.7,642.5M150.7,645.7L137.9,639M137.9,639L131.4,644M131.4,644L132.7,659.5M109.7,638.5L114.8,637.5M480,931.1L484.6,938.7M484.6,938.7L484.2,954.7M484.2,954.7L481.2,958.6M448.6,937.8L460.6,941M470.3,966.5L478.3,959.5M300.7,966.7L311.5,961.6M534,1079.6L524.3,1067.8M523.4,1065.4L541.1,1059.2M559.3,1060.5L547.3,1065.7M185,951.1L188.1,951.1M194.8,964.5L188.1,951.1M190.2,1007.7L210.7,1004.4M195.3,1021.4L208.5,1024.7M210.7,1004.4L213.6,1005.6M213.6,1005.6L215.7,1020.2M195.1,1043.7L208.5,1024.7M186.6,1032.8L195.3,1021.4M229.1,983.6L213.3,976M229.5,994.1L213.6,1005.6M213.3,976L200.9,985.9M183.1,999.5L167.9,996.8M188.1,1007.3L181.5,1016M167.9,996.8L158.6,1011.3M159.4,1017.2L158.6,1011.3M191,982.5L189.2,978.9M190.2,1007.7L188.1,1007.3M159,1018.7L159.4,1017.2M335,588.9L340.6,588.7M335,588.9L322.6,578.6M323.8,568.9L322.6,578.6M345.4,615.4L349.7,600.3M318.4,623.6L304.8,633.2M304.8,633.2L327,644.2M317.2,610.1L318.4,623.6M324.6,657.8L310.7,657.8M339.4,660.2L327.5,660.6M183,650.6L172.2,643.6M183,650.6L192.3,648.8M184.9,632.7L170.9,640.6M170.9,640.6L172.2,643.6M165.5,660L172.2,643.6M208.1,626.1L209.1,628.7M191.3,619.8L184.9,632.7M163.6,634.9L170.9,640.6M161,623.7L182,617.4M163.6,634.9L150.7,645.7M187.5,703.8L188.4,694.9M203.1,657.8L201.4,667.6M265.9,780.2L279.7,787.3M306.2,794.2L293.3,788.1M327.6,791.1L323.9,792.2M323.9,792.2L322.7,791.3M437,740.6L430,720.4M429.5,713.3L429.6,713.3M428.8,746.3L418.6,734.4M461.2,674.2L462.1,673.4M551.2,632.5L544.1,629.4M563.9,619L556.1,606.4M556.1,606.4L543.3,620.5M563.8,569.6L561.5,580.1M327.5,660.6L327.4,670.6M376.5,671.1L370.9,679.2M370.9,679.2L374,687.8M387.3,678.9L376.2,688.1M382.4,656.9L387,657.2M380.4,658.5L376.5,671.1M367.1,696.2L374,687.8M161.4,606L160,607.8M160,607.8L138.3,592.7M140.3,586.3L138.3,592.7M161,623.7L158,620.4M177,601.9L161.4,606M118.8,590.3L130.6,600.8M130.6,600.8L138.3,592.7M124.7,606.5L130.1,602.4M130.1,602.4L146.1,620.6M127.5,626.4L138,627.7M146.1,620.6L138,627.7M130.6,600.8L130.1,602.4M158,620.4L146.1,620.6M280.8,578.8L286.4,592.4M204.9,965.7L212.9,949.7M225.1,955.9L225.1,953.4M225.1,953.4L219,949.8M213.3,976L210.9,969.8M219.2,931.3L219,949.8M241.7,648L229.8,656.8M245.1,640.3L228.1,631.9M209.1,628.7L216.4,636.3M203.1,657.8L217.8,647.4M235.1,620.2L228.1,631.9M257.5,655L251.3,656.1M245.1,640.3L250.4,636.3M264.5,659.8L274.5,648.9M224.9,690.6L241.5,675.5M218.5,712.3L209.5,702.9M218.5,712.3L227.6,709.2M208.2,697L216.8,689.9M201.4,667.6L212.3,675M246.1,676.2L241.5,675.5M350,742.9L346.2,743.7M346.2,743.7L339.2,749.3M234.8,755.5L233,730.5M212.5,750.9L215.7,732.2M233,730.5L218.3,730.9M200.5,726.1L215.7,732.2M308.9,768L311.3,767.2M280.7,754.6L280.9,756.5M379.5,731.4L390.4,729.4M376.2,688.1L396.5,699.6M401.6,695.9L399.1,698.5M383.3,785L399.1,774.1M474.1,667.6L474.5,659M511.2,678.1L495.6,668.7M490.8,673.6L495.6,668.7M435.5,596.7L431.3,598.9M425,567.5L412.9,592.3M412.9,592.3L413.9,594M412.5,638.2L391.4,619.6M416.1,636.4L420.9,630.8M391.4,619.6L411.2,612.2M411.2,612.2L422.2,621.6M420.9,630.8L422.2,621.6M439.9,652.5L416.1,636.4M407.1,651.8L412.5,638.2M431.3,598.9L429.7,613.3M415.4,595.3L411.2,612.2M429.7,613.3L447.5,624.3M530.3,610.2L543.3,620.5M529.6,604.7L550.8,598.3M533.8,570.3L534.7,580M534.7,580L539.3,583M398.8,583.7L399.8,572.9M398.8,583.7L412.9,592.3M398.8,583.7L394,586.2M394,586.2L382.8,582.3M382.8,582.3L381.8,568.6M368.2,585.7L382.8,582.3M229.6,697.1L247.3,704.3M276.7,676.1L276.6,683.8M248,677.1L250.2,683.2M264.5,659.8L264.4,670.5M284,671.3L276.7,676.1M247.3,704.3L250.2,683.2M363.7,596.3L368.2,591.1M363.7,596.3L367.4,620.8M368.2,591.1L385.6,605M385.6,605L387.3,613.7M367.4,620.8L374.4,624.5M374.4,624.5L384.7,619.7M384.7,619.7L387,618.1M349.7,600.3L363.7,596.3M368.2,585.7L368.2,591.1M413.9,594L387.3,613.7M371.8,635.9L374.4,624.5M395.6,653.6L384.7,619.7M242.7,773.7L260.7,769.9M238.4,759L238.2,762.6M241.7,778.8L242.7,773.7M456.9,647.4L466.2,635.2M447.5,624.3L456.1,620.7M510,638.3L510.6,658.5M531,647.4L531.1,637.9M530.3,610.2L517.3,624.9M544.1,629.4L531.1,637.9M517.3,624.9L519,630M501.3,660.4L495.6,668.7M526.4,600.7L529.1,587.4M534.7,580L529.1,587.4M503.8,593.9L490.5,585.2M484.6,588.9L470,581M470,581L468.2,571.7M459.8,590.1L449.7,567.6M448.9,599.7L439.1,596.3M439.1,596.3L449,567.9M470,581L459.8,590.1M435.5,596.7L439.1,596.3M311.4,707.2L311.6,706.6M299.4,692.4L285.8,697.5M299.4,692.4L304.7,693.9M332.8,700.5L311.6,706.6M329.6,725.2L311.4,707.2M294.8,675.4L299.4,692.4M316.8,764.8L315,744.4M303.2,719.1L303.1,719.5M268,730.7L252,737.4M268,730.7L271.2,750.2M252,737.4L254.6,750.9M254.5,751.1L254.6,750.9M280.7,754.6L271.2,750.2M276.3,708.8L264.2,710.7M456.6,619L473.5,610M473.5,610L475.1,600.2M484.6,588.9L481.2,595.1M475.1,600.2L481.2,595.1M493.2,609.6L492.7,620.7M474.5,659L478.8,648.6M488.8,621.6L472.1,636.4M473.5,610L488.8,621.6M510,638.3L496.7,636.8M493.1,649.1L495.3,639.8M478.8,648.6L472.2,636.5" fill="none" stroke="#f2f2f2" stroke-width="1.1" opacity="0.55" stroke-linecap="round"/></g>
<rect x="60" y="579.5" width="565" height="489" filter="url(#noiseD)" opacity="0.15"/>
<polygon points="60,579.5 125,579.5 123,597 103,610 85,617 73,621 60,634" fill="#2a2a2a"/>
</g>
<rect x="498" y="1044" width="112" height="11.3" fill="#fff"/>
<text x="498.5" y="1033.3" font-family='"Liberation Sans", Arial, sans-serif' font-size="34.9" fill="#fff">200 µm</text>
<g clip-path="url(#clipC)">
<polyline fill="none" stroke="#000" stroke-width="1.6" points="1458.9,407.6 1469.3,392.7 1479.7,392.7 1492.4,380.1 1501.3,371.9 1508,363.8 1516.9,359.3 1528.1,346.7 1539.2,339.2 1548.1,332.5 1557.1,318.4 1566.7,316.2 1576.4,305 1585.3,298.3 1593.5,284.2 1603.2,272.3 1611.3,261.9 1622.1,239.7 1627.4,248.1 1636.8,229.2 1647.3,214.5 1654.7,211.3 1663.1,214.5 1672.5,194.5 1683,183 1694.6,172.5 1704,169.3 1712.4,156.7 1719.8,158.8 1729.2,145.2 1738.7,135.7 1748.2,132.6 1757.6,129.4 1767.1,127.3 1775.5,125.2 1783.9,127.3 1792.3,125.2 1802.1,128.2 1810.5,125 1821,116.6 1831.5,120.8 1843,117.7 1852.5,124 1860.9,114.5 1870.3,124 1879.8,117.7 1888.2,117.7 1896.6,119.8 1905,120.8 1914.4,117.7 1923.9,116.6 1933.3,116.6 1940.7,118.7 1956.4,114.5 1965.9,105.1 1974.3,103 1986.9,111.4 1996.3,99.8 2004.7,99.8 2013.1,98.8 2018.4,105.1"/>
<rect x="1454.2" y="402.9" width="9.4" height="9.4" fill="#000"/>
<rect x="1464.6" y="388" width="9.4" height="9.4" fill="#000"/>
<rect x="1475" y="388" width="9.4" height="9.4" fill="#000"/>
<rect x="1487.7" y="375.4" width="9.4" height="9.4" fill="#000"/>
<rect x="1496.6" y="367.2" width="9.4" height="9.4" fill="#000"/>
<rect x="1503.3" y="359.1" width="9.4" height="9.4" fill="#000"/>
<rect x="1512.2" y="354.6" width="9.4" height="9.4" fill="#000"/>
<rect x="1523.4" y="342" width="9.4" height="9.4" fill="#000"/>
<rect x="1534.5" y="334.5" width="9.4" height="9.4" fill="#000"/>
<rect x="1543.4" y="327.8" width="9.4" height="9.4" fill="#000"/>
<rect x="1552.4" y="313.7" width="9.4" height="9.4" fill="#000"/>
<rect x="1562" y="311.5" width="9.4" height="9.4" fill="#000"/>
<rect x="1571.7" y="300.3" width="9.4" height="9.4" fill="#000"/>
<rect x="1580.6" y="293.6" width="9.4" height="9.4" fill="#000"/>
<rect x="1588.8" y="279.5" width="9.4" height="9.4" fill="#000"/>
<rect x="1598.5" y="267.6" width="9.4" height="9.4" fill="#000"/>
<rect x="1606.6" y="257.2" width="9.4" height="9.4" fill="#000"/>
<rect x="1617.4" y="235" width="9.4" height="9.4" fill="#000"/>
<rect x="1622.7" y="243.4" width="9.4" height="9.4" fill="#000"/>
<rect x="1632.1" y="224.5" width="9.4" height="9.4" fill="#000"/>
<rect x="1642.6" y="209.8" width="9.4" height="9.4" fill="#000"/>
<rect x="1650" y="206.6" width="9.4" height="9.4" fill="#000"/>
<rect x="1658.4" y="209.8" width="9.4" height="9.4" fill="#000"/>
<rect x="1667.8" y="189.8" width="9.4" height="9.4" fill="#000"/>
<rect x="1678.3" y="178.3" width="9.4" height="9.4" fill="#000"/>
<rect x="1689.9" y="167.8" width="9.4" height="9.4" fill="#000"/>
<rect x="1699.3" y="164.6" width="9.4" height="9.4" fill="#000"/>
<rect x="1707.7" y="152" width="9.4" height="9.4" fill="#000"/>
<rect x="1715.1" y="154.1" width="9.4" height="9.4" fill="#000"/>
<rect x="1724.5" y="140.5" width="9.4" height="9.4" fill="#000"/>
<rect x="1734" y="131" width="9.4" height="9.4" fill="#000"/>
<rect x="1743.5" y="127.9" width="9.4" height="9.4" fill="#000"/>
<rect x="1752.9" y="124.7" width="9.4" height="9.4" fill="#000"/>
<rect x="1762.4" y="122.6" width="9.4" height="9.4" fill="#000"/>
<rect x="1770.8" y="120.5" width="9.4" height="9.4" fill="#000"/>
<rect x="1779.2" y="122.6" width="9.4" height="9.4" fill="#000"/>
<rect x="1787.6" y="120.5" width="9.4" height="9.4" fill="#000"/>
<rect x="1797.4" y="123.5" width="9.4" height="9.4" fill="#000"/>
<rect x="1805.8" y="120.3" width="9.4" height="9.4" fill="#000"/>
<rect x="1816.3" y="111.9" width="9.4" height="9.4" fill="#000"/>
<rect x="1826.8" y="116.1" width="9.4" height="9.4" fill="#000"/>
<rect x="1838.3" y="113" width="9.4" height="9.4" fill="#000"/>
<rect x="1847.8" y="119.3" width="9.4" height="9.4" fill="#000"/>
<rect x="1856.2" y="109.8" width="9.4" height="9.4" fill="#000"/>
<rect x="1865.6" y="119.3" width="9.4" height="9.4" fill="#000"/>
<rect x="1875.1" y="113" width="9.4" height="9.4" fill="#000"/>
<rect x="1883.5" y="113" width="9.4" height="9.4" fill="#000"/>
<rect x="1891.9" y="115.1" width="9.4" height="9.4" fill="#000"/>
<rect x="1900.3" y="116.1" width="9.4" height="9.4" fill="#000"/>
<rect x="1909.7" y="113" width="9.4" height="9.4" fill="#000"/>
<rect x="1919.2" y="111.9" width="9.4" height="9.4" fill="#000"/>
<rect x="1928.6" y="111.9" width="9.4" height="9.4" fill="#000"/>
<rect x="1936" y="114" width="9.4" height="9.4" fill="#000"/>
<rect x="1951.7" y="109.8" width="9.4" height="9.4" fill="#000"/>
<rect x="1961.2" y="100.4" width="9.4" height="9.4" fill="#000"/>
<rect x="1969.6" y="98.3" width="9.4" height="9.4" fill="#000"/>
<rect x="1982.2" y="106.7" width="9.4" height="9.4" fill="#000"/>
<rect x="1991.6" y="95.1" width="9.4" height="9.4" fill="#000"/>
<rect x="2000" y="95.1" width="9.4" height="9.4" fill="#000"/>
<rect x="2008.4" y="94.1" width="9.4" height="9.4" fill="#000"/>
<rect x="2013.7" y="100.4" width="9.4" height="9.4" fill="#000"/>
<polyline fill="none" stroke="#f00" stroke-width="1.6" points="1458,377.9 1464.9,377.1 1473.8,369.7 1483.5,376.4 1490.9,370.4 1498.3,366.7 1508,368.2 1517.7,361.5 1526.6,368.2 1537.7,362.3 1547.4,355.6 1556.3,362.3 1566,351.9 1574.9,348.9 1583.1,355.6 1592,348.1 1600.2,342.2 1607.6,339.2 1617.3,325.8 1626.2,325.1 1635.8,331.1 1645.2,323.7 1652.6,317.4 1662,299.6 1671.5,278.6 1682,268.1 1693.5,251.3 1703,230.3 1712.4,221.8 1719.8,209.2 1727.1,197.7 1736.6,184 1746,178.8 1756.6,158.8 1766,155.7 1775.5,154.6 1784.9,146.2 1793.3,141 1801.7,138.9 1810.5,140.8 1821,133.4 1831.5,126.1 1842,125 1851.4,120.8 1859,117 1867.2,112.4 1876.6,115.6 1886.1,120.8 1895.5,117.7 1902.9,112.4 1912.3,110.3 1920.7,113.5 1929.1,108.2 1938.6,108.2 1945.9,109.3 1954.3,104 1963.8,99.8 1974.3,96.7 1984.8,88.3 1994.2,85.1 2003.7,80.9 2013.1,80.9 2018.4,83"/>
<circle cx="1458" cy="377.9" r="5.3" fill="#f00"/>
<circle cx="1464.9" cy="377.1" r="5.3" fill="#f00"/>
<circle cx="1473.8" cy="369.7" r="5.3" fill="#f00"/>
<circle cx="1483.5" cy="376.4" r="5.3" fill="#f00"/>
<circle cx="1490.9" cy="370.4" r="5.3" fill="#f00"/>
<circle cx="1498.3" cy="366.7" r="5.3" fill="#f00"/>
<circle cx="1508" cy="368.2" r="5.3" fill="#f00"/>
<circle cx="1517.7" cy="361.5" r="5.3" fill="#f00"/>
<circle cx="1526.6" cy="368.2" r="5.3" fill="#f00"/>
<circle cx="1537.7" cy="362.3" r="5.3" fill="#f00"/>
<circle cx="1547.4" cy="355.6" r="5.3" fill="#f00"/>
<circle cx="1556.3" cy="362.3" r="5.3" fill="#f00"/>
<circle cx="1566" cy="351.9" r="5.3" fill="#f00"/>
<circle cx="1574.9" cy="348.9" r="5.3" fill="#f00"/>
<circle cx="1583.1" cy="355.6" r="5.3" fill="#f00"/>
<circle cx="1592" cy="348.1" r="5.3" fill="#f00"/>
<circle cx="1600.2" cy="342.2" r="5.3" fill="#f00"/>
<circle cx="1607.6" cy="339.2" r="5.3" fill="#f00"/>
<circle cx="1617.3" cy="325.8" r="5.3" fill="#f00"/>
<circle cx="1626.2" cy="325.1" r="5.3" fill="#f00"/>
<circle cx="1635.8" cy="331.1" r="5.3" fill="#f00"/>
<circle cx="1645.2" cy="323.7" r="5.3" fill="#f00"/>
<circle cx="1652.6" cy="317.4" r="5.3" fill="#f00"/>
<circle cx="1662" cy="299.6" r="5.3" fill="#f00"/>
<circle cx="1671.5" cy="278.6" r="5.3" fill="#f00"/>
<circle cx="1682" cy="268.1" r="5.3" fill="#f00"/>
<circle cx="1693.5" cy="251.3" r="5.3" fill="#f00"/>
<circle cx="1703" cy="230.3" r="5.3" fill="#f00"/>
<circle cx="1712.4" cy="221.8" r="5.3" fill="#f00"/>
<circle cx="1719.8" cy="209.2" r="5.3" fill="#f00"/>
<circle cx="1727.1" cy="197.7" r="5.3" fill="#f00"/>
<circle cx="1736.6" cy="184" r="5.3" fill="#f00"/>
<circle cx="1746" cy="178.8" r="5.3" fill="#f00"/>
<circle cx="1756.6" cy="158.8" r="5.3" fill="#f00"/>
<circle cx="1766" cy="155.7" r="5.3" fill="#f00"/>
<circle cx="1775.5" cy="154.6" r="5.3" fill="#f00"/>
<circle cx="1784.9" cy="146.2" r="5.3" fill="#f00"/>
<circle cx="1793.3" cy="141" r="5.3" fill="#f00"/>
<circle cx="1801.7" cy="138.9" r="5.3" fill="#f00"/>
<circle cx="1810.5" cy="140.8" r="5.3" fill="#f00"/>
<circle cx="1821" cy="133.4" r="5.3" fill="#f00"/>
<circle cx="1831.5" cy="126.1" r="5.3" fill="#f00"/>
<circle cx="1842" cy="125" r="5.3" fill="#f00"/>
<circle cx="1851.4" cy="120.8" r="5.3" fill="#f00"/>
<circle cx="1859" cy="117" r="5.3" fill="#f00"/>
<circle cx="1867.2" cy="112.4" r="5.3" fill="#f00"/>
<circle cx="1876.6" cy="115.6" r="5.3" fill="#f00"/>
<circle cx="1886.1" cy="120.8" r="5.3" fill="#f00"/>
<circle cx="1895.5" cy="117.7" r="5.3" fill="#f00"/>
<circle cx="1902.9" cy="112.4" r="5.3" fill="#f00"/>
<circle cx="1912.3" cy="110.3" r="5.3" fill="#f00"/>
<circle cx="1920.7" cy="113.5" r="5.3" fill="#f00"/>
<circle cx="1929.1" cy="108.2" r="5.3" fill="#f00"/>
<circle cx="1938.6" cy="108.2" r="5.3" fill="#f00"/>
<circle cx="1945.9" cy="109.3" r="5.3" fill="#f00"/>
<circle cx="1954.3" cy="104" r="5.3" fill="#f00"/>
<circle cx="1963.8" cy="99.8" r="5.3" fill="#f00"/>
<circle cx="1974.3" cy="96.7" r="5.3" fill="#f00"/>
<circle cx="1984.8" cy="88.3" r="5.3" fill="#f00"/>
<circle cx="1994.2" cy="85.1" r="5.3" fill="#f00"/>
<circle cx="2003.7" cy="80.9" r="5.3" fill="#f00"/>
<circle cx="2013.1" cy="80.9" r="5.3" fill="#f00"/>
<circle cx="2018.4" cy="83" r="5.3" fill="#f00"/>
</g>
<rect x="1456.5" y="17" width="564.5" height="444" fill="none" stroke="#333" stroke-width="2"/>
<line x1="1451.5" y1="443.4" x2="1456.5" y2="443.4" stroke="#333" stroke-width="1.8"/>
<line x1="1447.5" y1="357" x2="1456.5" y2="357" stroke="#333" stroke-width="1.8"/>
<line x1="1451.5" y1="270.7" x2="1456.5" y2="270.7" stroke="#333" stroke-width="1.8"/>
<line x1="1447.5" y1="184.3" x2="1456.5" y2="184.3" stroke="#333" stroke-width="1.8"/>
<line x1="1451.5" y1="97.9" x2="1456.5" y2="97.9" stroke="#333" stroke-width="1.8"/>
<line x1="1551.2" y1="461" x2="1551.2" y2="470" stroke="#333" stroke-width="1.8"/>
<line x1="1646.1" y1="461" x2="1646.1" y2="466" stroke="#333" stroke-width="1.8"/>
<line x1="1741" y1="461" x2="1741" y2="470" stroke="#333" stroke-width="1.8"/>
<line x1="1835.8" y1="461" x2="1835.8" y2="466" stroke="#333" stroke-width="1.8"/>
<line x1="1930.7" y1="461" x2="1930.7" y2="470" stroke="#333" stroke-width="1.8"/>
<line x1="1477" y1="17" x2="1477" y2="21" stroke="#333" stroke-width="1.8"/>
<line x1="1614.2" y1="17" x2="1614.2" y2="26" stroke="#333" stroke-width="1.8"/>
<line x1="1751" y1="17" x2="1751" y2="21" stroke="#333" stroke-width="1.8"/>
<line x1="1888.8" y1="17" x2="1888.8" y2="26" stroke="#333" stroke-width="1.8"/>
<line x1="2012" y1="206.8" x2="2021" y2="206.8" stroke="#333" stroke-width="1.8"/>
<line x1="2016" y1="336.8" x2="2021" y2="336.8" stroke="#333" stroke-width="1.8"/>
<g font-family='"Liberation Sans", Arial, sans-serif' font-weight="bold" font-size="23.5" fill="#111">
<text x="1442" y="365.2" text-anchor="end">0.2</text>
<text x="1442" y="192.5" text-anchor="end">0.4</text>
<text x="1552.2" y="497.3" text-anchor="middle">0.2</text>
<text x="1742" y="497.3" text-anchor="middle">0.4</text>
<text x="1931.7" y="497.3" text-anchor="middle">0.6</text>
</g>
<text x="1596.5" y="529.5" font-family='"Liberation Sans", Arial, sans-serif' font-size="30" fill="#111">Displacement (mm)</text>
<text transform="translate(1390.5,343) rotate(-90)" x="0" y="0" font-family='"Liberation Sans", Arial, sans-serif' font-size="28.9" fill="#111">Force (N/Needle)</text>
<text x="1474.5" y="74.6" font-family='"Liberation Sans", Arial, sans-serif' font-weight="bold" font-size="29" fill="#000">Non-Sterilized MN</text>
<text x="1760" y="244.6" font-family='"Liberation Sans", Arial, sans-serif' font-weight="bold" font-size="29" fill="#f00">Sterilized MN</text>
<line x1="1734.8" y1="131.3" x2="1687" y2="88.5" stroke="#777" stroke-width="1.3"/>
<polygon points="1679.7,81.7 1691.8,87.2 1686.6,92.6" fill="#000"/>
<line x1="1767" y1="166.2" x2="1807" y2="204.5" stroke="#f44" stroke-width="1.3"/>
<polygon points="1812.2,209.2 1800.6,203.6 1805.8,198.4" fill="#f00"/>
<g stroke="#6a6a6a" stroke-width="1.5" fill="none">
<line x1="767.3" y1="919.1" x2="767.3" y2="975.9"/>
<line x1="762.3" y1="919.1" x2="772.3" y2="919.1"/>
<line x1="762.3" y1="975.9" x2="772.3" y2="975.9"/>
<line x1="777.3" y1="852.6" x2="777.3" y2="984.6"/>
<line x1="772.3" y1="852.6" x2="782.3" y2="852.6"/>
<line x1="772.3" y1="984.6" x2="782.3" y2="984.6"/>
<line x1="793.9" y1="849.9" x2="793.9" y2="933.1"/>
<line x1="788.9" y1="849.9" x2="798.9" y2="849.9"/>
<line x1="788.9" y1="933.1" x2="798.9" y2="933.1"/>
<line x1="827.2" y1="791" x2="827.2" y2="897.7"/>
<line x1="822.2" y1="791" x2="832.2" y2="791"/>
<line x1="822.2" y1="897.7" x2="832.2" y2="897.7"/>
<line x1="860.5" y1="761.7" x2="860.5" y2="891.5"/>
<line x1="855.5" y1="761.7" x2="865.5" y2="761.7"/>
<line x1="855.5" y1="891.5" x2="865.5" y2="891.5"/>
<line x1="893.9" y1="761.7" x2="893.9" y2="844.2"/>
<line x1="888.9" y1="761.7" x2="898.9" y2="761.7"/>
<line x1="888.9" y1="844.2" x2="898.9" y2="844.2"/>
<line x1="927.2" y1="756.1" x2="927.2" y2="811"/>
<line x1="922.2" y1="756.1" x2="932.2" y2="756.1"/>
<line x1="922.2" y1="811" x2="932.2" y2="811"/>
<line x1="960.5" y1="716.2" x2="960.5" y2="823.5"/>
<line x1="955.5" y1="716.2" x2="965.5" y2="716.2"/>
<line x1="955.5" y1="823.5" x2="965.5" y2="823.5"/>
<line x1="993.8" y1="733.6" x2="993.8" y2="776.1"/>
<line x1="988.8" y1="733.6" x2="998.8" y2="733.6"/>
<line x1="988.8" y1="776.1" x2="998.8" y2="776.1"/>
<line x1="1027.1" y1="713.7" x2="1027.1" y2="772.3"/>
<line x1="1022.1" y1="713.7" x2="1032.1" y2="713.7"/>
<line x1="1022.1" y1="772.3" x2="1032.1" y2="772.3"/>
<line x1="1060.4" y1="708.7" x2="1060.4" y2="741.1"/>
<line x1="1055.4" y1="708.7" x2="1065.4" y2="708.7"/>
<line x1="1055.4" y1="741.1" x2="1065.4" y2="741.1"/>
<line x1="1093.8" y1="691.2" x2="1093.8" y2="726.1"/>
<line x1="1088.8" y1="691.2" x2="1098.8" y2="691.2"/>
<line x1="1088.8" y1="726.1" x2="1098.8" y2="726.1"/>
<line x1="1127.1" y1="666.2" x2="1127.1" y2="714.9"/>
<line x1="1122.1" y1="666.2" x2="1132.1" y2="666.2"/>
<line x1="1122.1" y1="714.9" x2="1132.1" y2="714.9"/>
<line x1="1160.4" y1="641.9" x2="1160.4" y2="716.2"/>
<line x1="1155.4" y1="641.9" x2="1165.4" y2="641.9"/>
<line x1="1155.4" y1="716.2" x2="1165.4" y2="716.2"/>
<line x1="1193.7" y1="656.9" x2="1193.7" y2="683.7"/>
<line x1="1188.7" y1="656.9" x2="1198.7" y2="656.9"/>
<line x1="1188.7" y1="683.7" x2="1198.7" y2="683.7"/>
<line x1="1227" y1="650.6" x2="1227" y2="687.5"/>
<line x1="1222" y1="650.6" x2="1232" y2="650.6"/>
<line x1="1222" y1="687.5" x2="1232" y2="687.5"/>
<line x1="1260.3" y1="648.8" x2="1260.3" y2="686.2"/>
<line x1="1255.3" y1="648.8" x2="1265.3" y2="648.8"/>
<line x1="1255.3" y1="686.2" x2="1265.3" y2="686.2"/>
<line x1="1293.6" y1="636.3" x2="1293.6" y2="697.4"/>
<line x1="1288.6" y1="636.3" x2="1298.6" y2="636.3"/>
<line x1="1288.6" y1="697.4" x2="1298.6" y2="697.4"/>
</g>
<path fill="none" stroke="#000" stroke-width="2.7" d="M761.2,1026.4L766.7,955M769.9,939.5L774.6,925.9M781.5,911.5L789.7,898.3M798.5,885L822.6,850.7M834.3,840.5L853.5,830.3M867,821.9L887.4,807.3M900.8,798.7L920.2,787.5M934.6,780.5L953.1,773M967.8,766.7L986.5,758.3M1001.3,752.2L1019.6,745.3M1034.2,738.8L1053.4,728.6M1067.6,721.4L1086.5,712.3M1100.7,704.9L1120.1,694M1134.6,687.4L1152.8,680.9M1168.1,676.3L1185.9,671.9M1201.7,669.7L1219,669.1M1235,668.7L1252.3,668.5M1268.3,668L1285.6,667.2"/>
<rect x="754.8" y="1028.6" width="11.6" height="11.6" fill="#000"/>
<rect x="761.5" y="941.2" width="11.6" height="11.6" fill="#000"/>
<rect x="771.5" y="912.5" width="11.6" height="11.6" fill="#000"/>
<rect x="788.1" y="885.7" width="11.6" height="11.6" fill="#000"/>
<rect x="821.4" y="838.4" width="11.6" height="11.6" fill="#000"/>
<rect x="854.7" y="820.8" width="11.6" height="11.6" fill="#000"/>
<rect x="888.1" y="796.8" width="11.6" height="11.6" fill="#000"/>
<rect x="921.4" y="777.8" width="11.6" height="11.6" fill="#000"/>
<rect x="954.7" y="764.1" width="11.6" height="11.6" fill="#000"/>
<rect x="988" y="749.2" width="11.6" height="11.6" fill="#000"/>
<rect x="1021.3" y="736.7" width="11.6" height="11.6" fill="#000"/>
<rect x="1054.6" y="719.1" width="11.6" height="11.6" fill="#000"/>
<rect x="1088" y="703" width="11.6" height="11.6" fill="#000"/>
<rect x="1121.3" y="684.3" width="11.6" height="11.6" fill="#000"/>
<rect x="1154.6" y="672.4" width="11.6" height="11.6" fill="#000"/>
<rect x="1187.9" y="664.2" width="11.6" height="11.6" fill="#000"/>
<rect x="1221.2" y="663.1" width="11.6" height="11.6" fill="#000"/>
<rect x="1254.5" y="662.6" width="11.6" height="11.6" fill="#000"/>
<rect x="1287.8" y="661.1" width="11.6" height="11.6" fill="#000"/>
<rect x="753.5" y="586.8" width="580.8" height="458.0" fill="none" stroke="#333" stroke-width="2"/>
<line x1="743.5" y1="1034.4" x2="753.5" y2="1034.4" stroke="#333" stroke-width="1.8"/>
<line x1="748" y1="1003.2" x2="753.5" y2="1003.2" stroke="#333" stroke-width="1.8"/>
<line x1="743.5" y1="972" x2="753.5" y2="972" stroke="#333" stroke-width="1.8"/>
<line x1="748" y1="940.8" x2="753.5" y2="940.8" stroke="#333" stroke-width="1.8"/>
<line x1="743.5" y1="909.6" x2="753.5" y2="909.6" stroke="#333" stroke-width="1.8"/>
<line x1="748" y1="878.4" x2="753.5" y2="878.4" stroke="#333" stroke-width="1.8"/>
<line x1="743.5" y1="847.2" x2="753.5" y2="847.2" stroke="#333" stroke-width="1.8"/>
<line x1="748" y1="816" x2="753.5" y2="816" stroke="#333" stroke-width="1.8"/>
<line x1="743.5" y1="784.8" x2="753.5" y2="784.8" stroke="#333" stroke-width="1.8"/>
<line x1="748" y1="753.6" x2="753.5" y2="753.6" stroke="#333" stroke-width="1.8"/>
<line x1="743.5" y1="722.4" x2="753.5" y2="722.4" stroke="#333" stroke-width="1.8"/>
<line x1="748" y1="691.2" x2="753.5" y2="691.2" stroke="#333" stroke-width="1.8"/>
<line x1="743.5" y1="660" x2="753.5" y2="660" stroke="#333" stroke-width="1.8"/>
<line x1="748" y1="628.8" x2="753.5" y2="628.8" stroke="#333" stroke-width="1.8"/>
<line x1="743.5" y1="597.6" x2="753.5" y2="597.6" stroke="#333" stroke-width="1.8"/>
<line x1="760.6" y1="1044.8" x2="760.6" y2="1054.4" stroke="#333" stroke-width="1.8"/>
<line x1="793.9" y1="1044.8" x2="793.9" y2="1049.8" stroke="#333" stroke-width="1.8"/>
<line x1="827.2" y1="1044.8" x2="827.2" y2="1054.4" stroke="#333" stroke-width="1.8"/>
<line x1="860.5" y1="1044.8" x2="860.5" y2="1049.8" stroke="#333" stroke-width="1.8"/>
<line x1="893.9" y1="1044.8" x2="893.9" y2="1054.4" stroke="#333" stroke-width="1.8"/>
<line x1="927.2" y1="1044.8" x2="927.2" y2="1049.8" stroke="#333" stroke-width="1.8"/>
<line x1="960.5" y1="1044.8" x2="960.5" y2="1054.4" stroke="#333" stroke-width="1.8"/>
<line x1="993.8" y1="1044.8" x2="993.8" y2="1049.8" stroke="#333" stroke-width="1.8"/>
<line x1="1027.1" y1="1044.8" x2="1027.1" y2="1054.4" stroke="#333" stroke-width="1.8"/>
<line x1="1060.4" y1="1044.8" x2="1060.4" y2="1049.8" stroke="#333" stroke-width="1.8"/>
<line x1="1093.8" y1="1044.8" x2="1093.8" y2="1054.4" stroke="#333" stroke-width="1.8"/>
<line x1="1127.1" y1="1044.8" x2="1127.1" y2="1049.8" stroke="#333" stroke-width="1.8"/>
<line x1="1160.4" y1="1044.8" x2="1160.4" y2="1054.4" stroke="#333" stroke-width="1.8"/>
<line x1="1193.7" y1="1044.8" x2="1193.7" y2="1049.8" stroke="#333" stroke-width="1.8"/>
<line x1="1227" y1="1044.8" x2="1227" y2="1054.4" stroke="#333" stroke-width="1.8"/>
<line x1="1260.3" y1="1044.8" x2="1260.3" y2="1049.8" stroke="#333" stroke-width="1.8"/>
<line x1="1293.6" y1="1044.8" x2="1293.6" y2="1054.4" stroke="#333" stroke-width="1.8"/>
<line x1="1327" y1="1044.8" x2="1327" y2="1049.8" stroke="#333" stroke-width="1.8"/>
<line x1="810.4" y1="586.8" x2="810.4" y2="591.8" stroke="#333" stroke-width="1.8"/>
<line x1="868.6" y1="586.8" x2="868.6" y2="595.8" stroke="#333" stroke-width="1.8"/>
<line x1="926.9" y1="586.8" x2="926.9" y2="591.8" stroke="#333" stroke-width="1.8"/>
<line x1="984.8" y1="586.8" x2="984.8" y2="595.8" stroke="#333" stroke-width="1.8"/>
<line x1="1044" y1="586.8" x2="1044" y2="591.8" stroke="#333" stroke-width="1.8"/>
<line x1="1101.3" y1="586.8" x2="1101.3" y2="595.8" stroke="#333" stroke-width="1.8"/>
<line x1="1159.3" y1="586.8" x2="1159.3" y2="591.8" stroke="#333" stroke-width="1.8"/>
<line x1="1218.1" y1="586.8" x2="1218.1" y2="595.8" stroke="#333" stroke-width="1.8"/>
<line x1="1275.8" y1="586.8" x2="1275.8" y2="591.8" stroke="#333" stroke-width="1.8"/>
<line x1="1329.3" y1="633.3" x2="1334.3" y2="633.3" stroke="#333" stroke-width="1.8"/>
<line x1="1325.3" y1="678.6" x2="1334.3" y2="678.6" stroke="#333" stroke-width="1.8"/>
<line x1="1329.3" y1="723.9" x2="1334.3" y2="723.9" stroke="#333" stroke-width="1.8"/>
<line x1="1325.3" y1="769.7" x2="1334.3" y2="769.7" stroke="#333" stroke-width="1.8"/>
<line x1="1329.3" y1="815.8" x2="1334.3" y2="815.8" stroke="#333" stroke-width="1.8"/>
<line x1="1325.3" y1="861.2" x2="1334.3" y2="861.2" stroke="#333" stroke-width="1.8"/>
<line x1="1329.3" y1="906.5" x2="1334.3" y2="906.5" stroke="#333" stroke-width="1.8"/>
<line x1="1325.3" y1="952.6" x2="1334.3" y2="952.6" stroke="#333" stroke-width="1.8"/>
<line x1="1329.3" y1="998.4" x2="1334.3" y2="998.4" stroke="#333" stroke-width="1.8"/>
<g font-family='"Liberation Sans", Arial, sans-serif' font-size="26.8" fill="#111">
<text x="736.3" y="1044" text-anchor="end">0</text>
<text x="736.3" y="981.6" text-anchor="end">5</text>
<text x="736.3" y="919.2" text-anchor="end">10</text>
<text x="736.3" y="856.8" text-anchor="end">15</text>
<text x="736.3" y="794.4" text-anchor="end">20</text>
<text x="736.3" y="732" text-anchor="end">25</text>
<text x="736.3" y="669.6" text-anchor="end">30</text>
<text x="736.3" y="607.2" text-anchor="end">35</text>
<text x="760.6" y="1082" text-anchor="middle">0</text>
<text x="827.2" y="1082" text-anchor="middle">10</text>
<text x="893.9" y="1082" text-anchor="middle">20</text>
<text x="960.5" y="1082" text-anchor="middle">30</text>
<text x="1027.1" y="1082" text-anchor="middle">40</text>
<text x="1093.8" y="1082" text-anchor="middle">50</text>
<text x="1160.4" y="1082" text-anchor="middle">60</text>
<text x="1227" y="1082" text-anchor="middle">70</text>
<text x="1293.6" y="1082" text-anchor="middle">80</text>
</g>
<text x="969" y="1128.8" font-family='"Liberation Sans", Arial, sans-serif' font-size="31.3" fill="#111">Time (min)</text>
<text transform="translate(696,909) rotate(-90)" font-family='"Liberation Sans", Arial, sans-serif' font-size="30.9" fill="#111">Swelling ratio</text>
<path d="M788,633.7H806.3M823,633.7H840.4" stroke="#000" stroke-width="2.8"/>
<rect x="808.8" y="627.9" width="11.6" height="11.6" fill="#000"/>
<text x="847.5" y="642.6" font-family='"Liberation Sans", Arial, sans-serif' font-size="30.6" fill="#111">Swelling ratio</text>
<g clip-path="url(#clipF)">
<polygon fill="#000" points="1474,1025 1475.5,1008 1478,994 1481.5,982 1486,972 1491,965 1496.7,959.5 1508,946 1521.2,931.8 1533,918 1545.7,904.9 1558,893 1570.2,880.9 1582,864 1594.7,848.6 1607,838 1619.2,829 1631,822 1643.7,814.3 1656,803 1668.2,794.7 1680,787 1692.7,779 1702,770 1711.5,762.8 1727,753 1743,743.9 1758,736 1774.5,728.2 1790,723 1806,718.7 1822,711 1837.5,704.6 1856.4,696.7 1870,690 1881.5,688.3 1897,686 1913,684.1 1929,681 1944.5,679.4 1960,677.5 1976,677.2 1990,678 2001.2,679.4 2010,681 2017,684.1 2021,690 2023,705 2023.5,718 2023.5,718 2021,713 2018,702 2012,698.5 2001.2,696.7 1990,694.5 1976,693.6 1960,694.5 1944.5,696.7 1929,700 1913,703 1897,705.5 1881.5,707.7 1870,710 1856.4,714 1846,719 1837.5,723.5 1822,729 1806,736.1 1790,742 1774.5,748.7 1758,756 1743,764.4 1727,774 1711.5,784.9 1702,789 1692.7,794.7 1680,803 1668.2,811.8 1656,821 1643.7,831.4 1631,841 1619.2,851 1607,860 1594.7,870.6 1582,887 1570.2,902.5 1558,913 1545.7,924.5 1533,938 1521.2,951.4 1508,966 1496.7,980.8 1492,990 1489,1002 1487,1015 1486,1030 1485.5,1038 1475,1038 1474,1030"/>
<g fill="#000"><rect x="1483.5" y="967.4" width="9.6" height="9.6"/><rect x="1483.2" y="1000.2" width="9.6" height="9.6"/><rect x="1486.9" y="964.8" width="9.6" height="9.6"/><rect x="1486.9" y="983.5" width="9.6" height="9.6"/><rect x="1490.7" y="958.4" width="9.6" height="9.6"/><rect x="1489.7" y="974" width="9.6" height="9.6"/><rect x="1495" y="953.1" width="9.6" height="9.6"/><rect x="1496.9" y="965.5" width="9.6" height="9.6"/><rect x="1500.2" y="949.2" width="9.6" height="9.6"/><rect x="1500.8" y="960.1" width="9.6" height="9.6"/><rect x="1505.4" y="941.4" width="9.6" height="9.6"/><rect x="1505" y="955.9" width="9.6" height="9.6"/><rect x="1511" y="935.6" width="9.6" height="9.6"/><rect x="1511.2" y="949.8" width="9.6" height="9.6"/><rect x="1514.2" y="932.5" width="9.6" height="9.6"/><rect x="1515.9" y="942.7" width="9.6" height="9.6"/><rect x="1519.8" y="929.4" width="9.6" height="9.6"/><rect x="1519.6" y="938.6" width="9.6" height="9.6"/><rect x="1524.6" y="923.1" width="9.6" height="9.6"/><rect x="1523.3" y="934" width="9.6" height="9.6"/><rect x="1529.4" y="918.2" width="9.6" height="9.6"/><rect x="1529.3" y="927.6" width="9.6" height="9.6"/><rect x="1532.5" y="912.2" width="9.6" height="9.6"/><rect x="1533.7" y="924" width="9.6" height="9.6"/><rect x="1537.4" y="906.7" width="9.6" height="9.6"/><rect x="1537.9" y="918.3" width="9.6" height="9.6"/><rect x="1541.9" y="903.8" width="9.6" height="9.6"/><rect x="1540.8" y="915.2" width="9.6" height="9.6"/><rect x="1545.6" y="899.3" width="9.6" height="9.6"/><rect x="1545.6" y="911" width="9.6" height="9.6"/><rect x="1550.5" y="896.8" width="9.6" height="9.6"/><rect x="1549.9" y="906.2" width="9.6" height="9.6"/><rect x="1554.1" y="890.5" width="9.6" height="9.6"/><rect x="1553.3" y="904.8" width="9.6" height="9.6"/><rect x="1559.5" y="887.6" width="9.6" height="9.6"/><rect x="1558.4" y="900.8" width="9.6" height="9.6"/><rect x="1565.4" y="882.8" width="9.6" height="9.6"/><rect x="1564.6" y="894.5" width="9.6" height="9.6"/><rect x="1568.1" y="874.6" width="9.6" height="9.6"/><rect x="1567.9" y="890.5" width="9.6" height="9.6"/><rect x="1574.8" y="868.8" width="9.6" height="9.6"/><rect x="1573.2" y="882" width="9.6" height="9.6"/><rect x="1577.3" y="861.8" width="9.6" height="9.6"/><rect x="1577.1" y="876.8" width="9.6" height="9.6"/><rect x="1582.4" y="859.1" width="9.6" height="9.6"/><rect x="1581.9" y="873.6" width="9.6" height="9.6"/><rect x="1586.1" y="854.8" width="9.6" height="9.6"/><rect x="1584.7" y="867.1" width="9.6" height="9.6"/><rect x="1590.1" y="849.9" width="9.6" height="9.6"/><rect x="1589.5" y="863.4" width="9.6" height="9.6"/><rect x="1593.2" y="845.1" width="9.6" height="9.6"/><rect x="1593.7" y="859.7" width="9.6" height="9.6"/><rect x="1597.8" y="842.5" width="9.6" height="9.6"/><rect x="1598.3" y="853.3" width="9.6" height="9.6"/><rect x="1601.2" y="839.2" width="9.6" height="9.6"/><rect x="1600.7" y="853" width="9.6" height="9.6"/><rect x="1605.1" y="835.5" width="9.6" height="9.6"/><rect x="1603.5" y="851.1" width="9.6" height="9.6"/><rect x="1607.5" y="832" width="9.6" height="9.6"/><rect x="1606.8" y="845.3" width="9.6" height="9.6"/><rect x="1613.2" y="829.9" width="9.6" height="9.6"/><rect x="1612.8" y="841.6" width="9.6" height="9.6"/><rect x="1617" y="825.5" width="9.6" height="9.6"/><rect x="1617.4" y="838.1" width="9.6" height="9.6"/><rect x="1623.2" y="823.6" width="9.6" height="9.6"/><rect x="1623.5" y="833.3" width="9.6" height="9.6"/><rect x="1628" y="821.3" width="9.6" height="9.6"/><rect x="1627.2" y="828.8" width="9.6" height="9.6"/><rect x="1632.9" y="815.9" width="9.6" height="9.6"/><rect x="1633.8" y="827.3" width="9.6" height="9.6"/><rect x="1636.9" y="813" width="9.6" height="9.6"/><rect x="1638.1" y="823.2" width="9.6" height="9.6"/><rect x="1642.1" y="811.6" width="9.6" height="9.6"/><rect x="1640.4" y="820.6" width="9.6" height="9.6"/><rect x="1646.9" y="807.2" width="9.6" height="9.6"/><rect x="1645.6" y="817.2" width="9.6" height="9.6"/><rect x="1650.2" y="802.6" width="9.6" height="9.6"/><rect x="1651.7" y="812.3" width="9.6" height="9.6"/><rect x="1658" y="797.9" width="9.6" height="9.6"/><rect x="1656.3" y="806.9" width="9.6" height="9.6"/><rect x="1660.8" y="794.7" width="9.6" height="9.6"/><rect x="1660.2" y="806.3" width="9.6" height="9.6"/><rect x="1665" y="791.2" width="9.6" height="9.6"/><rect x="1665.2" y="802" width="9.6" height="9.6"/><rect x="1668.4" y="789.9" width="9.6" height="9.6"/><rect x="1669.2" y="797.4" width="9.6" height="9.6"/><rect x="1673.5" y="788.5" width="9.6" height="9.6"/><rect x="1673" y="796.7" width="9.6" height="9.6"/><rect x="1677" y="785" width="9.6" height="9.6"/><rect x="1677.7" y="792.9" width="9.6" height="9.6"/><rect x="1680.4" y="783.3" width="9.6" height="9.6"/><rect x="1680.8" y="790.8" width="9.6" height="9.6"/><rect x="1685.7" y="780.5" width="9.6" height="9.6"/><rect x="1686.1" y="788.3" width="9.6" height="9.6"/><rect x="1691.3" y="776.6" width="9.6" height="9.6"/><rect x="1690.2" y="783.2" width="9.6" height="9.6"/><rect x="1696.3" y="772.4" width="9.6" height="9.6"/><rect x="1694.3" y="782.8" width="9.6" height="9.6"/><rect x="1698.5" y="767.2" width="9.6" height="9.6"/><rect x="1699.3" y="778.7" width="9.6" height="9.6"/><rect x="1703" y="764.7" width="9.6" height="9.6"/><rect x="1702.4" y="779.3" width="9.6" height="9.6"/><rect x="1705.2" y="764.5" width="9.6" height="9.6"/><rect x="1705.5" y="777" width="9.6" height="9.6"/><rect x="1711.6" y="760.3" width="9.6" height="9.6"/><rect x="1710.4" y="772.2" width="9.6" height="9.6"/><rect x="1714.8" y="758.5" width="9.6" height="9.6"/><rect x="1713.9" y="769.2" width="9.6" height="9.6"/><rect x="1720.2" y="753.4" width="9.6" height="9.6"/><rect x="1719.2" y="766.6" width="9.6" height="9.6"/><rect x="1722.9" y="752" width="9.6" height="9.6"/><rect x="1723.4" y="763.4" width="9.6" height="9.6"/><rect x="1726.5" y="748.3" width="9.6" height="9.6"/><rect x="1728" y="763.5" width="9.6" height="9.6"/><rect x="1733.2" y="746.9" width="9.6" height="9.6"/><rect x="1732.3" y="756.7" width="9.6" height="9.6"/><rect x="1737" y="744.1" width="9.6" height="9.6"/><rect x="1738.1" y="754.6" width="9.6" height="9.6"/><rect x="1742.1" y="741" width="9.6" height="9.6"/><rect x="1741.1" y="753.5" width="9.6" height="9.6"/><rect x="1744.8" y="740.9" width="9.6" height="9.6"/><rect x="1743.8" y="752.9" width="9.6" height="9.6"/><rect x="1747.7" y="737.6" width="9.6" height="9.6"/><rect x="1748.9" y="749.9" width="9.6" height="9.6"/><rect x="1752.8" y="736.6" width="9.6" height="9.6"/><rect x="1754" y="748.1" width="9.6" height="9.6"/><rect x="1757.6" y="735" width="9.6" height="9.6"/><rect x="1756.4" y="746.2" width="9.6" height="9.6"/><rect x="1760.5" y="733.2" width="9.6" height="9.6"/><rect x="1760.2" y="744.3" width="9.6" height="9.6"/><rect x="1765.3" y="728.9" width="9.6" height="9.6"/><rect x="1765.2" y="740.7" width="9.6" height="9.6"/><rect x="1769.6" y="728.7" width="9.6" height="9.6"/><rect x="1770.5" y="737.8" width="9.6" height="9.6"/><rect x="1774.7" y="724.5" width="9.6" height="9.6"/><rect x="1774.6" y="736.3" width="9.6" height="9.6"/><rect x="1779.3" y="724.8" width="9.6" height="9.6"/><rect x="1779.2" y="735.8" width="9.6" height="9.6"/><rect x="1786.2" y="722.4" width="9.6" height="9.6"/><rect x="1786.3" y="732.4" width="9.6" height="9.6"/><rect x="1789.8" y="719.5" width="9.6" height="9.6"/><rect x="1789.5" y="732.3" width="9.6" height="9.6"/><rect x="1793.8" y="720" width="9.6" height="9.6"/><rect x="1794.9" y="730" width="9.6" height="9.6"/><rect x="1799.5" y="717.5" width="9.6" height="9.6"/><rect x="1799.7" y="729.2" width="9.6" height="9.6"/><rect x="1804.8" y="715.7" width="9.6" height="9.6"/><rect x="1804" y="726.9" width="9.6" height="9.6"/><rect x="1810.6" y="715.7" width="9.6" height="9.6"/><rect x="1810.6" y="722.9" width="9.6" height="9.6"/><rect x="1815.3" y="709.7" width="9.6" height="9.6"/><rect x="1815.3" y="720.4" width="9.6" height="9.6"/><rect x="1821.2" y="709.6" width="9.6" height="9.6"/><rect x="1820.4" y="717.7" width="9.6" height="9.6"/><rect x="1826.1" y="705.7" width="9.6" height="9.6"/><rect x="1826.5" y="718.7" width="9.6" height="9.6"/><rect x="1830.4" y="706" width="9.6" height="9.6"/><rect x="1831" y="714.5" width="9.6" height="9.6"/><rect x="1834.5" y="703.3" width="9.6" height="9.6"/><rect x="1834" y="714.5" width="9.6" height="9.6"/><rect x="1836.9" y="701.6" width="9.6" height="9.6"/><rect x="1838.2" y="712.1" width="9.6" height="9.6"/><rect x="1841.5" y="698.9" width="9.6" height="9.6"/><rect x="1842.3" y="711.4" width="9.6" height="9.6"/><rect x="1845.9" y="697.1" width="9.6" height="9.6"/><rect x="1846.3" y="706.8" width="9.6" height="9.6"/><rect x="1850.8" y="697.1" width="9.6" height="9.6"/><rect x="1851.2" y="705.7" width="9.6" height="9.6"/><rect x="1855.5" y="694.2" width="9.6" height="9.6"/><rect x="1855.4" y="703" width="9.6" height="9.6"/><rect x="1859.2" y="693.8" width="9.6" height="9.6"/><rect x="1859" y="703.3" width="9.6" height="9.6"/><rect x="1863.5" y="691.9" width="9.6" height="9.6"/><rect x="1862.8" y="701" width="9.6" height="9.6"/><rect x="1869.7" y="689.2" width="9.6" height="9.6"/><rect x="1868.1" y="700.6" width="9.6" height="9.6"/><rect x="1872.4" y="689.2" width="9.6" height="9.6"/><rect x="1871.5" y="700.7" width="9.6" height="9.6"/><rect x="1876.5" y="688.9" width="9.6" height="9.6"/><rect x="1876.3" y="698.7" width="9.6" height="9.6"/><rect x="1882.2" y="687.4" width="9.6" height="9.6"/><rect x="1881.9" y="698.7" width="9.6" height="9.6"/><rect x="1886.1" y="685.5" width="9.6" height="9.6"/><rect x="1886.4" y="698.5" width="9.6" height="9.6"/><rect x="1888.3" y="687.1" width="9.6" height="9.6"/><rect x="1888.8" y="698.3" width="9.6" height="9.6"/><rect x="1893.6" y="683.9" width="9.6" height="9.6"/><rect x="1894.4" y="697.4" width="9.6" height="9.6"/><rect x="1897.9" y="683.7" width="9.6" height="9.6"/><rect x="1898.4" y="694.5" width="9.6" height="9.6"/><rect x="1901.9" y="685" width="9.6" height="9.6"/><rect x="1901.3" y="694.4" width="9.6" height="9.6"/><rect x="1905.6" y="682.6" width="9.6" height="9.6"/><rect x="1905" y="692.9" width="9.6" height="9.6"/><rect x="1907.6" y="684.8" width="9.6" height="9.6"/><rect x="1909" y="694.5" width="9.6" height="9.6"/><rect x="1914.2" y="682.3" width="9.6" height="9.6"/><rect x="1913.1" y="693" width="9.6" height="9.6"/><rect x="1917.9" y="682" width="9.6" height="9.6"/><rect x="1918.7" y="691.6" width="9.6" height="9.6"/><rect x="1922.6" y="680.5" width="9.6" height="9.6"/><rect x="1923.7" y="691.2" width="9.6" height="9.6"/><rect x="1925.6" y="680.7" width="9.6" height="9.6"/><rect x="1926.4" y="690.4" width="9.6" height="9.6"/><rect x="1930.3" y="678.2" width="9.6" height="9.6"/><rect x="1931.5" y="689.5" width="9.6" height="9.6"/><rect x="1934" y="678.7" width="9.6" height="9.6"/><rect x="1934.3" y="687.7" width="9.6" height="9.6"/><rect x="1937.8" y="679.4" width="9.6" height="9.6"/><rect x="1937.6" y="689.2" width="9.6" height="9.6"/><rect x="1943.5" y="677" width="9.6" height="9.6"/><rect x="1942.4" y="686.9" width="9.6" height="9.6"/><rect x="1947.6" y="677.9" width="9.6" height="9.6"/><rect x="1948.3" y="685" width="9.6" height="9.6"/><rect x="1952" y="676.3" width="9.6" height="9.6"/><rect x="1951.4" y="686.3" width="9.6" height="9.6"/><rect x="1956" y="675.1" width="9.6" height="9.6"/><rect x="1957.2" y="684.7" width="9.6" height="9.6"/><rect x="1960.4" y="677.8" width="9.6" height="9.6"/><rect x="1961.2" y="683.5" width="9.6" height="9.6"/><rect x="1966.6" y="677" width="9.6" height="9.6"/><rect x="1964.9" y="683.8" width="9.6" height="9.6"/><rect x="1971.7" y="677.6" width="9.6" height="9.6"/><rect x="1971" y="685.4" width="9.6" height="9.6"/><rect x="1975.4" y="677.4" width="9.6" height="9.6"/><rect x="1976.3" y="685.4" width="9.6" height="9.6"/><rect x="1978.5" y="676.3" width="9.6" height="9.6"/><rect x="1979.4" y="683.6" width="9.6" height="9.6"/><rect x="1983.3" y="676.1" width="9.6" height="9.6"/><rect x="1984.4" y="684.7" width="9.6" height="9.6"/><rect x="1989.1" y="676.8" width="9.6" height="9.6"/><rect x="1988.3" y="685.7" width="9.6" height="9.6"/><rect x="1993.6" y="678.9" width="9.6" height="9.6"/><rect x="1993.2" y="687" width="9.6" height="9.6"/><rect x="1996.7" y="678.9" width="9.6" height="9.6"/><rect x="1996.5" y="687.1" width="9.6" height="9.6"/><rect x="2001.9" y="679.7" width="9.6" height="9.6"/><rect x="2002.2" y="687.7" width="9.6" height="9.6"/><rect x="2007.9" y="681.2" width="9.6" height="9.6"/><rect x="2008.7" y="690.8" width="9.6" height="9.6"/></g>
<rect x="1847.1" y="654.7" width="10" height="10" fill="#000"/>
<rect x="1847.1" y="670.5" width="10" height="10" fill="#000"/>
<rect x="1848" y="684.5" width="10" height="10" fill="#000"/>
<rect x="1859.4" y="684.5" width="10" height="10" fill="#000"/>
<rect x="1863.7" y="720.4" width="10" height="10" fill="#000"/>
<rect x="1914.5" y="703.7" width="10" height="10" fill="#000"/>
<rect x="2014.2" y="721.2" width="10" height="10" fill="#000"/>
<rect x="2015.1" y="735.2" width="10" height="10" fill="#000"/>
<rect x="2015.5" y="738" width="10" height="10" fill="#000"/>
<rect x="1853" y="685" width="10" height="10" fill="#000"/>
<polyline fill="none" stroke="#e33" stroke-width="1" points="1479.6,1029.8 1482,1026 1484.5,1023.7 1485.7,1016.3 1486.9,996.8 1489.4,975.9 1490.6,955.1 1493.1,942.9 1494.3,929.4 1496.2,918.4 1498,907.4 1499.7,900 1501.6,891.4 1504.1,882.9 1507.8,875.5 1512.7,870.6 1518,869 1523,868.5 1528.6,868.2 1533,869 1538.4,869.4 1545.7,863.3 1550,862 1555.5,859.6 1560.4,868.2 1566,865 1572.7,862 1577,861 1581.2,860.8 1587.4,865.7 1592,869 1597.1,871.8 1603,868 1609.4,864.5 1614,869 1619.2,873.1 1624,874 1629,874.3 1636.3,871.8 1641,870.5 1646.1,869.4 1653.5,873.1 1660.8,868.2 1666,872 1670.6,875.5 1675,878 1680.4,881.6 1685,883 1690.2,884.1 1695,886 1698.8,889 1705.2,890.4 1713,893 1721,895.1 1727.2,903 1735,903 1743,903 1750,904.5 1758.7,906.1 1765,908 1771.3,909.3 1777,906.5 1783.9,904.6 1790,907.5 1796.5,910.9 1803,910 1809.1,909.3 1815,911.5 1821.7,914 1828,915.5 1834.3,917.2 1842.2,921.9 1845.4,928.2 1846.3,943 1848.5,956.5 1853,958.5 1859.5,961.3 1864,962.5 1869,964.4 1873,963 1878.4,961.3 1883,965 1887.8,967.7 1893,966 1900,964 1906.7,963 1913,964 1919,965 1925.6,964.5 1932,964 1938,964.5 1944.5,964.5 1951,964 1957,964.5 1963.4,964.5 1970,966 1976,968 1982.3,969.2 1988,968 1995,966 2001.2,964.5 2007,962 2013,960 2020.1,958.2"/>
<circle cx="1479.6" cy="1029.8" r="5.6" fill="#f00"/>
<circle cx="1482" cy="1026" r="5.6" fill="#f00"/>
<circle cx="1484.5" cy="1023.7" r="5.6" fill="#f00"/>
<circle cx="1485.7" cy="1016.3" r="5.6" fill="#f00"/>
<circle cx="1486.9" cy="996.8" r="5.6" fill="#f00"/>
<circle cx="1489.4" cy="975.9" r="5.6" fill="#f00"/>
<circle cx="1490.6" cy="955.1" r="5.6" fill="#f00"/>
<circle cx="1493.1" cy="942.9" r="5.6" fill="#f00"/>
<circle cx="1494.3" cy="929.4" r="5.6" fill="#f00"/>
<circle cx="1496.2" cy="918.4" r="5.6" fill="#f00"/>
<circle cx="1498" cy="907.4" r="5.6" fill="#f00"/>
<circle cx="1499.7" cy="900" r="5.6" fill="#f00"/>
<circle cx="1501.6" cy="891.4" r="5.6" fill="#f00"/>
<circle cx="1504.1" cy="882.9" r="5.6" fill="#f00"/>
<circle cx="1507.8" cy="875.5" r="5.6" fill="#f00"/>
<circle cx="1512.7" cy="870.6" r="5.6" fill="#f00"/>
<circle cx="1518" cy="869" r="5.6" fill="#f00"/>
<circle cx="1523" cy="868.5" r="5.6" fill="#f00"/>
<circle cx="1528.6" cy="868.2" r="5.6" fill="#f00"/>
<circle cx="1533" cy="869" r="5.6" fill="#f00"/>
<circle cx="1538.4" cy="869.4" r="5.6" fill="#f00"/>
<circle cx="1545.7" cy="863.3" r="5.6" fill="#f00"/>
<circle cx="1550" cy="862" r="5.6" fill="#f00"/>
<circle cx="1555.5" cy="859.6" r="5.6" fill="#f00"/>
<circle cx="1560.4" cy="868.2" r="5.6" fill="#f00"/>
<circle cx="1566" cy="865" r="5.6" fill="#f00"/>
<circle cx="1572.7" cy="862" r="5.6" fill="#f00"/>
<circle cx="1577" cy="861" r="5.6" fill="#f00"/>
<circle cx="1581.2" cy="860.8" r="5.6" fill="#f00"/>
<circle cx="1587.4" cy="865.7" r="5.6" fill="#f00"/>
<circle cx="1592" cy="869" r="5.6" fill="#f00"/>
<circle cx="1597.1" cy="871.8" r="5.6" fill="#f00"/>
<circle cx="1603" cy="868" r="5.6" fill="#f00"/>
<circle cx="1609.4" cy="864.5" r="5.6" fill="#f00"/>
<circle cx="1614" cy="869" r="5.6" fill="#f00"/>
<circle cx="1619.2" cy="873.1" r="5.6" fill="#f00"/>
<circle cx="1624" cy="874" r="5.6" fill="#f00"/>
<circle cx="1629" cy="874.3" r="5.6" fill="#f00"/>
<circle cx="1636.3" cy="871.8" r="5.6" fill="#f00"/>
<circle cx="1641" cy="870.5" r="5.6" fill="#f00"/>
<circle cx="1646.1" cy="869.4" r="5.6" fill="#f00"/>
<circle cx="1653.5" cy="873.1" r="5.6" fill="#f00"/>
<circle cx="1660.8" cy="868.2" r="5.6" fill="#f00"/>
<circle cx="1666" cy="872" r="5.6" fill="#f00"/>
<circle cx="1670.6" cy="875.5" r="5.6" fill="#f00"/>
<circle cx="1675" cy="878" r="5.6" fill="#f00"/>
<circle cx="1680.4" cy="881.6" r="5.6" fill="#f00"/>
<circle cx="1685" cy="883" r="5.6" fill="#f00"/>
<circle cx="1690.2" cy="884.1" r="5.6" fill="#f00"/>
<circle cx="1695" cy="886" r="5.6" fill="#f00"/>
<circle cx="1698.8" cy="889" r="5.6" fill="#f00"/>
<circle cx="1705.2" cy="890.4" r="5.6" fill="#f00"/>
<circle cx="1713" cy="893" r="5.6" fill="#f00"/>
<circle cx="1721" cy="895.1" r="5.6" fill="#f00"/>
<circle cx="1727.2" cy="903" r="5.6" fill="#f00"/>
<circle cx="1735" cy="903" r="5.6" fill="#f00"/>
<circle cx="1743" cy="903" r="5.6" fill="#f00"/>
<circle cx="1750" cy="904.5" r="5.6" fill="#f00"/>
<circle cx="1758.7" cy="906.1" r="5.6" fill="#f00"/>
<circle cx="1765" cy="908" r="5.6" fill="#f00"/>
<circle cx="1771.3" cy="909.3" r="5.6" fill="#f00"/>
<circle cx="1777" cy="906.5" r="5.6" fill="#f00"/>
<circle cx="1783.9" cy="904.6" r="5.6" fill="#f00"/>
<circle cx="1790" cy="907.5" r="5.6" fill="#f00"/>
<circle cx="1796.5" cy="910.9" r="5.6" fill="#f00"/>
<circle cx="1803" cy="910" r="5.6" fill="#f00"/>
<circle cx="1809.1" cy="909.3" r="5.6" fill="#f00"/>
<circle cx="1815" cy="911.5" r="5.6" fill="#f00"/>
<circle cx="1821.7" cy="914" r="5.6" fill="#f00"/>
<circle cx="1828" cy="915.5" r="5.6" fill="#f00"/>
<circle cx="1834.3" cy="917.2" r="5.6" fill="#f00"/>
<circle cx="1842.2" cy="921.9" r="5.6" fill="#f00"/>
<circle cx="1845.4" cy="928.2" r="5.6" fill="#f00"/>
<circle cx="1846.3" cy="943" r="5.6" fill="#f00"/>
<circle cx="1848.5" cy="956.5" r="5.6" fill="#f00"/>
<circle cx="1853" cy="958.5" r="5.6" fill="#f00"/>
<circle cx="1859.5" cy="961.3" r="5.6" fill="#f00"/>
<circle cx="1864" cy="962.5" r="5.6" fill="#f00"/>
<circle cx="1869" cy="964.4" r="5.6" fill="#f00"/>
<circle cx="1873" cy="963" r="5.6" fill="#f00"/>
<circle cx="1878.4" cy="961.3" r="5.6" fill="#f00"/>
<circle cx="1883" cy="965" r="5.6" fill="#f00"/>
<circle cx="1887.8" cy="967.7" r="5.6" fill="#f00"/>
<circle cx="1893" cy="966" r="5.6" fill="#f00"/>
<circle cx="1900" cy="964" r="5.6" fill="#f00"/>
<circle cx="1906.7" cy="963" r="5.6" fill="#f00"/>
<circle cx="1913" cy="964" r="5.6" fill="#f00"/>
<circle cx="1919" cy="965" r="5.6" fill="#f00"/>
<circle cx="1925.6" cy="964.5" r="5.6" fill="#f00"/>
<circle cx="1932" cy="964" r="5.6" fill="#f00"/>
<circle cx="1938" cy="964.5" r="5.6" fill="#f00"/>
<circle cx="1944.5" cy="964.5" r="5.6" fill="#f00"/>
<circle cx="1951" cy="964" r="5.6" fill="#f00"/>
<circle cx="1957" cy="964.5" r="5.6" fill="#f00"/>
<circle cx="1963.4" cy="964.5" r="5.6" fill="#f00"/>
<circle cx="1970" cy="966" r="5.6" fill="#f00"/>
<circle cx="1976" cy="968" r="5.6" fill="#f00"/>
<circle cx="1982.3" cy="969.2" r="5.6" fill="#f00"/>
<circle cx="1988" cy="968" r="5.6" fill="#f00"/>
<circle cx="1995" cy="966" r="5.6" fill="#f00"/>
<circle cx="2001.2" cy="964.5" r="5.6" fill="#f00"/>
<circle cx="2007" cy="962" r="5.6" fill="#f00"/>
<circle cx="2013" cy="960" r="5.6" fill="#f00"/>
<circle cx="2020.1" cy="958.2" r="5.6" fill="#f00"/>
</g>
<rect x="1458.5" y="596.4" width="568.9000000000001" height="457.69999999999993" fill="none" stroke="#3a3a3a" stroke-width="2"/>
<line x1="1448.5" y1="1030.1" x2="1458.5" y2="1030.1" stroke="#333" stroke-width="1.8"/>
<line x1="1453.5" y1="990.7" x2="1458.5" y2="990.7" stroke="#333" stroke-width="1.8"/>
<line x1="1448.5" y1="951.4" x2="1458.5" y2="951.4" stroke="#333" stroke-width="1.8"/>
<line x1="1453.5" y1="912" x2="1458.5" y2="912" stroke="#333" stroke-width="1.8"/>
<line x1="1448.5" y1="872.7" x2="1458.5" y2="872.7" stroke="#333" stroke-width="1.8"/>
<line x1="1453.5" y1="833.3" x2="1458.5" y2="833.3" stroke="#333" stroke-width="1.8"/>
<line x1="1448.5" y1="793.9" x2="1458.5" y2="793.9" stroke="#333" stroke-width="1.8"/>
<line x1="1453.5" y1="754.6" x2="1458.5" y2="754.6" stroke="#333" stroke-width="1.8"/>
<line x1="1448.5" y1="715.2" x2="1458.5" y2="715.2" stroke="#333" stroke-width="1.8"/>
<line x1="1453.5" y1="675.9" x2="1458.5" y2="675.9" stroke="#333" stroke-width="1.8"/>
<line x1="1448.5" y1="636.5" x2="1458.5" y2="636.5" stroke="#333" stroke-width="1.8"/>
<line x1="1453.5" y1="597.1" x2="1458.5" y2="597.1" stroke="#333" stroke-width="1.8"/>
<line x1="1479.9" y1="1054.1" x2="1479.9" y2="1062.6" stroke="#333" stroke-width="1.8"/>
<line x1="1534.1" y1="1054.1" x2="1534.1" y2="1058.6" stroke="#333" stroke-width="1.8"/>
<line x1="1588.3" y1="1054.1" x2="1588.3" y2="1062.6" stroke="#333" stroke-width="1.8"/>
<line x1="1642.5" y1="1054.1" x2="1642.5" y2="1058.6" stroke="#333" stroke-width="1.8"/>
<line x1="1696.7" y1="1054.1" x2="1696.7" y2="1062.6" stroke="#333" stroke-width="1.8"/>
<line x1="1750.9" y1="1054.1" x2="1750.9" y2="1058.6" stroke="#333" stroke-width="1.8"/>
<line x1="1805.1" y1="1054.1" x2="1805.1" y2="1062.6" stroke="#333" stroke-width="1.8"/>
<line x1="1859.3" y1="1054.1" x2="1859.3" y2="1058.6" stroke="#333" stroke-width="1.8"/>
<line x1="1913.5" y1="1054.1" x2="1913.5" y2="1062.6" stroke="#333" stroke-width="1.8"/>
<line x1="1967.7" y1="1054.1" x2="1967.7" y2="1058.6" stroke="#333" stroke-width="1.8"/>
<line x1="2021.9" y1="1054.1" x2="2021.9" y2="1062.6" stroke="#333" stroke-width="1.8"/>
<g font-family='"Liberation Sans", Arial, sans-serif' font-size="30.5" fill="#111">
<text x="1442.5" y="1040.3" text-anchor="end">0</text>
<text x="1442.5" y="961.6" text-anchor="end">1</text>
<text x="1442.5" y="882.9" text-anchor="end">2</text>
<text x="1442.5" y="804.1" text-anchor="end">3</text>
<text x="1442.5" y="725.4" text-anchor="end">4</text>
<text x="1442.5" y="646.7" text-anchor="end">5</text>
</g>
<g font-family='"Liberation Sans", Arial, sans-serif' font-size="26" fill="#111">
<text x="1479.9" y="1089.3" text-anchor="middle">0.00</text>
<text x="1588.3" y="1089.3" text-anchor="middle">0.05</text>
<text x="1696.7" y="1089.3" text-anchor="middle">0.10</text>
<text x="1805.1" y="1089.3" text-anchor="middle">0.15</text>
<text x="1913.5" y="1089.3" text-anchor="middle">0.20</text>
<text x="2021.9" y="1089.3" text-anchor="middle">0.25</text>
</g>
<text x="1636" y="1135.2" font-family='"Liberation Sans", Arial, sans-serif' font-size="31" fill="#111">Extension (mm)</text>
<text transform="translate(1414,886) rotate(-90)" font-family='"Liberation Sans", Arial, sans-serif' font-size="31" fill="#111">Load (N)</text>
<line x1="1466.4" y1="640.5" x2="1529.9" y2="640.5" stroke="#aaa" stroke-width="1"/>
<rect x="1492.8" y="635.3" width="10.5" height="10.5" fill="#000"/>
<line x1="1466.4" y1="675" x2="1529.9" y2="675" stroke="#f9a0a0" stroke-width="1"/>
<circle cx="1498" cy="675" r="6.1" fill="#f00"/>
<text x="1537.3" y="650.3" font-family='"Liberation Sans", Arial, sans-serif' font-size="28.6" fill="#111">Catecholic Hydrogel</text>
<text x="1537" y="686" font-family='"Liberation Sans", Arial, sans-serif' font-size="28.9" fill="#111">HA Hydrogel</text>
<g clip-path="url(#clipFi)">
<rect x="1859.5" y="738" width="115.29999999999995" height="162.89999999999998" fill="url(#gFi)"/>
<g filter="url(#blur15)">
<ellipse cx="1962" cy="848" rx="22" ry="34" fill="#a3988e" opacity="0.85"/>
<path d="M1889,799 C1889,789 1894,779 1901,768 C1908,759 1918,753 1930,749.5 L1955,745 L1976,742 L1976,806 L1955,803 L1938,801.5 L1915,803 L1892,805 Z" fill="#d9a588"/>
<path d="M1903,772 C1914,763 1932,757 1976,751 L1976,770 C1952,774 1931,780 1910,788 Z" fill="#e4b497" opacity="0.85"/>
<path d="M1891,797 C1903,791 1925,789 1948,789 L1948,800 L1915,802.5 L1891,804 Z" fill="#e6b59a" opacity="0.9"/>
<path d="M1940,802 L1976,802 L1976,817 L1950,816 Z" fill="#74584a"/>
<ellipse cx="1962" cy="825" rx="16" ry="8" fill="#d6a389"/>
<path d="M1893,803 L1934,803 L1935,845 L1893,845 Z" fill="#cdb2a4"/>
<rect x="1893" y="803" width="2" height="68" fill="#9a908c"/>
<rect x="1932" y="803" width="2" height="68" fill="#a8a09c"/>
<rect x="1898" y="806" width="2.5" height="36" fill="#eee6e0" opacity="0.8"/>
<rect x="1920" y="806" width="8" height="36" fill="#bcaea6" opacity="0.7"/>
<rect x="1895" y="844" width="38" height="26" fill="#bab8b6"/>
<rect x="1895" y="843" width="38" height="3" fill="#ebebeb"/>
<path d="M1900,869 L1936,869 L1936,887 C1930,891 1906,891 1901,887 Z" fill="#efefef"/>
<ellipse cx="1916" cy="871.5" rx="8" ry="2.6" fill="#8a7a68"/>
</g>
</g>
<g font-family='"Liberation Sans", Arial, sans-serif' font-size="49.0" fill="#000">
<text transform="translate(-0.9,38.7) scale(0.914,1)">A</text>
<text transform="translate(32.9,37.7) scale(0.747,1)">)</text>
<text transform="translate(662.4,38.7) scale(0.875,1)">B</text>
<text transform="translate(694.2,37.7) scale(0.701,1)">)</text>
<text transform="translate(1355.4,37.3) scale(0.787,1)">C</text>
<text transform="translate(1385.9,36.3) scale(0.762,1)">)</text>
<text transform="translate(-0.2,596.7) scale(0.896,1)">D</text>
<text transform="translate(34.9,595.7) scale(0.755,1)">)</text>
<text transform="translate(662.3,597.8) scale(0.712,1)">E</text>
<text transform="translate(689.9,596.8) scale(0.755,1)">)</text>
<text transform="translate(1360.1,597) scale(0.747,1)">F</text>
<text transform="translate(1386.8,596) scale(0.770,1)">)</text>
</g>
</svg>
</body></html>
